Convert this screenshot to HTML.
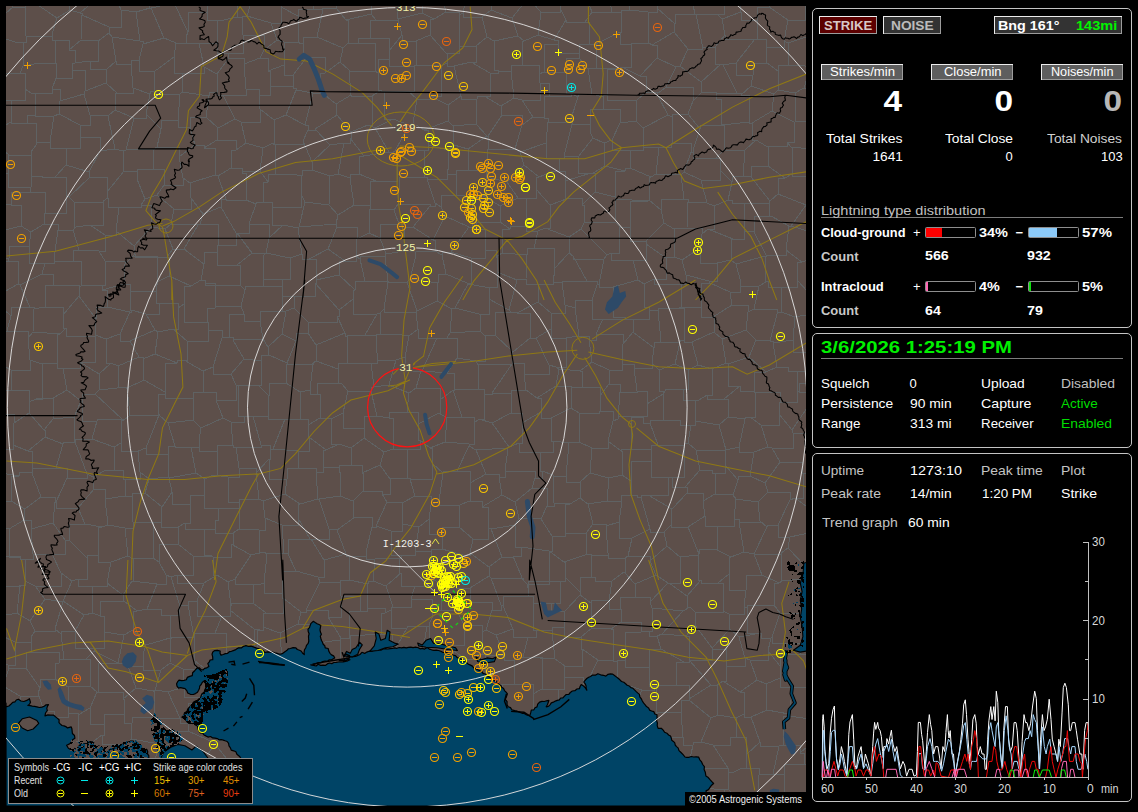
<!DOCTYPE html>
<html><head><meta charset="utf-8"><title>Lightning Map</title><style>html,body{margin:0;padding:0;background:#000}body{width:1138px;height:812px;overflow:hidden;position:relative;font-family:"Liberation Sans",sans-serif}svg{position:absolute;left:0;top:0}.t{position:absolute;white-space:nowrap;line-height:1;margin:0;padding:0}</style></head><body>
<svg width="1138" height="812" viewBox="0 0 1138 812">
<rect x="6" y="6" width="800" height="800" fill="#5d4f4a"/>
<svg x="6" y="6" width="800" height="800" viewBox="6 6 800 800" overflow="hidden">
<path d="M16 820L9 820L9 805M37 812L37 812L37 792M9 805L29 787M37 792L29 787M415 586L401 586L401 573M415 586L411 599M401 573L386 586M386 586L393 607M393 607L411 607L411 599M310 539L298 518M310 539L288 539L288 554M284 553L288 553L288 554M284 553L282 525M282 525L298 525L298 518M377 416L389 418M377 416L371 391M409 393L389 385M409 393L407 412M389 385L374 387M374 387L371 387L371 391M407 412L389 412L389 418M377 416L364 416L364 428M364 438L364 438L364 428M364 438L384 452M384 452L393 449M389 418L393 418L393 449M311 539L329 539L329 529M311 539L324 560M324 560L346 554M346 554L337 530M329 529L337 529L337 530M296 571L288 554M296 571L318 577M310 539L311 539M318 577L324 577L324 560M222 616L230 616L230 610M222 616L215 633M215 633L226 633L226 646M226 646L254 646L254 629M230 610L254 629M124 601L100 601L100 616M124 601L137 611M137 611L133 611L133 630M100 616L104 616L104 632M104 632L124 635M133 630L124 635M147 609L157 584M147 609L137 611M123 595L132 581M123 595L124 601M157 584L132 581M197 601L204 583M197 601L188 601L188 605M188 605L179 605L179 603M179 603L171 577M204 583L177 583L177 575M177 575L171 577M147 609L161 609L161 615M157 584L166 584L166 575M166 575L171 577M161 615L179 615L179 603M9 805L-4 805L-4 799M11 717L20 717L20 696M11 717L-1 717L-1 718M3 686L20 696M3 686L-11 686L-11 692M9 668L3 686M9 668L8 665M-16 653L8 665M37 792L50 792L50 789M59 767L61 767L61 770M59 767L39 762M29 787L22 775M39 762L22 762L22 775M61 770L50 770L50 789M8 261L18 261L18 284M8 261L9 258M42 274L20 285M42 274L45 263M45 263L29 263L29 246M18 284L20 284L20 285M29 246L9 246L9 258M8 261L-10 266M9 258L-6 258L-6 233M30 192L11 192L11 205M30 192L45 192L45 213M11 205L21 205L21 226M45 213L44 224M44 224L31 232M21 226L31 232M-5 202L11 205M-6 233L21 226M29 246L31 232M330 691L337 712M330 691L321 686M325 722L337 722L337 712M325 722L308 706M321 686L312 693M308 706L312 706L312 693M321 686L321 672M321 672L302 660M299 684L312 693M299 684L296 663M296 663L302 663L302 660M407 412L418 412L418 424M400 449L393 449M400 449L420 449L420 440M420 440L418 440L418 424M416 388L421 371M416 388L440 388L440 400M447 373L454 373L454 389M447 373L422 371M422 371L421 371L421 371M440 400L453 390M453 390L454 390L454 389M409 393L416 388M418 424L439 413M439 413L440 413L440 400M447 338L457 338L457 358M447 338L437 338L437 338M437 338L422 371M457 358L447 373M355 517L372 517L372 527M355 517L337 530M350 556L346 556L346 554M350 556L366 556L366 552M372 527L366 552M401 573L399 573L399 558M386 586L373 581M373 581L375 559M399 558L375 558L375 559M793 687L789 714M793 687L780 687L780 678M789 714L767 710M780 678L766 684M767 710L766 710L766 684M793 687L807 687L807 682M801 654L813 654L813 668M801 654L780 654L780 666M780 666L780 678M807 682L813 668M486 474L470 483M486 474L476 450M457 471L470 471L470 483M457 471L469 446M469 446L476 450M486 474L499 474L499 477M499 477L502 495M469 501L470 501L470 483M469 501L482 501L482 507M502 495L482 507M642 823L634 800M634 800L614 802M614 802L612 802L612 816M30 192L31 187M45 213L66 213L66 196M55 177L66 177L66 196M55 177L42 177L42 176M42 176L31 176L31 187M478 389L478 365M478 389L484 389L484 394M484 394L492 394L492 393M492 393L512 364M512 364L478 364L478 365M476 361L457 358M476 361L478 365M454 389L478 389M445 216L469 227M445 216L433 240M469 227L451 252M433 240L435 240L435 251M435 251L442 255M451 252L442 252L442 255M500 206L500 222M500 206L482 195M482 195L479 198M479 198L472 198L472 227M500 222L476 222L476 229M476 229L472 227M518 198L519 198M518 198L507 182M539 177L536 177L536 189M539 177L524 165M519 198L536 198L536 189M507 182L524 165M518 198L500 206M482 195L486 195L486 177M507 182L487 177M486 177L487 177M373 581L368 581L368 584M350 556L349 556L349 580M375 559L366 559L366 552M368 584L349 580M318 577L320 582M320 582L340 582L340 587M349 580L340 580L340 587M306 610L328 610L328 617M306 610L320 582M328 617L341 617L341 596M341 596L340 587M316 472L323 472L323 467M316 472L318 499M323 467L339 467L339 472M339 472L340 472L340 496M340 496L319 499M319 499L318 499M300 504L285 494M300 504L318 499M285 494L287 479M304 468L287 468L287 479M304 468L316 468L316 472M326 450L323 450L323 467M326 450L339 444M339 444L351 448M351 448L352 465M352 465L339 465L339 472M355 517L353 517L353 501M329 529L319 499M353 501L340 496M300 504L298 504L298 518M341 383L348 391M341 383L317 383L317 394M348 391L343 413M317 394L320 394L320 418M343 413L331 419M331 419L320 418M364 428L343 428L343 413M371 391L348 391L348 391M339 444L331 444L331 419M351 448L364 438M301 612L283 598M301 612L306 612L306 610M296 571L282 571L282 593M283 598L282 598L282 593M267 554L264 583M267 554L284 553M282 593L264 593L264 583M222 616L197 616L197 601M215 633L194 633L194 637M188 605L194 637M194 637L194 637L194 637M217 575L213 575L213 557M217 575L204 583M213 557L210 555M177 575L193 575L193 556M193 556L210 556L210 555M326 450L309 437M304 468L298 468L298 451M298 451L309 451L309 437M320 418L308 425M309 437L308 437L308 425M536 778L526 764M536 778L530 792M526 764L511 770M530 792L519 800M519 800L514 800L514 798M514 798L511 770M3 778L-14 765M3 778L21 775M21 775L13 748M13 748L-3 747M-4 799L3 778M22 775L21 775L21 775M39 762L37 762L37 744M37 744L25 738M25 738L13 748M11 717L24 726M24 726L25 738M-7 586L20 586L20 585M-13 607L1 616M20 585L17 613M1 616L17 613M1 616L-0 635M8 665L15 665L15 642M-0 635L15 642M9 668L26 668L26 668M36 652L26 652L26 668M36 652L31 652L31 637M15 642L31 642L31 637M61 770L78 775M78 775L79 795M50 789L70 789L70 807M79 795L70 795L70 807M70 813L70 813L70 807M211 691L204 691L204 697M211 691L211 691L211 673M204 697L184 697L184 687M211 673L195 661M184 687L183 669M183 669L195 669L195 661M223 692L238 716M223 692L211 692L211 691M221 721L238 721L238 716M221 721L203 721L203 703M203 703L204 703L204 697M223 692L238 692L238 686M229 654L211 673M229 654L242 661M242 661L238 686M203 703L188 703L188 723M168 692L180 718M168 692L184 687M188 723L180 723L180 718M229 654L226 654L226 646M194 637L195 661M94 648L94 651M94 648L104 648L104 632M124 635L118 663M118 663L118 663L118 663M94 651L118 663M73 230L58 230L58 230M73 230L79 250M58 230L54 259M79 250L73 250L73 261M73 261L54 261L54 259M45 263L54 263L54 259M44 224L58 224L58 230M76 227L74 227L74 202M76 227L90 225M90 225L103 225L103 201M74 202L103 202L103 201M66 196L69 196L69 197M69 197L74 202M73 230L76 227M99 251L79 250M99 251L105 251L105 235M105 235L90 225M235 119L223 95M235 119L218 128M223 95L217 95L217 92M206 117L218 128M206 117L209 96M217 92L209 92L209 96M206 117L190 117L190 127M190 127L178 127L178 120M178 120L180 94M180 94L182 92M209 96L182 92M193 398L193 420M193 398L165 398L165 394M165 394L158 394L158 414M193 420L168 423M168 423L159 415M158 414L159 414L159 415M122 419L95 394M122 419L97 419L97 421M95 394L82 394L82 401M97 421L82 421L82 401M732 305L748 305L748 312M732 305L730 292M759 286L740 286L740 279M759 286L754 309M748 312L754 309M730 292L740 292L740 279M768 281L759 286M768 281L765 281L765 256M765 256L736 264M740 279L736 264M330 691L346 685M363 705L364 705L364 703M363 705L349 711M349 711L337 712M346 685L364 685L364 703M256 715L255 715L255 696M256 715L264 715L264 719M264 719L285 719L285 715M284 694L288 711M284 694L269 694L269 680M285 715L288 711M255 696L269 696L269 680M248 718L238 716M248 718L256 715M238 686L255 696M267 742L289 750M267 742L264 719M299 741L289 741L289 750M299 741L285 715M308 706L288 706L288 711M299 684L284 694M299 741L319 741M325 722L322 740M319 741L322 741L322 740M280 818L283 800M253 816L252 805M252 805L271 788M271 788L283 788L283 800M280 633L282 661M280 633L263 627M259 630L263 630L263 627M259 630L257 630L257 660M257 660L270 668M270 668L282 661M296 663L282 661M302 660L310 660L310 644M298 624L280 633M298 624L310 624L310 644M301 612L298 624M266 613L283 613L283 598M266 613L263 613L263 627M242 661L257 661L257 660M254 629L259 629L259 630M269 680L270 668M406 741L393 747M406 741L420 741L420 744M420 744L413 772M393 747L389 747L389 771M389 771L406 771L406 776M406 776L413 776L413 772M372 738L393 747M372 738L375 722M375 722L397 722L397 719M397 719L406 719L406 741M528 752L512 740M528 752L526 752L526 764M512 740L496 749M511 770L494 764M496 749L494 764M514 798L496 798L496 800M490 797L496 800M490 797L491 767M491 767L494 767L494 764M528 752L546 744M512 740L514 740L514 719M543 726L546 744M543 726L522 726L522 717M522 717L514 719M446 759L425 759L425 776M446 759L458 776M458 776L456 776L456 789M456 789L435 789M425 776L435 776L435 789M457 791L456 789M457 791L473 800M473 800L490 797M472 766L491 766L491 767M472 766L458 766L458 776M452 645L464 645L464 625M452 645L429 645L429 624M442 610L458 610L458 613M442 610L432 610L432 618M458 613L464 625M432 618L429 624M429 661L453 661L453 650M429 661L422 657M453 650L452 650L452 645M427 626L422 657M427 626L429 626L429 624M471 602L470 588M471 602L458 613M470 588L456 588L456 579M456 579L440 584M440 584L442 610M415 586L433 586L433 579M411 599L432 599L432 618M440 584L433 579M447 338L450 333M437 338L418 338L418 329M417 311L437 301M417 311L416 312M450 333L452 309M437 301L452 309M416 312L418 329M442 534L429 534L429 519M442 534L442 549M442 549L431 549L431 557M419 527L429 519M419 527L415 551M415 551L431 551L431 557M463 555L442 549M463 555L456 579M433 579L431 579L431 557M399 558L401 558L401 555M401 555L415 555L415 551M391 531L376 526M391 531L402 531L402 524M376 526L387 502M402 524L402 524L402 503M402 503L387 502M372 527L376 527L376 526M401 555L391 555L391 531M419 527L402 524M801 654L800 654L800 643M817 633L810 633L810 630M800 643L810 630M780 666L768 651M766 684L757 680M757 680L750 660M750 660L768 660L768 651M734 772L728 772L728 789M734 772L742 768M728 789L742 803M742 803L758 803L758 802M758 802L759 775M742 768L759 768L759 775M789 714L790 714L790 716M790 716L783 716L783 745M783 745L779 745L779 746M767 710L751 717M779 746L760 746L760 742M751 717L760 742M734 772L728 772L728 768M713 745L728 768M713 745L730 745L730 737M742 768L746 768L746 755M730 737L746 737L746 755M779 746L773 774M773 774L759 774L759 775M746 755L760 742M807 682L819 694M728 789L725 789L725 790M742 803L738 803L738 825M725 790L716 815M767 818L766 807M766 807L758 807L758 802M804 764L784 764L784 783M804 764L820 773M820 773L811 792M811 792L794 797M794 797L787 797L787 793M787 793L784 793L784 783M783 745L800 745L800 753M800 753L804 753L804 764M773 774L784 774L784 783M823 803L811 792M799 824L794 824L794 797M766 807L787 793M816 739L809 739L809 719M809 719L821 719L821 710M800 753L816 739M790 716L809 719M745 419L728 417M745 419L739 447M739 447L726 450M726 450L719 425M719 425L728 417M766 372L749 357M766 372L754 372L754 391M754 391L740 391L740 386M740 386L728 386L728 364M728 364L749 357M750 417L755 417L755 392M750 417L745 417L745 419M755 392L754 392L754 391M724 399L728 399L728 417M724 399L740 386M756 340L770 340L770 341M756 340L746 330M746 330L748 312M754 309L777 309L777 314M770 341L777 314M782 287L781 287L781 312M782 287L768 287L768 281M781 312L777 312L777 314M522 717L533 717L533 694M514 719L502 713M502 713L502 685M502 685L503 684M503 684L533 684L533 694M549 689L542 689M549 689L558 689L558 712M558 712L543 726M542 689L533 694M524 657L542 657L542 689M524 657L523 657M503 684L514 684L514 660M523 657L514 660M489 567L502 557M489 567L470 553M502 557L491 529M470 553L473 539M473 539L488 539L488 528M488 528L491 529M470 588L489 576M463 555L470 555L470 553M489 576L489 567M459 527L442 527L442 534M459 527L473 539M469 501L460 505M459 527L460 505M482 507L488 507L488 528M445 442L447 418M445 442L469 444M469 444L474 444L474 423M447 418L462 417M462 417L474 417L474 423M430 448L445 442M430 448L420 440M439 413L447 418M453 390L462 417M479 419L474 423M479 419L484 419L484 394M499 477L505 477L505 471M476 450L508 448M505 471L508 448M469 446L469 444M492 423L479 419M492 423L509 447M509 447L508 447L508 448M740 692L744 692L744 714M740 692L723 681M723 681L717 685M717 685L718 715M718 715L736 718M736 718L744 714M757 680L740 692M751 717L744 717L744 714M730 737L736 737L736 718M555 659L565 666M555 659L552 632M565 666L582 666L582 649M582 649L581 649L581 637M581 637L564 637L564 627M564 627L552 627L552 632M549 689L564 689L564 677M564 677L565 666M524 657L555 659M528 637L523 657M528 637L536 637L536 630M536 630L552 630L552 632M598 660L585 687M598 660L582 649M564 677L583 677L583 687M583 687L585 687M592 628L611 629M592 628L581 637M611 629L613 629L613 661M613 661L598 660M642 690L654 690L654 686M642 690L618 682M654 686L649 686L649 667M649 667L625 667L625 660M618 682L617 682L617 663M625 660L617 660L617 663M611 691L618 691L618 682M611 691L612 691L612 709M630 717L642 690M630 717L628 717L628 717M628 717L612 717L612 709M661 649L684 662M661 649L649 649L649 667M684 662L676 662L676 685M676 685L656 685L656 687M656 687L654 686M657 636L649 636L649 631M657 636L661 649M649 631L641 632M641 632L625 632L625 660M613 661L617 661L617 663M611 691L585 687M611 629L621 622M621 622L641 622L641 632M628 717L625 717L625 738M612 709L596 709L596 719M625 738L610 738L610 749M610 749L600 742M600 742L596 742L596 719M583 687L580 687L580 714M596 719L580 714M558 712L574 717M580 714L574 714L574 717M728 768L694 768L694 769M725 790L703 788M703 788L694 769M623 771L612 771L612 762M623 771L611 797M612 762L594 773M611 797L594 797L594 790M594 790L594 773M65 148L80 148L80 137M65 148L66 148L66 165M66 165L89 172M80 137L100 137L100 151M100 151L89 172M55 177L66 165M69 197L90 177M90 177L89 172M90 177L107 177L107 192M115 149L123 151M115 149L100 151M123 151L124 171M124 171L107 192M105 235L116 235L116 231M116 231L119 207M103 201L108 198M119 207L108 207L108 198M107 192L108 198M126 150L155 149M126 150L134 118M161 129L146 114M161 129L157 147M157 147L155 147L155 149M134 118L146 118L146 114M115 149L108 116M123 151L126 150M108 116L115 110M115 110L134 118M178 120L161 120L161 129M180 94L154 94L154 91M154 91L150 91L150 94M150 94L146 114M117 93L115 93L115 110M117 93L133 93L133 88M133 88L150 94M6 39L-2 20M6 39L-12 39L-12 53M13 7L-2 20M13 7L5 -16M35 3L57 18M35 3L25 3L25 7M25 7L26 36M26 36L52 36L52 34M57 18L52 34M70 10L69 -11M70 10L57 18M36 -8L35 3M13 7L25 7L25 7M15 42L26 42L26 36M15 42L6 39M15 42L23 42L23 66M23 66L40 63M40 63L55 63L55 40M55 40L52 40L52 34M287 364L313 364L313 363M287 364L286 364L286 383M313 363L310 390M286 383L300 392M310 390L300 392M317 394L310 394L310 390M294 419L308 419L308 425M294 419L300 419L300 392M316 361L316 345M316 361L338 369M316 345L345 333M343 363L338 363L338 369M343 363L347 363L347 336M347 336L345 336L345 333M308 333L316 345M308 333L296 333L296 341M287 364L287 363M313 363L316 361M287 363L296 341M341 383L338 383L338 369M308 333L308 322M308 322L337 322L337 316M337 316L345 333M374 387L371 363M371 363L343 363L343 363M376 181L370 181L370 208M376 181L359 174M359 174L350 174L350 178M350 178L354 205M354 205L370 205L370 208M446 274L438 274L438 283M446 274L467 283M438 283L437 283L437 301M452 309L455 308M455 308L468 284M467 283L468 284M446 274L442 255M451 252L471 258M467 283L471 283L471 258M469 227L472 227M476 229L485 229L485 250M471 258L485 258L485 250M556 367L549 365M556 367L566 367L566 338M549 365L536 338M566 338L551 338L551 329M551 329L536 338M713 317L714 317L714 332M713 317L732 305M746 330L722 339M722 339L714 332M756 340L749 357M728 364L726 363M722 339L726 363M724 399L707 399L707 395M707 395L712 395L712 369M726 363L712 369M364 156L359 156L359 174M364 156L389 152M389 152L392 152L392 153M376 181L397 181L397 174M392 153L397 153L397 174M394 210L398 204M394 210L399 224M398 204L430 204L430 206M430 206L413 227M399 224L405 224L405 228M413 227L405 228M371 209L370 208M371 209L394 209L394 210M397 174L400 174L400 177M400 177L398 204M538 231L526 231L526 226M538 231L534 248M526 226L510 226L510 229M534 248L527 248L527 255M527 255L502 253M510 229L502 229L502 253M545 228L538 231M545 228L550 228L550 205M550 205L536 189M519 198L526 198L526 226M500 222L510 229M485 250L496 250L496 257M496 257L502 253M479 198L458 195M473 170L486 170L486 177M473 170L456 170L456 174M458 195L456 195L456 174M445 216L441 207M458 195L441 195L441 207M433 240L413 227M430 206L435 206L435 203M441 207L435 203M217 74L204 67M217 74L217 74L217 92M182 92L183 73M183 73L204 73L204 67M154 91L155 71M183 73L174 73L174 57M155 71L174 57M448 105L430 96M448 105L461 96M461 96L454 66M430 96L441 96L441 66M454 66L447 66L447 63M441 66L447 63M413 123L417 99M413 123L424 130M417 99L430 99L430 96M448 121L424 130M448 121L448 105M585 -5L592 12M607 -12L612 12M612 12L592 12L592 12M522 65L511 65L511 71M522 65L539 65L539 74M511 71L514 98M514 98L522 100M522 100L540 100L540 83M539 74L540 83M799 -11L805 -11L805 15M769 7L770 -10M769 7L788 20M788 20L805 20L805 15M805 15L813 19M767 63L778 71M767 63L766 63L766 47M766 47L784 47L784 41M802 65L788 65L788 43M802 65L778 65L778 71M784 41L788 43M755 39L757 39L757 20M755 39L755 39M755 39L766 39L766 47M769 7L757 7L757 20M788 20L784 41M819 65L810 65L810 68M810 68L802 65M815 34L788 43M810 68L804 88M804 88L795 93M778 71L778 71L778 90M778 90L795 93M824 162L806 162L806 176M813 202L806 176M791 147L792 147L792 174M791 147L822 150M806 176L792 176L792 174M362 473L363 473L363 491M362 473L380 465M363 491L382 491L382 494M382 494L390 494L390 479M380 465L390 479M352 465L362 465L362 473M353 501L363 491M384 452L380 465M387 502L382 494M400 449L407 449L407 478M407 478L390 478L390 479M415 496L410 479M415 496L431 496L431 505M431 505L439 501M439 501L443 473M410 479L432 479L432 463M432 463L443 473M407 478L410 478L410 479M402 503L415 496M429 519L431 505M460 505L439 505L439 501M457 471L443 471L443 473M430 448L432 448L432 463M261 584L253 584L253 603M261 584L235 584L235 579M253 603L231 603L231 606M231 606L228 582M235 579L228 582M266 613L253 603M264 583L261 583L261 584M267 554L264 552M264 552L251 555M251 555L235 579M230 610L231 606M217 575L228 582M213 557L231 557L231 544M251 555L231 544M231 544L233 544L233 533M210 555L204 555L204 529M233 533L215 533L215 520M204 529L215 529L215 520M168 423L175 446M175 446L168 446L168 454M159 415L146 448M168 454L146 454L146 448M193 556L178 544M204 529L185 529L185 523M185 523L178 527M178 527L178 544M166 575L159 562M178 544L159 544L159 562M132 581L133 581L133 559M133 559L153 558M159 562L153 558M264 552L259 552L259 530M233 533L239 529M259 530L239 529M282 525L265 518M259 530L265 530L265 518M285 494L263 501M265 518L263 501M298 451L273 449M294 419L285 419L285 419M273 449L285 419M470 818L473 818L473 800M496 800L496 800L496 822M519 800L526 800L526 817M75 442L63 442L63 444M75 442L87 474M63 444L56 468M56 468L67 468L67 478M67 478L87 478L87 474M152 821L146 821L146 797M179 797L163 797L163 823M179 797L169 797L169 790M169 790L146 790L146 797M185 762L165 775M185 762L178 744M178 744L160 745M160 745L152 767M152 767L165 775M194 768L185 762M194 768L186 796M186 796L179 797M169 790L165 775M146 797L133 797L133 786M135 774L133 786M135 774L152 767M349 791L325 792M349 791L363 791L363 798M354 820L364 810M364 810L363 810L363 798M325 792L334 792L334 820M17 613L30 621M31 637L35 631M35 631L30 621M120 817L125 817L125 793M102 822L98 797M125 793L104 790M104 790L98 797M133 786L125 793M79 795L98 797M217 741L240 737M217 741L215 743M215 743L215 743L215 744M215 744L234 768M240 737L251 758M234 768L245 770M251 758L249 758L249 768M249 768L245 770M248 718L240 737M221 721L217 741M188 731L188 731L188 723M188 731L215 743M194 768L198 768M188 731L178 731L178 744M198 768L215 744M198 768L214 768L214 777M214 777L234 777L234 768M267 742L251 758M289 750L287 750L287 764M287 764L266 775M266 775L249 768M241 790L245 770M241 790L252 805M266 775L271 775L271 788M59 767L63 744M37 744L55 737M63 744L55 737M170 663L171 639M170 663L161 670M161 670L143 670L143 654M170 638L171 638L171 639M170 638L146 645M146 645L143 654M194 637L171 637L171 639M183 669L170 663M168 692L155 690M155 690L161 670M161 615L170 615L170 638M133 630L146 645M118 663L128 663L128 666M128 666L143 666L143 654M153 691L136 688M153 691L154 691L154 717M136 688L123 699M154 717L154 717M154 717L132 717L132 723M123 699L124 699L124 714M132 723L124 723L124 714M128 666L136 688M155 690L153 691M180 718L154 718L154 717M118 663L98 663L98 692M98 692L123 692L123 699M160 744L154 717M160 744L160 744L160 745M160 744L131 739M131 739L132 723M94 648L75 648L75 631M94 651L86 659M75 631L61 631L61 634M61 634L64 659M86 659L64 659L64 659M36 652L59 652L59 663M61 634L55 629M35 631L55 631L55 629M64 659L59 659L59 663M-7 337L4 366M-15 371L4 366M30 307L20 285M30 307L11 307L11 316M18 284L-1 295M11 316L-2 304M7 331L-7 337M7 331L11 316M42 274L53 274L53 285M53 285L80 286M73 261L81 261L81 286M81 286L80 286M30 307L34 307L34 309M53 285L45 285L45 307M34 309L45 307M79 296L80 286M79 296L63 315M45 307L63 307L63 315M12 390L11 390L11 370M12 390L-4 390L-4 402M4 366L11 370M108 116L90 115M80 137L80 125M80 125L90 125L90 115M81 401L74 417M81 401L67 390M74 417L53 419M53 419L53 419L53 398M67 390L53 398M92 439L75 439L75 441M92 439L97 421M75 441L74 441L74 417M82 401L81 401M95 394L99 390M63 368L80 368L80 362M63 368L67 390M99 390L99 374M80 362L99 374M44 430L29 413M44 430L45 430L45 437M45 437L28 451M14 423L13 423L13 445M14 423L29 413M13 445L28 451M29 402L36 399M29 402L29 402L29 413M36 399L53 398M53 419L44 430M75 442L75 441M63 444L45 437M-3 449L13 449L13 445M-6 414L14 414L14 423M12 390L29 390L29 402M834 282L808 292M802 262L813 258M802 262L797 262L797 280M797 280L808 292M818 317L811 314M811 314L808 314L808 292M782 287L797 287L797 280M811 314L795 317M795 317L781 312M713 317L701 317L701 307M730 292L710 283M710 283L701 283L701 307M363 705L375 722M397 719L400 719L400 713M364 703L379 685M400 713L398 693M379 685L398 693M400 713L424 715M424 715L428 715L428 692M428 692L409 689M398 693L409 689M428 692L438 687M429 661L438 661L438 687M422 657L410 657L410 659M409 689L410 659M339 762L333 746M339 762L350 768M333 746L351 746L351 741M350 768L367 768L367 763M351 741L365 744M367 763L365 744M349 711L351 711L351 741M322 740L333 746M349 791L350 791L350 768M378 774L373 774L373 788M378 774L367 774L367 763M363 798L373 798L373 788M372 738L365 738L365 744M378 774L389 771M364 810L385 823M373 788L399 788L399 802M385 823L399 823L399 802M406 776L406 799M413 772L425 772L425 776M435 789L420 789L420 807M420 807L406 807L406 799M406 799L399 799L399 802M368 584L367 584L367 608M341 596L360 596L360 611M360 611L367 611L367 608M297 791L292 768M297 791L315 791L315 794M292 768L313 768L313 769M313 769L323 787M315 794L323 790M323 787L323 790M287 764L292 768M283 800L297 791M305 821L315 821L315 794M319 741L313 741L313 769M339 762L323 787M325 792L323 790M496 749L480 736M472 766L468 742M480 736L468 742M502 713L484 713L484 717M480 736L484 736L484 717M409 336L395 334M409 336L405 357M395 334L376 334L376 347M396 360L405 357M396 360L377 360L377 353M377 353L376 347M421 371L405 371L405 357M418 329L409 336M389 385L396 360M371 363L377 363L377 353M365 335L347 336M365 335L376 335L376 347M810 630L809 630L809 622M835 605L809 605L809 622M823 504L810 509M810 509L813 532M657 636L662 634M684 662L689 662L689 660M662 634L686 636M686 636L689 636L689 660M676 685L689 685L689 699M689 699L711 685M711 685L689 660M689 660L689 660M686 636L695 625M695 625L712 648M689 660L712 660L712 649M712 648L712 649M711 685L717 685M723 681L726 681L726 666M712 649L726 649L726 666M750 660L745 658M726 666L745 666L745 658M800 643L772 643L772 637M809 622L801 614M801 614L780 613M772 637L780 613M768 651L771 638M772 637L771 638M637 597L650 597L650 602M637 597L620 597L620 609M620 609L621 609L621 622M649 631L652 631L652 608M652 608L650 602M662 634L683 611M652 608L683 611M695 612L690 607M695 612L695 612L695 625M683 611L690 607M795 498L803 498L803 473M795 498L810 509M803 473L826 475M750 417L761 425M754 452L739 452L739 447M754 452L768 447M768 447L761 425M780 462L772 448M780 462L765 483M754 452L750 476M768 447L772 448M765 483L750 476M707 395L699 400M719 425L695 421M699 400L695 400L695 421M688 443L696 450M688 443L691 425M726 450L726 450M726 450L696 450L696 450M691 425L695 425L695 421M773 343L793 340M773 343L777 367M777 367L788 367L788 371M788 371L807 371L807 352M807 352L793 352L793 340M770 341L773 341L773 343M795 317L793 340M766 372L777 367M821 328L812 351M812 351L807 351L807 352M812 351L817 356M490 683L485 683L485 657M490 683L502 685M514 660L504 660L504 655M504 655L485 655L485 657M453 650L465 659M465 659L477 659L477 654M464 625L482 625L482 632M477 654L482 654L482 632M536 630L533 630L533 603M533 603L551 603M564 627L565 611M565 611L551 611L551 603M489 576L491 578M491 578L523 578L523 580M502 557L513 557L513 556M523 580L513 556M715 549L717 549L717 526M715 549L699 549L699 554M699 554L688 527M717 526L705 526L705 516M688 527L705 516M637 597L635 597L635 584M635 584L656 575M650 602L668 583M656 575L668 583M586 747L571 747L571 741M586 747L583 767M571 741L556 741L556 749M556 749L561 773M583 767L561 767L561 773M600 742L586 742L586 747M574 717L571 741M610 749L612 762M594 773L583 767M546 744L556 744L556 749M536 778L561 773M561 773L561 773M689 699L689 699L689 700M718 715L711 718M711 718L689 700M713 745L701 742M711 718L701 742M694 769L689 769L689 763M689 763L693 745M701 742L693 742L693 745M644 747L633 772M644 747L653 747L653 744M653 744L665 772M665 772L645 782M645 782L633 772M625 738L644 747M623 771L633 771L633 772M645 787L634 787L634 800M645 787L645 787L645 782M611 797L614 797L614 802M693 801L676 801L676 792M693 801L694 818M680 826L661 811M676 792L661 792L661 807M661 807L661 807L661 811M703 788L693 801M671 773L689 773L689 763M671 773L676 773L676 792M642 823L661 811M645 787L661 807M671 773L665 772M564 785L582 798M564 785L553 802M582 798L581 818M553 802L554 815M594 790L582 798M561 773L564 773L564 785M530 792L553 792L553 802M65 148L50 148L50 142M59 114L80 125M59 114L54 116M50 142L54 116M11 100L25 100L25 89M11 100L-8 100L-8 95M20 73L25 73L25 89M20 73L-8 75M20 73L23 66M31 187L8 187L8 173M8 173L-3 173L-3 183M153 169L164 169L164 185M153 169L137 169L137 179M137 179L145 199M164 185L157 195M157 195L145 199M124 171L137 171L137 179M155 149L153 149L153 169M119 207L141 207L141 205M141 205L145 199M338 174L350 178M338 174L330 176M354 205L338 215M338 215L329 205M329 205L330 176M235 119L241 122M218 128L217 128L217 140M217 140L236 140L236 150M236 150L246 143M241 122L246 143M292 174L275 174L275 144M292 174L268 174L268 182M275 144L273 144L273 143M268 182L260 171M260 171L263 148M263 148L273 143M345 261L328 249M345 261L339 261L339 275M309 259L328 249M309 259L316 259L316 280M339 275L316 280M308 322L294 308M337 316L339 316L339 310M299 296L294 296L294 308M299 296L315 296L315 283M339 310L315 283M416 312L384 312L384 309M395 334L380 334L380 313M384 309L380 313M365 335L377 314M339 310L353 299M377 314L353 314L353 299M377 314L380 313M339 275L355 290M315 283L316 283L316 280M355 290L353 290L353 299M417 311L407 282M438 283L410 279M407 282L410 279M384 309L388 282M407 282L388 282L388 282M435 251L415 251L415 259M410 279L415 259M365 281L388 281L388 282M365 281L355 281L355 290M388 282L388 282M405 228L404 228L404 251M404 251L415 251L415 259M380 238L386 254M380 238L369 233M369 233L357 239M386 254L385 256M385 256L360 256L360 259M357 239L356 239L356 256M356 256L360 259M399 224L380 224L380 238M404 251L386 254M371 209L369 209L369 233M338 215L336 224M336 224L337 227M337 227L357 227L357 239M388 282L385 256M365 281L360 259M337 227L328 249M345 261L356 261L356 256M450 333L480 331M455 308L479 314M479 314L480 314L480 331M476 361L485 361L485 336M485 336L480 331M485 287L497 287L497 272M485 287L489 287L489 299M489 299L509 310M509 310L517 280M517 280L497 272M468 284L485 287M496 257L497 257L497 272M479 314L489 314L489 299M526 279L517 280M526 279L527 255M492 393L511 393L511 401M512 364L512 364L512 363M512 363L524 363L524 374M524 374L526 390M526 390L511 390L511 401M492 423L511 413M511 413L511 401M559 369L556 386M559 369L580 371M580 371L582 371L582 387M582 387L571 387L571 404M556 386L571 386L571 404M559 369L556 367M524 374L549 374L549 365M526 390L537 398M556 386L537 398M589 340L596 340L596 334M589 340L592 362M596 334L623 334L623 344M592 362L609 370M609 370L622 370L622 364M622 364L623 344M580 371L592 362M566 338L579 336M579 336L589 336L589 340M389 152L375 128M392 153L395 151M395 151L409 125M409 125L393 119M375 128L393 119M539 177L554 171M550 205L569 198M569 198L565 198L565 181M554 171L565 171L565 181M424 177L424 150M424 177L427 177L427 179M427 179L447 179L447 169M447 169L448 169L448 150M448 150L428 145M424 150L428 150L428 145M395 151L424 150M400 177L424 177M435 203L427 179M456 174L447 174L447 169M409 125L413 123M424 130L428 130L428 145M223 95L246 95L246 89M229 58L244 58L244 64M229 58L217 74M244 64L246 89M229 58L228 58L228 53M228 53L217 53L217 44M204 67L199 43M217 44L199 43M174 57L176 43M176 43L186 43L186 37M199 43L186 43L186 37M228 53L243 53L243 35M243 35L242 18M224 20L217 20L217 44M224 20L237 17M242 18L237 17M139 60L143 44M139 60L131 60L131 64M131 64L116 64L116 61M140 41L143 41L143 44M140 41L112 37M116 61L112 37M164 38L176 43M164 38L143 44M155 71L139 71L139 60M133 88L131 64M107 69L116 61M107 69L106 83M106 83L117 93M70 10L80 13M80 13L104 -8M98 41L81 40M98 41L109 33M109 33L109 33L109 27M109 27L82 15M81 40L82 15M90 61L98 61L98 41M90 61L75 63M69 50L75 50L75 63M69 50L81 40M107 69L90 69L90 61M112 37L109 33M55 40L69 40L69 50M80 13L82 13L82 15M343 -10L336 -10L336 8M336 8L322 8L322 14M307 -6L313 -6L313 9M313 9L322 9L322 14M454 145L453 126M454 145L468 149M453 126L476 124M468 149L487 136M476 124L487 136M448 121L453 126M448 150L454 145M473 170L468 170L468 149M477 99L461 99L461 96M477 99L476 99L476 124M501 149L487 149L487 177M501 149L488 149L488 136M488 136L487 136M488 136L502 115M484 96L477 96L477 99M484 96L501 106M501 106L502 115M554 40L566 20M554 40L538 35M538 35L541 12M541 12L560 12L560 8M560 8L566 20M567 -12L560 -12L560 8M592 12L585 22M585 22L566 22L566 20M512 18L528 -2M512 18L491 10M495 -10L491 -10L491 10M524 41L518 36M524 41L538 35M518 36L512 18M541 12L528 -2M484 96L490 96L490 73M454 66L471 62M490 73L471 62M501 106L514 98M511 71L498 71L498 70M490 73L498 73L498 70M524 41L522 41L522 65M518 36L494 41M498 70L494 70L494 41M482 17L463 17L463 13M482 17L487 37M476 46L487 37M476 46L459 46L459 34M459 34L459 34L459 15M459 15L463 13M491 10L482 17M468 -13L463 13M494 41L487 37M471 62L476 62L476 46M446 53L459 53L459 34M446 53L447 53L447 63M440 -12L446 12M446 12L459 12L459 15M502 115L522 115L522 125M522 100L533 117M533 117L522 125M501 149L515 149M522 125L515 149M524 165L520 152M520 152L515 149M540 83L549 83L549 96M533 117L544 117L544 118M549 96L544 96L544 118M618 69L617 69L617 68M618 69L607 69L607 95M617 68L588 68L588 69M607 95L603 95L603 97M603 97L592 94M592 94L588 69M618 69L622 67M617 68L596 68L596 44M596 44L620 32M622 67L631 67L631 44M631 44L620 44L620 32M612 12L621 12L621 16M585 22L589 22L589 44M596 44L589 44M620 32L621 32L621 16M629 -13L629 10M629 10L621 10L621 16M721 64L701 82M721 64L715 64L715 47M688 49L680 66M688 49L702 49L702 44M701 82L680 66M715 47L702 47L702 44M741 12L737 -15M741 12L722 19M722 19L717 14M717 14L724 14L724 -16M757 20L741 20L741 12M755 39L725 39L725 35M725 35L722 19M696 14L717 14L717 14M696 14L702 44M725 35L715 47M755 39L736 63M767 63L753 63L753 75M753 75L736 75L736 63M721 64L723 64L723 65M736 63L723 65M795 122L794 122L794 122M795 122L813 121M791 147L787 142M787 142L794 142L794 122M804 88L822 88L822 110M795 93L795 93L795 122M814 233L791 226M813 202L806 202L806 205M791 226L806 205M215 520L218 520L218 508M239 529L239 502M218 508L239 508L239 502M263 501L259 499M259 499L239 499L239 502M239 502L239 502L239 502M239 468L236 447M239 468L256 468L256 473M236 447L261 447L261 445M256 473L269 459M261 445L270 445L270 451M269 459L270 459L270 451M259 499L256 473M239 502L228 502L228 477M228 477L239 477L239 468M287 479L269 479L269 459M273 449L270 449L270 451M233 445L217 445L217 451M233 445L231 422M223 418L231 422M223 418L201 428M217 451L199 451L199 441M199 441L201 428M228 477L213 475M213 475L217 475L217 451M236 447L233 447L233 445M202 392L216 392L216 400M202 392L193 392L193 398M193 420L201 428M216 400L223 418M191 447L175 447L175 446M191 447L199 447L199 441M261 445L253 416M231 422L244 422L244 416M244 416L253 416L253 416M285 419L268 419L268 408M253 416L268 416L268 408M286 383L269 383L269 396M269 396L268 396L268 408M100 616L93 613M75 631L84 615M93 613L84 615M56 468L32 468L32 473M28 451L32 451L32 472M32 472L32 473M67 478L56 502M87 474L93 477M93 477L94 489M94 489L78 508M78 508L56 508L56 502M195 801L200 816M195 801L213 792M213 792L226 792L226 799M226 799L225 799L225 821M214 777L213 792M186 796L195 796L195 801M241 790L226 790L226 799M135 774L124 774L124 763M104 790L96 766M124 763L96 766M131 739L127 744M124 763L127 763L127 744M78 775L95 765M95 765L96 765L96 766M24 726L44 726L44 711M55 737L54 717M44 711L54 711L54 717M20 696L38 696L38 693M44 711L38 693M26 668L40 688M59 663L55 663L55 679M55 679L40 679L40 688M38 693L40 688M98 692L97 692M86 659L90 659L90 686M97 692L90 686M55 679L68 687M90 686L68 687M54 717L68 717L68 713M68 687L68 713M99 251L105 261M81 286L88 285M88 285L105 285L105 261M28 338L30 360M28 338L33 332M33 332L60 334M30 360L42 364M60 334L57 334L57 363M42 364L57 363M7 331L28 331L28 338M11 370L30 370L30 360M34 309L33 332M66 328L60 334M66 328L63 328L63 315M36 399L42 399L42 364M63 368L57 368L57 363M80 362L95 362L95 336M95 336L66 336L66 328M122 419L124 419L124 420M99 390L126 387M124 420L130 415M130 415L127 388M127 388L126 388L126 387M99 374L111 363M126 387L118 387L118 366M111 363L118 366M141 205L151 205L151 227M157 195L174 209M174 209L171 224M171 224L165 229M151 227L165 229M116 231L134 246M151 227L134 246M171 224L198 224L198 225M165 229L173 249M173 249L184 249L184 249M184 249L198 225M52 89L56 78M52 89L60 89L60 101M60 101L84 94M56 78L72 78L72 70M72 70L85 70L85 91M85 91L84 91L84 94M31 93L25 89M31 93L52 93L52 89M40 63L56 63L56 78M31 93L35 93L35 115M59 114L60 101M54 116L35 116L35 115M90 115L84 94M75 63L72 63L72 70M106 83L85 91M596 334L603 319M623 344L633 332M633 332L633 332L633 319M633 319L625 319L625 317M603 319L625 319L625 317M709 281L686 275M709 281L717 281L717 263M717 263L700 263L700 248M700 248L682 260M682 260L686 275M710 283L709 281M701 307L679 307L679 308M679 308L681 308L681 284M681 284L686 284L686 275M736 264L731 260M731 260L717 263M733 239L731 239L731 260M733 239L708 229M708 229L702 234M702 234L700 248M407 628L393 653M407 628L391 628L391 610M391 610L385 613M385 613L381 613L381 634M381 634L392 634L392 653M393 653L392 653M427 626L407 626L407 628M410 659L393 659L393 653M393 607L391 607L391 610M367 608L385 608L385 613M475 710L456 710M475 710L479 685M456 710L445 710L445 688M445 688L463 675M479 685L463 675M490 683L479 685M484 717L475 710M465 659L463 675M438 687L445 687L445 688M477 654L485 654L485 657M443 750L430 740M443 750L467 742M467 742L452 717M452 717L432 730M430 740L432 730M420 744L430 744L430 740M446 759L443 759L443 750M468 742L467 742M456 710L452 717M424 715L432 715L432 730M815 585L806 583M805 566L817 566L817 555M805 566L802 566L802 579M802 579L806 579L806 583M801 614L806 583M779 583L782 581M779 583L774 583L774 605M782 581L802 579M774 605L780 613M779 583L762 575M782 581L781 553M762 575L754 554M754 554L781 554L781 553M805 566L788 548M781 553L788 548M813 532L790 537M790 537L788 548M761 633L747 633L747 607M761 633L739 637M730 629L739 637M730 629L729 629L729 614M729 614L744 614L744 607M747 607L744 607M771 638L761 638L761 633M774 605L747 605L747 607M745 658L739 637M712 648L730 629M695 612L723 612L723 611M723 611L729 614M746 590L729 590L729 574M746 590L744 607M729 574L718 583M718 583L723 583L723 611M762 575L746 575L746 590M755 392L780 392L780 402M761 425L779 425L779 414M780 402L779 402L779 414M788 371L797 371L797 391M780 402L797 402L797 391M712 473L725 473L725 465M712 473L715 473L715 494M725 465L738 480M738 480L733 495M715 494L733 495M726 450L725 450L725 465M700 470L696 450M700 470L712 470L712 473M685 487L687 487L687 493M685 487L700 470M687 493L703 493L703 501M703 501L715 494M750 476L738 476L738 480M717 526L734 526L734 519M734 519L736 499M736 499L733 495M703 501L705 516M765 483L768 492M736 499L758 502M768 492L758 502M795 498L790 500M780 462L802 462L802 473M803 473L802 473M768 492L790 492L790 500M790 537L778 537L778 525M790 500L778 525M486 630L496 635M486 630L492 610M496 635L513 629M513 629L503 606M492 610L501 610L501 605M501 605L503 605L503 606M504 655L496 635M482 632L486 630M471 602L492 602L492 610M528 637L513 637L513 629M527 596L533 596L533 603M527 596L503 596L503 606M491 578L501 605M527 596L528 596L528 588M551 603L560 603L560 581M560 581L528 581L528 588M523 580L527 584M528 588L527 584M513 556L521 556L521 547M527 584L549 584L549 551M521 547L549 551M491 529L515 525M521 547L515 547L515 525M688 527L671 527L671 525M687 493L672 509M672 509L671 509L671 525M685 487L672 487L672 477M672 509L648 495M648 495L668 495L668 477M672 477L668 477L668 477M688 443L684 443L684 445M672 477L684 477L684 445M560 581L565 581L565 577M549 551L549 551M549 551L564 562M564 562L565 562L565 577M635 584L624 572M628 556L625 558M628 556L650 556L650 561M656 575L650 561M624 572L625 572L625 558M687 596L669 583M687 596L701 580M669 583L680 583L680 557M701 580L698 580L698 555M698 555L680 557M690 607L687 607L687 596M668 583L669 583M718 583L701 583L701 580M667 546L680 557M667 546L650 561M731 557L729 557L729 574M731 557L715 549M699 554L698 554L698 555M667 546L664 532M664 532L671 525M681 712L683 737M681 712L657 712L657 714M683 737L658 737L658 738M658 738L652 720M652 720L657 714M689 700L681 700L681 712M693 745L683 745L683 737M656 687L657 714M653 744L658 744L658 738M630 717L652 720M27 123L36 123L36 145M27 123L11 123L11 122M2 127L3 127L3 150M2 127L11 122M3 150L9 155M9 155L31 155L31 152M31 152L36 145M50 142L36 142L36 145M35 115L27 115L27 123M11 100L11 122M-19 118L2 127M-15 154L3 150M8 173L9 155M42 176L31 176L31 152M244 416L238 416L238 387M269 396L258 385M258 385L238 385L238 387M216 400L236 400L236 385M236 385L238 385L238 387M296 341L282 334M294 308L286 311M282 334L286 311M190 127L195 145M217 140L204 148M195 145L204 145L204 148M157 147L179 147L179 157M195 145L179 157M164 185L183 185L183 178M179 157L183 178M236 150L231 150L231 168M260 171L242 171L242 173M246 143L263 148M231 168L242 168L242 173M299 227L298 228M299 227L305 202M298 228L283 225M283 225L272 225L272 207M272 207L301 207L301 194M305 202L301 194M336 224L299 227M309 259L302 259L302 254M302 254L298 228M329 205L305 202M292 174L302 176M302 176L301 176L301 194M268 182L263 182L263 202M263 202L272 202L272 207M330 176L312 170M312 170L302 170L302 176M517 313L511 312M517 313L530 313L530 338M511 312L495 312L495 335M495 335L513 352M513 352L530 338M538 302L517 313M538 302L538 302L538 284M538 284L526 284L526 279M509 310L511 312M551 313L551 329M551 313L538 302M536 338L530 338L530 338M485 336L495 335M512 363L513 352M582 387L600 387L600 396M579 413L599 413L599 411M579 413L571 408M571 404L571 408M599 411L600 411L600 396M609 370L609 384M600 396L609 384M599 411L613 411L613 421M609 384L620 384L620 392M620 392L618 419M618 419L613 421M540 452L553 452L553 441M540 452L519 452L519 443M553 441L551 441L551 418M519 443L522 443L522 423M522 423L541 412M551 418L541 418L541 412M505 471L535 471L535 478M509 447L519 443M535 478L542 478L542 471M542 471L540 471L540 452M579 442L579 442L579 413M579 442L569 442L569 443M569 443L553 441M571 408L551 418M511 413L522 413L522 423M537 398L541 398L541 412M417 99L408 91M393 119L384 119L384 91M384 91L408 91L408 91M275 144L303 144L303 141M312 170L312 170L312 162M312 162L303 141M630 150L612 150L612 140M630 150L643 150L643 137M612 140L620 123M620 123L636 121M636 121L643 128M643 137L643 128M656 174L659 147M656 174L651 177M659 147L643 147L643 137M651 177L630 168M630 168L630 150M637 100L636 121M637 100L607 100L607 95M604 109L620 109L620 123M604 109L603 97M554 171L559 171L559 158M520 152L546 143M559 158L546 158L546 143M549 96L571 96L571 93M544 118L548 118L548 122M578 97L571 93M578 97L570 122M570 122L548 122L548 122M546 143L548 122M204 -8L207 -8L207 12M207 12L188 12L188 32M188 32L174 3M174 3L179 3L179 -4M224 20L207 20L207 12M227 -8L237 -8L237 17M186 37L188 32M151 8L164 38M151 8L174 3M243 35L264 35L264 50M244 64L260 58M260 58L264 50M260 109L274 120M260 109L259 95M259 95L270 95L270 86M274 120L286 115M286 115L296 90M270 86L293 86L293 88M293 88L296 88L296 90M241 122L260 122L260 109M273 143L274 143L274 120M246 89L259 89L259 95M260 58L268 58L268 71M268 71L270 71L270 86M305 125L286 115M305 125L308 125L308 130M308 130L303 141M305 125L313 93M313 93L296 90M293 75L284 75L284 65M293 75L293 88M268 71L284 65M121 10L116 -3M121 10L136 12M150 8L136 12M150 8L148 -17M109 27L121 27L121 10M140 41L136 12M151 8L150 8L150 8M247 16L254 -7M247 16L242 16L242 18M441 66L416 65M408 91L414 91L414 66M416 65L414 66M434 19L430 19L430 35M434 19L422 13M422 13L398 19M430 35L416 41M416 41L402 41L402 35M402 35L398 20M398 20L398 19M446 53L430 35M446 12L434 19M415 -14L422 -14L422 13M397 -10L398 19M416 65L416 41M336 8L346 20M368 -11L371 -11L371 14M346 20L371 14M398 20L376 20M376 20L371 14M579 53L579 53L579 58M579 53L558 53L558 44M579 58L566 58L566 74M558 44L544 44L544 72M544 72L566 72L566 74M589 44L579 44L579 53M588 69L579 58M554 40L558 40L558 44M592 94L578 94L578 97M571 93L566 93L566 74M539 74L544 72M696 14L695 14L695 14M695 14L689 -13M649 43L648 43L648 12M649 43L652 45M652 45L674 32M648 12L657 12L657 8M657 8L675 24M674 32L675 24M631 44L649 43M629 10L648 12M663 -6L657 8M695 14L675 14L675 24M688 49L674 32M680 66L676 67M652 45L657 45L657 58M657 58L676 67M622 67L640 76M657 58L640 76M637 100L646 92M640 76L646 76L646 92M792 174L785 178M806 205L778 194M785 178L778 178L778 194M766 146L787 146L787 142M766 146L768 146L768 166M785 178L768 166M702 92L701 82M702 92L716 92L716 99M723 65L737 93M737 93L716 93L716 99M802 262L786 250M791 226L789 226L789 226M789 226L786 250M765 256L766 256L766 255M766 255L786 255L786 250M196 473L169 478M196 473L205 479M205 479L204 495M204 495L190 495L190 504M190 504L172 504L172 492M172 492L169 478M191 447L196 473M168 454L168 454L168 477M168 477L169 478M213 475L205 479M218 508L204 508L204 495M185 523L190 523L190 504M92 439L114 447M93 477L106 470M106 470L114 470L114 447M124 420L121 420L121 443M130 415L158 415L158 414M146 448L138 451M138 451L121 451L121 443M114 447L121 443M102 527L85 524M102 527L108 525M94 489L105 489L105 499M85 524L78 508M105 499L108 525M123 595L107 583M93 613L92 586M92 586L107 586L107 583M128 556L133 559M128 556L111 562M107 583L111 562M128 556L125 528M102 527L98 527L98 555M125 528L108 525M111 562L98 562L98 555M20 585L25 585L25 581M25 581L35 586M30 621L45 599M35 586L45 599M55 629L63 602M45 599L63 602M84 615L63 601M63 602L63 601M19 476L11 476L11 501M19 476L-5 472M11 501L-3 502M32 472L19 472L19 476M102 735L90 744M102 735L104 735L104 724M104 724L90 724L90 708M83 741L78 741L78 715M83 741L90 744M90 708L78 715M127 744L102 744L102 735M95 765L90 765L90 744M124 714L104 714L104 724M97 692L90 708M63 744L83 741M68 713L78 713L78 715M202 392L203 392L203 371M231 374L236 385M231 374L213 374L213 367M203 371L213 367M177 363L155 354M177 363L165 363L165 392M165 392L144 380M144 380L143 359M155 354L143 359M165 394L165 392M184 360L203 371M184 360L177 360L177 363M127 388L144 380M139 357L118 366M139 357L143 357L143 359M79 296L96 319M88 285L102 285L102 290M102 290L107 290L107 307M107 307L96 307L96 319M95 336L95 335M96 319L95 335M111 363L106 363L106 339M95 335L106 339M158 332L173 329M158 332L155 354M184 360L187 360L187 341M173 329L187 341M237 265L240 265L240 285M237 265L217 265L217 252M240 285L205 285L205 283M217 252L204 252L204 264M204 264L201 280M201 280L205 280L205 283M299 296L282 296L282 279M259 286L263 286L263 281M259 286L282 286L282 311M286 311L282 311L282 311M282 279L263 279L263 281M302 254L290 258M282 279L290 279L290 258M643 128L668 115M646 92L657 92L657 94M668 115L657 94M676 67L666 87M657 94L666 87M702 92L693 101M666 87L693 87L693 101M579 336L575 308M603 319L592 319L592 300M592 300L575 300L575 308M551 313L565 313L565 305M565 305L575 308M679 308L679 308M679 308L658 308L658 310M658 310L649 310L649 307M649 307L644 307L644 284M681 284L654 284L654 279M644 284L654 279M420 807L423 807L423 816M457 791L443 791L443 816M377 671L380 664M377 671L347 667M380 664L350 664L350 636M347 667L341 661M341 661L340 640M341 638L349 638L349 635M341 638L340 640M349 635L350 636M379 685L377 685L377 671M392 653L380 653L380 664M346 685L347 685L347 667M381 634L350 636M321 672L341 661M310 644L340 640M328 617L341 638M360 611L349 611L349 635M739 522L760 522L760 521M739 522L744 552M744 552L754 554M754 554L767 527M760 521L767 527M734 519L739 519L739 522M758 502L760 521M731 557L744 552M754 554L754 554L754 554M778 525L767 525L767 527M772 448L793 448L793 433M779 414L792 430M793 433L792 430M802 473L810 473L810 442M793 433L810 433L810 442M810 442L817 439M633 332L654 348M633 319L649 319L649 307M658 310L661 342M661 342L654 342L654 348M698 365L692 342M698 365L688 370M688 370L675 364M675 364L680 342M692 342L684 342L684 340M684 340L680 340L680 342M714 332L692 342M712 369L698 365M699 400L683 400L683 389M683 389L688 389L688 370M679 308L684 308L684 340M661 342L680 342L680 342M663 394L647 404M663 394L665 391M665 391L659 391L659 370M637 391L647 391L647 404M637 391L634 368M634 368L652 368L652 363M652 363L659 370M691 425L680 425L680 420M680 420L663 420L663 394M683 389L665 389L665 391M675 364L659 370M620 392L637 392L637 391M643 416L618 416L618 419M643 416L647 416L647 404M622 364L634 364L634 368M654 348L652 363M502 495L515 502M535 478L532 488M532 488L515 502M515 525L519 518M515 502L519 518M609 600L591 600L591 603M609 600L612 581M612 581L595 581L595 577M595 577L580 577L580 592M591 603L580 595M580 595L580 592M592 628L591 628L591 603M620 609L609 609L609 600M624 572L612 581M565 611L580 595M565 577L580 592M564 562L588 554M595 577L591 577L591 555M588 554L591 554L591 555M625 558L608 558L608 553M591 555L608 555L608 553M569 443L566 476M542 471L553 475M566 476L553 476L553 475M664 532L650 532L650 529M648 495L641 495L641 497M641 497L650 529M628 556L632 538M632 538L650 529M241 306L215 306L215 308M241 306L244 314M244 314L229 314L229 337M215 308L207 308L207 322M207 322L208 322L208 330M208 330L222 330L222 338M229 337L222 338M245 290L240 285M245 290L241 306M205 283L215 283L215 308M259 286L245 286L245 290M282 311L260 311L260 321M260 321L244 321L244 314M213 367L222 338M187 341L208 341L208 330M268 347L263 339M268 347L269 355M263 339L233 339L233 340M269 355L261 355L261 361M261 361L244 359M244 359L233 340M282 334L268 347M260 321L263 339M287 363L269 355M229 337L233 337L233 340M258 385L261 385L261 361M231 374L244 359M184 249L204 264M198 225L200 224M217 252L218 245M200 224L218 224L218 245M242 173L246 173L246 200M263 202L256 202L256 204M246 200L256 204M680 420L650 420L650 423M684 445L658 445M658 445L650 423M643 416L643 417M650 423L643 423L643 417M579 442L592 448M580 482L566 482L566 476M580 482L590 473M590 473L592 448M613 421L608 441M592 448L608 448L608 441M337 115L315 129M337 115L351 132M315 129L330 145M330 145L344 143M344 143L350 143L350 138M350 138L351 138L351 132M308 130L315 130L315 129M312 162L330 145M338 174L344 143M364 156L350 138M375 128L368 125M368 125L351 132M656 174L681 175M651 177L649 177L649 200M681 175L684 199M684 199L661 199L661 210M661 210L649 200M625 171L615 171L615 197M625 171L605 166M605 166L593 173M593 173L595 173L595 192M595 192L615 197M630 168L625 168L625 171M612 140L604 143M604 143L605 166M569 198L582 198L582 205M565 181L591 173M591 173L593 173M582 205L595 192M564 156L572 124M564 156L578 156L578 157M578 157L593 138M572 124L590 124L590 132M590 132L593 138M559 158L564 158L564 156M570 122L572 122L572 124M591 173L578 173L578 157M604 143L593 138M604 109L590 109L590 132M296 42L284 42M296 42L298 42L298 16M284 42L277 40M277 40L271 23M271 23L281 23L281 7M298 16L281 7M264 50L277 40M284 65L284 65L284 42M247 16L271 23M281 -8L281 -8L281 7M313 9L298 9L298 16M745 150L756 140M745 150L743 176M766 146L756 140M768 166L751 166L751 177M743 176L751 177M778 194L770 201M751 177L770 201M751 86L741 95M751 86L774 94M741 95L749 95L749 122M774 94L772 111M772 111L752 123M752 123L749 123L749 122M753 75L751 86M737 93L741 93L741 95M778 90L774 94M716 99L721 99L721 125M721 125L722 125M722 125L749 122M794 122L772 111M756 140L752 140L752 123M745 150L724 150M722 125L724 125L724 150M106 470L123 470L123 479M138 451L140 472M123 479L140 479L140 472M105 499L125 496M123 479L125 479L125 496M168 477L149 479M149 479L140 472M78 579L87 579L87 558M78 579L72 581M72 581L61 573M61 573L52 554M87 558L69 540M52 554L65 554L65 540M69 540L65 540M92 586L78 586L78 579M98 555L87 555L87 558M63 601L72 581M35 586L61 586L61 573M85 524L69 524L69 540M25 581L25 559M52 554L33 554L33 554M25 559L33 559L33 554M53 523L31 529M53 523L55 502M41 497L25 509M41 497L55 497L55 502M25 509L24 520M24 520L31 520L31 529M65 540L53 523M33 554L31 529M56 502L55 502M32 473L41 497M11 501L25 509M173 249L167 257M134 246L135 254M167 257L135 257L135 254M130 341L120 341L120 334M130 341L155 330M120 334L130 312M155 330L146 314M146 314L131 310M130 312L131 312L131 310M139 357L130 341M106 339L120 334M158 332L155 330M107 307L130 312M625 317L613 317L613 287M644 284L638 280M613 287L638 280M671 143L672 143L672 117M671 143L691 143L691 152M691 152L693 152L693 150M693 150L700 129M700 129L688 114M688 114L672 114L672 117M659 147L671 147L671 143M668 115L672 117M681 175L684 172M684 172L691 152M721 125L700 125L700 129M724 150L716 158M716 158L693 158L693 150M693 101L688 114M545 228L569 237M534 248L554 248L554 269M569 237L569 253M569 253L554 269M538 284L553 284L553 275M565 305L562 282M562 282L553 282L553 275M553 275L554 275L554 269M828 418L807 418L807 408M819 383L799 383L799 392M799 392L807 392L807 408M792 430L807 408M797 391L799 392M203 214L221 207M203 214L191 198M226 199L221 199L221 207M226 199L218 176M191 198L190 183M190 183L215 175M215 175L218 176M200 224L203 214M218 245L236 245L236 233M236 233L221 207M174 209L191 209L191 198M231 168L218 176M246 200L226 200L226 199M183 178L190 183M204 148L215 148L215 175M237 233L249 233L249 224M237 233L252 253M249 224L269 224L269 238M269 238L266 253M252 253L264 253L264 255M266 253L264 255M256 204L249 224M236 233L237 233M237 265L252 253M283 225L269 238M290 258L266 253M263 281L264 255M631 449L651 449L651 455M631 449L621 449L621 451M621 451L622 451L622 475M651 461L651 455M651 461L631 461L631 481M631 481L622 475M658 445L651 445L651 455M643 417L631 417L631 449M608 441L621 451M590 473L609 478M609 478L622 475M668 477L651 477L651 461M641 497L637 497L637 495M637 495L631 495L631 481M646 244L666 258M646 244L646 244L646 241M646 241L664 223M675 257L666 257L666 258M675 257L674 229M674 229L664 223M654 279L666 279L666 258M638 280L633 260M633 260L646 260L646 244M682 260L675 257M687 228L702 228L702 234M687 228L674 229M687 228L688 202M684 199L688 199L688 202M661 210L664 223M649 200L648 200L648 201M646 241L630 241L630 227M648 201L630 201L630 227M615 197L616 199M648 201L616 199M581 229L607 255M581 229L584 223M584 223L615 222M611 253L607 255M611 253L619 253L619 226M619 226L615 222M569 237L581 229M582 205L584 205L584 223M616 199L615 222M633 260L611 260L611 253M630 227L619 227L619 226M368 125L372 125L372 96M384 91L381 91L381 90M372 96L381 90M322 14L317 37M346 20L348 20L348 43M348 43L343 48M343 48L317 37M296 42L303 44M317 37L303 37L303 44M293 75L307 57M307 57L303 57L303 44M370 38L358 38L358 43M370 38L389 38L389 51M358 43L375 43L375 71M389 51L389 59M389 59L378 59L378 73M378 73L375 71M376 20L370 20L370 38M348 43L358 43L358 43M402 35L389 51M414 66L389 66L389 59M381 90L378 90L378 73M701 180L707 203M701 180L720 180L720 170M720 170L732 182M732 182L728 200M728 200L714 206M714 206L707 203M684 172L701 180M688 202L707 203M716 158L720 158L720 170M743 176L732 176L732 182M708 229L714 229L714 206M771 216L754 216L754 232M771 216L769 216L769 203M769 203L732 203M732 203L744 203L744 231M744 231L754 231L754 232M789 226L771 216M766 255L754 232M770 201L769 201L769 203M728 200L732 200L732 203M733 239L744 239L744 231M145 493L132 493L132 503M145 493L162 507M132 503L133 522M133 522L153 522L153 525M162 507L161 507L161 522M161 522L153 522L153 525M125 496L132 496L132 503M149 479L145 493M172 492L162 507M125 528L133 528L133 522M153 558L153 525M178 527L161 527L161 522M5 556L-14 541M5 556L20 556L20 557M20 557L9 557L9 529M-14 540L2 528M2 528L9 529M-11 579L5 556M25 559L20 559L20 557M24 520L9 529M-3 502L2 502L2 528M201 280L191 286M167 257L169 257L169 276M169 276L191 286M173 329L178 329L178 308M146 314L159 314L159 303M159 303L178 303L178 308M207 322L184 322L184 304M191 286L184 286L184 304M184 304L178 308M124 284L125 264M124 284L130 284L130 291M130 291L156 291L156 284M125 264L133 256M133 256L157 256L157 282M156 284L157 284L157 282M102 290L124 284M105 261L125 261L125 264M131 310L130 310L130 291M159 303L156 303L156 284M135 254L133 256M169 276L157 282M587 281L573 256M587 281L597 281L597 285M597 285L599 284M599 284L604 259M604 259L573 259L573 256M569 253L573 256M562 282L587 281M592 300L597 285M613 287L599 287L599 284M607 255L604 259M588 504L593 524M588 504L607 501M593 524L606 524L606 526M606 526L619 522M607 501L621 501L621 508M619 522L621 508M580 482L580 498M609 478L607 501M580 498L588 504M588 554L586 554L586 533M608 553L606 526M586 533L593 524M632 538L619 538L619 522M637 495L621 495L621 508M570 504L565 504L565 528M570 504L554 503M547 506L541 519M547 506L554 506L554 503M541 519L552 536M552 536L565 536L565 528M580 498L570 504M586 533L565 533L565 528M553 475L554 503M532 488L547 488L547 506M519 518L541 518L541 519M549 551L552 551L552 536M349 70L351 95M349 70L340 62M340 62L325 73M325 73L320 73L320 91M320 91L336 104M336 104L351 95M372 96L351 96L351 95M375 71L349 71L349 70M343 48L340 62M307 57L325 57L325 73M313 93L320 93L320 91M337 115L336 115L336 104" fill="none" stroke="#5f6263" stroke-width="1" shape-rendering="crispEdges"/>
<path d="M240.1 6.6 L229 22.2 L227.2 36.9 L221.6 55.4 L201.3 66.5 L199.5 96 L188.4 110.8 L186.6 129.3 L173.6 155.2 L162.5 177.3 L151.5 195.8 L145.9 210.6 L155.2 221.6 L162.5 227.2 L164.4 236.4 L168.1 258.6 L171.8 280.8 L171.8 300M6.6 256 L55.4 251.2 L110.8 236.4 L147.8 225.3 L162.5 223.5M162.5 226.1 L173.6 221.6 L199.5 206.9 L221.6 192.1 L258.6 173.6 L295.5 162.5 L332.5 158.8 L369.4 151.5 L391.6 147.8M240.1 6.6 L251.2 22.2 L266 51.7 L280.8 59.1 L306.6 61 L332.5 73.9 L362 92.4 L376.8 107.1 L391.6 125.6M397.1 155.2 L397.1 184.7 L399 206.9 L402.7 229 L406.4 258.6 L410 288.1M470.2 6.6 L472 29.6 L462.8 48 L444.3 62.8 L422.2 92.4 L407.4 110.8 L400 121.9M588.4 6.6 L588.4 22.2 L599.5 36.9 L603.2 73.9 L601.3 96 L592.1 110.8 L599.5 125.6 L610.6 140.4 L621.6 147.8M400 145.9 L436.9 147.8 L492.4 153.3 L547.8 158.8 L584.7 158.8 L621.6 147.8 L658.6 144.1 L666 147.8M666 147.8 L695.5 129.3 L732.5 107.1 L769.4 88.7 L806.4 73.9M621.6 147.8 L610.6 162.5 L592.1 177.3 L573.6 192.1 L558.8 206.9 L547.8 221.6 L521.9 236.4 L507.1 240.1M400 155.2 L436.9 177.3 L466.5 206.9 L485 229 L507.1 240.1M666 147.8 L673.4 162.5 L684.4 181 L702.9 188.4 L732.5 184.7 L769.4 177.3 L806.4 171.8M717.7 192.1 L732.5 214.3 L750.9 236.4 L762 258.6 L769.4 280.8 L776.8 300M806.4 221.6 L769.4 240.1 L732.5 258.6 L714 280.8 L695.5 300M507.1 240.1 L521.9 258.6 L536.7 280.8 L544.1 300M507.1 240.1 L492.4 258.6 L473.9 280.8 L462.8 300M544.1 280 L555.2 302.2 L569.9 324.3 L581 342.8M695.5 280 L658.6 302.2 L621.6 320.6 L592.1 339.1M588.4 352 L621.6 359.4 L658.6 366.8 L695.5 368.7 L732.5 366.8 L747.2 374.2 L769.4 365 L806.4 342.8M577.3 350.2 L547.8 352 L510.8 355.7 L473.9 361.3 L436.9 365 L400 368.7M584.7 357.6 L595.8 376 L606.9 398.2 L621.6 416.7 L630.9 424.1 L632.7 435.2 L629 464.7 L630.9 494.3 L640.1 520.1 L651.2 546 L658.6 580M636.4 427.8 L658.6 446.2 L695.5 461 L732.5 468.4 L769.4 475.8 L806.4 486.9M577.3 353.9 L562.5 376 L547.8 401.9 L529.3 427.8 L510.8 446.2 L473.9 464.7 L448 472.1 L436.9 473.9M410 288 L404 320 L401.6 356 L403.4 368.3 L405.3 380.6 L403.4 392.9 L409 410.2 L420 429.9 L428.7 456 L436.9 472.1 L429.6 494.3 L411.1 527.5 L396.4 545.8 L385.8 560.8 L370 573M462.8 276.3 L444.3 302.2 L429.6 328 L423.6 355.7 L423.7 356 L413.9 363.4 L410.2 368.3 L405.3 380.6M412.7 367.7 L432.4 363.4 L456 361.5M388 386.2 L396.6 384.9 L405.3 381.2M392.9 374.5 L397.9 369.5 L410.2 367.7 L415.1 363.4M171.8 280 L173.6 316.9 L181 353.9 L182.9 387.1 L173.6 405.6 L162.5 427.8 L158.8 453.6 L147.8 479.5 L140.4 501.6 L133 531.2 L131.1 580M6.6 461 L36.9 462.9 L92.4 473.9 L147.8 479.5 L184.7 479.5 L221.6 475.8 L258.6 473.9 L280.8 468.4 L295.5 453.6 L314 431.5 L332.5 413 L350.9 400.1 L387.9 390.8 L410 379.7M258.6 473.9 L251.2 486.9 L240.1 509 L229 531.2 L218 553.4 L214.3 580M6.5 659.1 L36 650.1 L72 642.9 L108.1 641.1 L144.1 646.5 L162.1 651.9 L187.3 655.5 L201.7 650.1 L216.1 648.3 L252.2 644.7 L284.6 637.4 L302.6 628.4 L313.4 610.4 L342.2 599.6 L360.2 596 L370 573.3M302.6 628.4 L317 624.8 L342.2 626.6 L378.2 632 L409.9 637.4M127.9 560 L126.1 596 L136.9 632 L147.7 650.1 L158.5 682.5M212.5 560 L216.1 581.6 L205.3 610.4 L194.5 632 L187.3 653.7M90.1 642.1 L108.1 668.1 L126.1 671.7 L158.5 682.5 L187.3 655.5M6.5 628.4 L14.4 650.1 L21.6 614 L25.2 581.6 L21.6 560M400 637.4 L436 614 L472 614 L508.1 617.6 L544.1 632 L580.1 639.3 L616.1 644.7 L652.2 650.1 L688.2 657.3 L724.2 660.9 L760.2 655.5 L789 653.7M648.6 560 L655.8 581.6 L663 603.2 L681 632 L706.2 657.3 L717 678.9 L731.4 711.3 L745.8 740.1 L749.4 761.7 L754.8 790.5M809.9 678.9 L803.5 660.9 L792.7 650.1 L781.8 653.7 L785.4 632 L781.8 603.2 L789 581.6" fill="none" stroke="#8f7814" stroke-width="1.05"/>
<ellipse cx="401" cy="139" rx="33.75" ry="27" fill="none" stroke="#8f7814" stroke-width="1"/>
<ellipse cx="582.9" cy="348.3" rx="11" ry="11" fill="none" stroke="#8f7814" stroke-width="1"/>
<ellipse cx="632" cy="424" rx="3.5" ry="3.5" fill="none" stroke="#8f7814" stroke-width="1"/>
<ellipse cx="166" cy="226" rx="7" ry="7" fill="none" stroke="#8f7814" stroke-width="1"/>
<polygon points="123.7,656.9 127.4,653.2 133,652.3 136.7,656 135.7,661.6 132,667.1 127.4,668.4 122.8,665.2 121.9,661.6" fill="#2d4a68"/>
<polygon points="142.2,698.5 146.8,694.8 152.4,696.6 154.2,702.2 152.4,708.6 147.7,711.4 144,714.2 140.4,711.4 141.3,706.8 145.9,703.1" fill="#2d4a68"/>
<polygon points="42.5,680.9 47.1,680.6 50.8,684.6 51.7,689.3 48,689.8 44.3,685.6" fill="#2d4a68"/>
<polygon points="57.6,689.3 60,686.5 62.8,692 65.6,699.4 70.2,702.2 75.7,704 81.3,704.9 84.6,707.7 83.1,710.9 77.6,709.6 72,707.7 66.5,705.9 61.9,703.1 59.1,696.6" fill="#2d4a68"/>
<polygon points="605,309.6 606.9,302.2 612.4,296.6 614.3,287.4 618,285.5 619.8,292.9 625.3,291.1 626.1,296.6 621.6,302.2 618,307.7 612.4,311.4 608.7,314" fill="#2d4a68"/>
<polygon points="540.5,601.4 544.1,614 547.7,617.6 554.9,614 562.1,610.4 558.5,606.8 554.9,602.5 553.1,610.4 547.7,610.4 545.9,602.5" fill="#2d4a68"/>
<polygon points="784.7,731.1 788.5,734.9 792.2,740.5 796,746.1 795,753.6 791.3,754.5 788.5,749.8 785.7,744.2 783.8,736.7" fill="#2d4a68"/>
<polygon points="769.8,790.1 773.5,788.7 779.1,789.5 779.1,792.1 769.8,792.1" fill="#2d4a68"/>
<polyline points="299.2,59.1 303.7,55.4 309.6,59.1 314,68.3 318.4,79.4 322.1,90.5 324.3,95.3" fill="none" stroke="#2d4a68" stroke-width="5" stroke-linecap="round" stroke-linejoin="round"/>
<polyline points="369.4,260.4 380.5,264.1 391.6,272.6 397.1,277.1" fill="none" stroke="#2d4a68" stroke-width="4" stroke-linecap="round" stroke-linejoin="round"/>
<polyline points="451,364.2 446.2,370.5 441.4,376.8" fill="none" stroke="#2d4a68" stroke-width="4" stroke-linecap="round" stroke-linejoin="round"/>
<polyline points="425.1,414.8 426.6,424.1 429.6,433.3" fill="none" stroke="#2d4a68" stroke-width="4" stroke-linecap="round" stroke-linejoin="round"/>
<polyline points="527.4,501.6 529.3,516.4 533,527.5 532.2,536.7" fill="none" stroke="#2d4a68" stroke-width="5" stroke-linecap="round" stroke-linejoin="round"/>
<polygon points="6,806 6,703 6.1,706.8 8.9,706 11.1,704 12.7,702.4 14.9,701.9 16.3,700 18.4,699.2 21,701 23.9,701.5 26.8,700.4 29.4,698.7 30.5,702.2 29.5,704.1 27.9,705.5 30,705.6 32.3,706.1 34.6,706.4 36.9,706.8 39.4,707.5 41.9,707.1 44.3,706.3 46.1,704.8 48.5,704.7 47.4,706.4 46.8,708.4 47.3,710.6 45.5,713 45,715.9 47.9,714.9 50.8,715.2 53.3,715.1 55.3,716.6 57.2,718.1 59.1,719.7 59,722.6 60.4,724.1 62,725.5 64,725.9 65.8,726.6 67.5,727.9 71.2,726.9 71.9,728.7 72.1,730.8 72.4,733.5 74.5,735.5 74.9,738.2 72.6,739.7 71.3,742.1 69.2,744.1 66.6,745.3 68.4,748.3 70.9,749.7 73.9,749.6 75.4,747.9 78,747.5 79.3,745.5 81.1,744 82.1,741.8 84.3,743.2 86.8,743.3 89.4,741.9 92.3,741.8 94.4,743.5 96,745.6 99,746 101.7,747.2 103.4,749.3 105.3,751.1 108.3,750.8 110.7,749.1 113.2,748.5 115.6,747.5 118.2,747.4 119.9,745.6 122.1,744.3 124.7,743.7 127.3,742.4 130,741.2 133,741.1 135.4,742.8 136.7,745.6 138.7,746.2 140.7,746.8 142.1,748.4 144.4,749.2 146.8,749.4 147.7,751.4 147.5,753.8 148.8,755.7 148.8,758 149.9,760 152,760.1 154,759.3 156.1,760.8 158.1,760.4 160.1,760.4 162.1,759.9 164.2,759.3 166.2,759.2 168.2,760 170.2,760.3 172.2,760.2 174.3,759.1 176.3,759.7 178.3,759.5 180.3,760.6 182.4,759.9 184.4,759.7 186.4,759.5 188.4,760.5 190.4,760.6 192.5,760.1 194.5,759.4 196.5,760.5 198.5,760.3 200.6,759.6 202.6,759.9 204.6,759.5 206.6,760.2 208.6,759.7 210.7,760.8 212.7,758.5 214.7,761.3 216.7,760.3 218.8,759.7 220.8,759.2 222.8,759.8 224.8,760.5 226.8,758.7 228.9,760.2 230.9,760.2 232.9,760.5 234.9,760.3 237,760 239,759.2 241,760.1 241,758.5 239.9,756.8 238.4,755.5 236.9,754.2 235.9,751.7 233.6,750.8 231.2,750.1 230.4,747.8 229,745.9 228.6,743.4 227.2,741.5 225.1,740.8 223.2,740.1 221.2,739.7 219,739.8 217.3,738.6 215,738.2 212.6,737.9 210.6,736.5 208,737.1 205.9,735.9 204,735 202.7,733.1 200.4,733 199.1,730.9 197.9,728.6 197.5,726.1 195.6,724.9 193.5,724 191.7,722.5 189.1,723.4 187.1,722 185.7,720 184.1,718.2 181.9,717.1 183.9,715.4 184.5,712.8 186.9,711.6 187.7,709.2 189.1,707.5 190.8,705.9 192.5,704.4 193.3,702.2 195.1,701.2 197.1,700.7 198.6,699.1 200.4,698.2 201.1,695.8 202,693.7 204.1,692.3 204.7,690.1 205.8,688 205.9,685.6 205.4,683.2 203.7,681.1 202.2,682.5 201.2,684.5 199.7,686.1 199.5,688.3 198.6,690.3 197.5,692.3 195.5,693.6 193.3,694.5 190.4,694.3 187.7,693 186.8,690.6 185,688.7 182.8,688.2 180.7,687.7 178.5,688.2 177,686.2 176.6,683.8 177.5,681.9 179,680.2 181.6,680.7 184,680.4 186.3,679.7 187.3,677.4 189.7,676.4 192.3,675.6 192.6,672.7 194.7,670.7 196.6,668.5 199.1,667.7 201,669.5 203.1,669.8 204.6,668.3 206.8,667.8 208.9,666.4 207.8,663.6 209.3,661.9 210.1,660 212.8,659.7 212.7,656.9 212,654.2 212.8,652 214.7,650.6 217.4,650.3 220.2,651 220,653.2 221,655.1 223.3,654.5 225.3,653.6 227.6,653.3 229.4,651.7 231.4,651.3 233.3,650.6 235.2,649.9 236.9,648.8 238.7,647.8 241.3,647.9 243.5,646.3 245.9,645.7 248.4,646.4 251,646.1 253.4,646.9 255.8,647.9 258.3,648.6 260.7,649.7 263,650.5 264.9,652.5 267.6,651.8 270,652.2 272.5,652.1 274.7,652.8 277.1,653.3 279.3,654.2 281.5,653.9 283.3,653 284.9,651.7 286.7,650.6 288.2,648.9 290.3,648.5 293.1,647.6 295.9,647.8 297.3,649.5 299.5,650.2 301.4,651.3 302.6,653.2 304.3,654.6 304.1,652.2 304.5,649.8 305.8,647.7 306.5,645.3 308.2,643.4 308.8,641 308.6,638.4 308.5,636.2 309.1,633.8 308.2,631.5 308,629.2 309.5,627.7 310.1,625.7 310.8,623.7 313.2,621.3 315.2,622.6 317.1,623.7 319,624.5 320.8,625.5 320.4,627.7 320,629.8 320.4,632 321.4,634.2 320.3,636.3 320.9,638.5 321.5,640.5 322.5,642.2 323.2,644.2 324.8,645.7 325.2,647.8 328.2,648.5 328.8,651.1 330,653.3 331.5,654.9 333.6,655.9 334.7,657.9 332.9,658.9 331.2,659.9 329,659.9 327.5,661.4 325,661 322.8,661.6 320.7,662.7 318.3,662.6 316.2,663.5 313.5,664.5 310.7,664.8 313.5,665.4 316.2,666 318.1,664.3 320.7,665.4 322.9,665.2 325.3,665.4 327.3,663.9 329.4,663 331.8,663.6 333.9,662.5 336.1,662.3 338.4,662 340.8,662 343.2,661.9 345.5,661.4 347.8,660.8 350,659.8 347.8,659.3 345.7,660.6 343.5,660.5 341.4,660.6 339.2,660.7 341.7,660.4 344,659.8 346,658.1 348.6,658.1 350.6,656.5 353.1,656.6 355.6,656.5 357.8,655.4 360,654.5 361.9,652.3 364.7,653.4 366.8,652.1 369.1,651.2 371.6,651.4 373.8,650.2 376.2,650.1 378.5,649.6 380.9,650.1 383.1,649 385.4,648.7 387.8,649 390.1,648.7 392.4,648.5 394.6,647.9 397,648.3 399.3,647.5 401.6,647.9 403.9,647.3 406.2,647.8 408.5,647.3 410.8,647.1 413.1,647.6 415.5,647.2 417.8,647.5 420,648.8 422.3,648.4 424.6,649.1 427.2,647.6 429.3,649.1 431.6,649.8 433.9,650.4 436.3,650.2 438.6,650.5 440.8,651.3 443.1,652.5 445.8,652.2 448.2,653.4 450.6,654.2 453.1,655 455.7,655.8 457.2,657.6 459.3,658.3 461.3,659.1 463,660.7 465.3,661.1 466.8,662.7 468.4,664.3 470.5,665.1 472.4,666.1 473.7,668 475.8,668.9 477.8,669.8 479.9,670.7 481.9,671.7 483.2,673.7 485.5,674 486.6,676.3 488.9,676.6 490.6,677.8 492.2,679.2 494.1,680.2 496,681.3 497.2,682.9 498.9,684.2 500.7,685.4 501.8,687.3 503.6,688.6 504.5,690.6 506.1,692.1 507.4,693.8 506.4,696.7 505.3,699.3 507.1,701.6 507,704.5 508.2,706.8 510.5,707.6 511.8,709.7 514.7,710.6 517.2,711.2 519.7,712.1 522.1,713.3 524.2,713.4 526,714.6 527.9,715.3 530,715.2 530.8,712.4 531.3,710 533.9,709.8 535,707.8 537,706.9 537.7,704.2 539.6,702.1 541.9,701.4 544.3,701.5 546.6,700.8 548.9,700.4 548.2,702.5 547.4,704.8 546.2,706.8 548.4,706.4 550,704.8 551.3,702.8 553.4,702.2 555.3,701.1 557.3,700.4 559.3,699.9 560.7,698 562.9,697.8 564.5,696.1 566.2,694.5 568.8,694.3 570.3,692.5 572.3,691 574.9,690.7 576.9,689 579.4,688.7 580.1,686.5 581.2,684.6 583.6,686 585.4,687.9 586.8,690.2 586.2,688.1 586,685.8 585.2,683.8 583.8,682 585.3,680.1 586.8,678.5 588.7,677.3 590.5,676.5 592.2,675.2 595.3,675.2 597.9,673.7 600.6,674.8 603.4,675.3 605.9,676.1 608,674.3 610.3,673.9 612.7,674.1 614.5,675.5 616.3,676.9 618.1,678.3 619.9,679.8 621.5,681.5 623.8,682.3 625.6,683.7 627.2,685.2 629.3,686 630.9,687.6 633,688.3 634.5,689.9 636,691.4 637.6,692.9 639.4,694.4 639.8,696.8 641.2,698.6 642.2,700.8 643.5,702.9 645.2,704.8 646.5,706.6 648.6,707.9 649.6,710.1 651.6,711 653.8,711.6 654.8,714 657,714.7 657,716.6 657.2,718.6 656.6,720.6 657.4,723 657.2,725.6 658.1,728.4 661.3,728.3 663.2,730.1 664.6,732.3 666.9,733.2 668.6,735 670.5,736.1 671.3,738 671.7,740.2 673.4,741.4 674.8,742.8 675.2,745 676.5,746.6 678.1,747.9 679,750.6 681,752.5 683.1,754.6 685,757 686.8,757.4 689.1,757.3 691.2,756.5 693.7,757 696.2,756.8 698.7,757.2 699.8,759.8 701.6,761.9 702.7,764.5 704.4,766.7 704.1,769.6 705.3,772.3 705.9,776 708.3,777.6 710,779.7 711.8,781.6 713.6,783.5 711.6,785.2 710,787.3 708.5,789.6 706,790.9 706.4,793.1 706.6,795.3 704.3,797.4 706.1,799.6 706.2,801.7 706,803.9 706,806 706,806" fill="#004466" stroke="#000" stroke-width="1.2" stroke-linejoin="round"/>
<polygon points="343.9,656 346.6,651.4 350.3,653.2 352.2,649.5 355.9,647.7 359.5,642.2 362.3,644.9 359.5,649.5 357.7,654.2 352.2,656.9" fill="#004466" stroke="#000" stroke-width="1.1" stroke-linejoin="round"/>
<polygon points="369.7,651.4 374.3,645.9 376.2,638.5 375.2,632 378.9,633.9 380.8,640.3 385.4,638.5 387.2,630.2 390,632 389.1,640.3 394.6,643.1 398.3,644 392.8,646.8 385.4,647.7 378,650.5" fill="#004466" stroke="#000" stroke-width="1.1" stroke-linejoin="round"/>
<polygon points="417.7,643.1 422.3,644.9 426,640.3 430.6,638.5 433.4,643.1 440.8,644 448.2,645.9 455.6,647.7 457.4,650.5 448.2,649.5 437.1,647.7 426,647.3 418.6,645.9" fill="#004466" stroke="#000" stroke-width="1.1" stroke-linejoin="round"/>
<polygon points="475.9,656.9 481.4,659.7 487,657.9 492.5,658.8 496.2,656.9 494.4,661.6 488.8,662.5 483.3,663.4 477.7,661.6" fill="#004466" stroke="#000" stroke-width="1.1" stroke-linejoin="round"/>
<polygon points="160.2,759.2 163.8,752.1 170.8,747.2 177.8,744.4 184.9,745.8 191.9,750 196.1,746.1 203.1,751.4 208.8,759.2" fill="#004466" stroke="#000" stroke-width="1.1" stroke-linejoin="round"/>
<polygon points="810.7,560.7 803.8,563.3 802.9,574.5 800.3,583.1 802.1,591.7 800.3,600.3 801.7,609 800.3,617.6 802.1,626.2 802.9,636.6 800.3,645.2 793.4,650.3 800.3,652.1 810.7,650.3" fill="#004466" stroke="#000" stroke-width="1.1" stroke-linejoin="round"/>
<polygon points="18.5,723.4 22.2,718.8 29.5,717 36.9,720.6 38.8,723.4 33.2,729 27.7,730.8 22.2,728" fill="#5d4f4a" stroke="#000" stroke-width="1.1" stroke-linejoin="round"/>
<polyline points="786.6,650.3 784.8,660.7 787.4,667.6 784,674.5 785.7,680 785.7,660 783.8,671.2 787.5,678.7 792.2,686.2 791.3,693.7 795,703 789.4,709.6 788.5,718 783.8,721.8 784.4,729.2" fill="none" stroke="#000" stroke-width="3.6" stroke-linejoin="round"/>
<polyline points="786.6,650.3 784.8,660.7 787.4,667.6 784,674.5 785.7,680 785.7,660 783.8,671.2 787.5,678.7 792.2,686.2 791.3,693.7 795,703 789.4,709.6 788.5,718 783.8,721.8 784.4,729.2" fill="none" stroke="#004466" stroke-width="1.8" stroke-linejoin="round"/>
<polyline points="533.2,719.7 548,714.6 560.9,706.8 569.3,699.4" fill="none" stroke="#000" stroke-width="1.4"/>
<polyline points="511.1,711.4 524,712.3 534.2,718.8" fill="none" stroke="#000" stroke-width="1.4"/>
<polyline points="506.4,693.9 504.5,701.3 507.3,708.6" fill="none" stroke="#000" stroke-width="1.4"/>
<polyline points="259,662.5 268.2,662.8 279.3,664.3 284.8,664.9" fill="none" stroke="#000" stroke-width="1.4"/>
<polyline points="312.5,664.3 323.6,662.1 334.7,660.3 350,657.9" fill="none" stroke="#000" stroke-width="1.4"/>
<polyline points="342.1,652.3 343.9,656.9 345.8,654.2 350,656" fill="none" stroke="#000" stroke-width="1.4"/>
<polyline points="249.5,678.3 253.8,685.3 254.5,695.2" fill="none" stroke="#000" stroke-width="1.4"/>
<polyline points="252.4,702.2 248.1,709.2" fill="none" stroke="#000" stroke-width="1.4"/>
<polyline points="242.5,716.3 239.7,717.7" fill="none" stroke="#000" stroke-width="1.4"/>
<polyline points="236.9,721.9 233.4,726.1" fill="none" stroke="#000" stroke-width="1.4"/>
<polyline points="228.5,728.2 223.5,731" fill="none" stroke="#000" stroke-width="1.4"/>
<polyline points="246.7,693.8 245.3,698 241.8,701.5" fill="none" stroke="#000" stroke-width="1.4"/>
<polyline points="258,661.4 265,662.8 273.5,664.2 284.7,665.3" fill="none" stroke="#000" stroke-width="1.4"/>
<polyline points="228.5,662.1 234.1,661.4 234.8,664.9 231.3,664.2" fill="none" stroke="#000" stroke-width="1.4"/>
<polyline points="242.5,664.2 249.5,662.1" fill="none" stroke="#000" stroke-width="1.4"/>
<path d="M798 564h1v1h-1zM798 565h1v1h-1zM800 587h1v1h-1zM798 588h2v1h-2zM794 589h1v1h-1zM794 590h1v1h-1zM800 592h1v1h-1zM796 602h2v1h-2zM793 603h1v1h-1zM802 614h1v1h-1zM791 618h1v1h-1zM803 618h1v1h-1zM802 619h2v1h-2zM797 629h1v1h-1zM788 644h1v1h-1zM788 645h3v1h-3zM788 646h4v1h-4zM788 647h4v1h-4zM799 647h1v1h-1zM789 648h1v1h-1zM225 670h1v1h-1zM205 675h1v1h-1zM206 676h1v1h-1zM224 676h1v1h-1zM205 677h2v1h-2zM224 677h2v1h-2zM205 678h1v1h-1zM219 678h1v1h-1zM210 679h4v1h-4zM219 679h3v1h-3zM210 680h2v1h-2zM213 680h1v1h-1zM208 681h3v1h-3zM206 682h1v1h-1zM208 682h3v1h-3zM209 683h1v1h-1zM221 683h2v1h-2zM226 683h1v1h-1zM219 685h1v1h-1zM207 687h1v1h-1zM210 687h1v1h-1zM220 687h2v1h-2zM207 688h1v1h-1zM219 688h6v1h-6zM212 689h2v1h-2zM219 689h2v1h-2zM225 690h1v1h-1zM217 691h1v1h-1zM205 692h1v1h-1zM207 692h1v1h-1zM213 692h1v1h-1zM216 692h2v1h-2zM223 692h1v1h-1zM206 693h3v1h-3zM212 693h6v1h-6zM222 693h3v1h-3zM203 694h7v1h-7zM211 694h7v1h-7zM221 694h3v1h-3zM204 695h6v1h-6zM211 695h2v1h-2zM214 695h2v1h-2zM222 695h1v1h-1zM209 696h1v1h-1zM212 696h1v1h-1zM218 696h1v1h-1zM201 697h2v1h-2zM206 697h1v1h-1zM209 697h2v1h-2zM200 698h2v1h-2zM206 698h1v1h-1zM210 698h1v1h-1zM201 699h2v1h-2zM207 699h2v1h-2zM214 699h3v1h-3zM198 701h2v1h-2zM203 701h1v1h-1zM209 701h1v1h-1zM217 701h1v1h-1zM201 703h2v1h-2zM217 703h1v1h-1zM201 704h2v1h-2zM217 704h1v1h-1zM195 705h1v1h-1zM202 705h1v1h-1zM204 705h1v1h-1zM217 705h1v1h-1zM190 706h1v1h-1zM195 706h3v1h-3zM218 706h1v1h-1zM190 707h1v1h-1zM211 707h1v1h-1zM193 708h1v1h-1zM200 708h1v1h-1zM192 709h4v1h-4zM189 710h5v1h-5zM197 710h4v1h-4zM208 710h2v1h-2zM191 711h2v1h-2zM207 711h3v1h-3zM190 712h2v1h-2zM203 712h1v1h-1zM205 712h1v1h-1zM154 713h1v1h-1zM189 713h3v1h-3zM194 713h1v1h-1zM200 713h1v1h-1zM205 713h2v1h-2zM154 714h2v1h-2zM185 714h7v1h-7zM193 714h2v1h-2zM200 714h1v1h-1zM155 715h1v1h-1zM183 715h1v1h-1zM190 715h1v1h-1zM194 715h1v1h-1zM200 715h1v1h-1zM155 716h1v1h-1zM200 716h1v1h-1zM157 717h1v1h-1zM194 717h2v1h-2zM195 718h1v1h-1zM159 719h1v1h-1zM186 719h2v1h-2zM195 719h2v1h-2zM150 720h3v1h-3zM160 720h1v1h-1zM186 720h1v1h-1zM193 720h5v1h-5zM151 721h2v1h-2zM159 721h2v1h-2zM197 721h2v1h-2zM152 722h1v1h-1zM160 722h1v1h-1zM152 723h2v1h-2zM160 723h2v1h-2zM202 723h1v1h-1zM151 724h1v1h-1zM161 724h1v1h-1zM163 724h2v1h-2zM165 725h1v1h-1zM197 725h1v1h-1zM166 726h1v1h-1zM167 727h1v1h-1zM160 729h1v1h-1zM159 730h2v1h-2zM163 730h2v1h-2zM174 730h1v1h-1zM159 731h2v1h-2zM163 731h2v1h-2zM169 731h1v1h-1zM172 731h1v1h-1zM177 731h1v1h-1zM156 732h1v1h-1zM158 732h3v1h-3zM162 732h3v1h-3zM169 732h2v1h-2zM172 732h1v1h-1zM155 733h3v1h-3zM159 733h2v1h-2zM179 733h1v1h-1zM175 734h1v1h-1zM179 734h2v1h-2zM154 735h1v1h-1zM159 735h1v1h-1zM179 735h2v1h-2zM153 736h2v1h-2zM159 736h1v1h-1zM166 736h4v1h-4zM180 736h1v1h-1zM153 737h1v1h-1zM165 737h2v1h-2zM168 737h2v1h-2zM172 737h1v1h-1zM180 737h1v1h-1zM165 738h5v1h-5zM172 738h2v1h-2zM180 738h3v1h-3zM154 739h1v1h-1zM157 739h1v1h-1zM159 739h1v1h-1zM165 739h5v1h-5zM180 739h3v1h-3zM135 740h1v1h-1zM154 740h4v1h-4zM159 740h2v1h-2zM166 740h3v1h-3zM180 740h1v1h-1zM88 741h1v1h-1zM126 741h1v1h-1zM130 741h1v1h-1zM130 741h2v1h-2zM131 741h2v1h-2zM135 741h2v1h-2zM155 741h3v1h-3zM159 741h3v1h-3zM167 741h2v1h-2zM172 741h1v1h-1zM179 741h2v1h-2zM78 742h1v1h-1zM126 742h1v1h-1zM130 742h1v1h-1zM132 742h3v1h-3zM134 742h2v1h-2zM135 742h3v1h-3zM161 742h1v1h-1zM168 742h1v1h-1zM79 743h1v1h-1zM126 743h1v1h-1zM133 743h1v1h-1zM137 743h2v1h-2zM160 743h1v1h-1zM162 743h1v1h-1zM81 744h1v1h-1zM122 744h1v1h-1zM161 744h2v1h-2zM84 745h1v1h-1zM118 745h1v1h-1zM122 745h2v1h-2zM136 745h2v1h-2zM139 745h3v1h-3zM156 745h1v1h-1zM78 746h2v1h-2zM93 746h1v1h-1zM111 746h1v1h-1zM121 746h2v1h-2zM133 746h1v1h-1zM133 746h4v1h-4zM136 746h1v1h-1zM139 746h2v1h-2zM140 746h2v1h-2zM141 746h1v1h-1zM160 746h1v1h-1zM166 746h2v1h-2zM79 747h1v1h-1zM101 747h1v1h-1zM115 747h2v1h-2zM120 747h3v1h-3zM131 747h2v1h-2zM136 747h1v1h-1zM140 747h2v1h-2zM141 747h1v1h-1zM165 747h2v1h-2zM83 748h1v1h-1zM100 748h3v1h-3zM110 748h2v1h-2zM121 748h1v1h-1zM132 748h1v1h-1zM138 748h2v1h-2zM139 748h2v1h-2zM166 748h1v1h-1zM99 749h3v1h-3zM132 749h2v1h-2zM133 749h2v1h-2zM157 749h1v1h-1zM163 749h1v1h-1zM83 750h1v1h-1zM108 750h1v1h-1zM124 750h4v1h-4zM132 750h4v1h-4zM137 750h3v1h-3zM157 750h2v1h-2zM162 750h2v1h-2zM72 751h1v1h-1zM74 751h1v1h-1zM78 751h2v1h-2zM83 751h2v1h-2zM98 751h1v1h-1zM125 751h1v1h-1zM132 751h2v1h-2zM138 751h4v1h-4zM157 751h3v1h-3zM163 751h2v1h-2zM70 752h5v1h-5zM119 752h1v1h-1zM139 752h2v1h-2zM158 752h2v1h-2zM70 753h3v1h-3zM109 753h1v1h-1zM113 753h2v1h-2zM122 753h1v1h-1zM140 753h2v1h-2zM141 753h5v1h-5zM159 753h1v1h-1zM72 754h1v1h-1zM79 754h2v1h-2zM109 754h1v1h-1zM111 754h1v1h-1zM113 754h3v1h-3zM135 754h2v1h-2zM140 754h2v1h-2zM141 754h2v1h-2zM142 754h4v1h-4zM159 754h1v1h-1zM99 755h2v1h-2zM114 755h5v1h-5zM135 755h2v1h-2zM139 755h2v1h-2zM142 755h1v1h-1zM142 755h3v1h-3zM144 755h2v1h-2zM159 755h3v1h-3zM92 756h1v1h-1zM99 756h3v1h-3zM114 756h4v1h-4zM121 756h1v1h-1zM134 756h2v1h-2zM135 756h1v1h-1zM139 756h1v1h-1zM144 756h2v1h-2zM159 756h2v1h-2zM120 757h1v1h-1zM134 757h1v1h-1zM134 757h2v1h-2zM135 757h3v1h-3zM160 757h1v1h-1zM103 758h2v1h-2zM123 758h1v1h-1zM130 758h2v1h-2zM131 758h2v1h-2zM132 758h4v1h-4zM135 758h3v1h-3z" fill="#004466" shape-rendering="crispEdges"/>
<path d="M225 671h2v1h-2zM226 672h1v1h-1zM220 674h1v1h-1zM226 674h1v1h-1zM226 675h1v1h-1zM219 676h2v1h-2zM219 677h3v1h-3zM227 678h1v1h-1zM218 679h1v1h-1zM215 680h1v1h-1zM218 680h1v1h-1zM212 681h1v1h-1zM215 681h2v1h-2zM212 682h1v1h-1zM224 683h1v1h-1zM211 685h1v1h-1zM211 686h1v1h-1zM211 690h1v1h-1zM209 691h4v1h-4zM209 692h3v1h-3zM210 693h1v1h-1zM202 695h1v1h-1zM217 697h1v1h-1zM217 698h1v1h-1zM199 700h1v1h-1zM218 701h1v1h-1zM196 703h1v1h-1zM196 704h1v1h-1zM201 707h2v1h-2zM202 708h1v1h-1zM212 708h1v1h-1zM212 709h1v1h-1zM196 714h1v1h-1zM203 714h1v1h-1zM186 715h1v1h-1zM196 715h4v1h-4zM187 716h2v1h-2zM198 716h1v1h-1zM188 717h2v1h-2zM198 717h1v1h-1zM188 718h3v1h-3zM157 719h2v1h-2zM188 719h3v1h-3zM188 720h1v1h-1zM190 720h1v1h-1zM191 721h1v1h-1zM191 722h2v1h-2zM155 723h1v1h-1zM155 724h1v1h-1zM193 724h1v1h-1zM152 725h1v1h-1zM155 725h1v1h-1zM150 726h1v1h-1zM160 726h2v1h-2zM163 726h3v1h-3zM153 727h1v1h-1zM160 727h2v1h-2zM164 727h2v1h-2zM153 728h1v1h-1zM160 728h1v1h-1zM165 728h1v1h-1zM170 728h1v1h-1zM167 729h2v1h-2zM157 730h1v1h-1zM151 731h1v1h-1zM157 731h1v1h-1zM152 732h3v1h-3zM175 732h1v1h-1zM152 733h1v1h-1zM164 736h1v1h-1zM164 737h1v1h-1zM173 737h1v1h-1zM176 737h2v1h-2zM176 738h2v1h-2zM161 739h1v1h-1zM71 740h1v1h-1zM84 740h2v1h-2zM128 740h2v1h-2zM164 740h1v1h-1zM71 741h2v1h-2zM75 741h1v1h-1zM83 741h3v1h-3zM134 741h1v1h-1zM165 741h2v1h-2zM74 742h3v1h-3zM81 742h6v1h-6zM128 742h1v1h-1zM131 742h1v1h-1zM166 742h1v1h-1zM177 742h2v1h-2zM74 743h2v1h-2zM82 743h1v1h-1zM89 743h1v1h-1zM92 743h1v1h-1zM94 743h2v1h-2zM127 743h5v1h-5zM131 743h2v1h-2zM132 743h1v1h-1zM171 743h1v1h-1zM177 743h1v1h-1zM70 744h4v1h-4zM85 744h2v1h-2zM89 744h1v1h-1zM94 744h3v1h-3zM124 744h1v1h-1zM127 744h5v1h-5zM139 744h2v1h-2zM169 744h3v1h-3zM175 744h2v1h-2zM70 745h7v1h-7zM85 745h2v1h-2zM89 745h1v1h-1zM96 745h2v1h-2zM114 745h1v1h-1zM124 745h3v1h-3zM129 745h3v1h-3zM169 745h1v1h-1zM70 746h4v1h-4zM75 746h2v1h-2zM81 746h2v1h-2zM85 746h2v1h-2zM88 746h2v1h-2zM98 746h3v1h-3zM109 746h1v1h-1zM128 746h2v1h-2zM143 746h1v1h-1zM70 747h3v1h-3zM75 747h2v1h-2zM85 747h2v1h-2zM89 747h1v1h-1zM92 747h1v1h-1zM94 747h1v1h-1zM97 747h3v1h-3zM107 747h3v1h-3zM143 747h1v1h-1zM71 748h2v1h-2zM76 748h2v1h-2zM87 748h6v1h-6zM97 748h2v1h-2zM106 748h3v1h-3zM118 748h1v1h-1zM124 748h1v1h-1zM130 748h2v1h-2zM144 748h2v1h-2zM157 748h2v1h-2zM74 749h1v1h-1zM76 749h1v1h-1zM87 749h5v1h-5zM94 749h3v1h-3zM105 749h3v1h-3zM115 749h2v1h-2zM118 749h1v1h-1zM130 749h1v1h-1zM135 749h2v1h-2zM70 750h2v1h-2zM74 750h3v1h-3zM87 750h5v1h-5zM94 750h3v1h-3zM102 750h1v1h-1zM105 750h3v1h-3zM110 750h3v1h-3zM115 750h5v1h-5zM129 750h2v1h-2zM130 750h2v1h-2zM160 750h1v1h-1zM76 751h2v1h-2zM80 751h3v1h-3zM88 751h2v1h-2zM93 751h3v1h-3zM102 751h2v1h-2zM106 751h1v1h-1zM110 751h9v1h-9zM122 751h2v1h-2zM128 751h3v1h-3zM130 751h2v1h-2zM75 752h4v1h-4zM82 752h1v1h-1zM89 752h5v1h-5zM102 752h1v1h-1zM105 752h1v1h-1zM111 752h1v1h-1zM114 752h4v1h-4zM124 752h3v1h-3zM129 752h2v1h-2zM130 752h7v1h-7zM74 753h5v1h-5zM81 753h2v1h-2zM91 753h3v1h-3zM98 753h2v1h-2zM105 753h3v1h-3zM116 753h1v1h-1zM120 753h1v1h-1zM124 753h3v1h-3zM129 753h2v1h-2zM130 753h2v1h-2zM131 753h2v1h-2zM132 753h2v1h-2zM133 753h4v1h-4zM138 753h1v1h-1zM158 753h1v1h-1zM74 754h1v1h-1zM85 754h2v1h-2zM91 754h3v1h-3zM97 754h5v1h-5zM106 754h2v1h-2zM120 754h2v1h-2zM124 754h3v1h-3zM129 754h2v1h-2zM130 754h2v1h-2zM131 754h2v1h-2zM134 754h1v1h-1zM162 754h1v1h-1zM70 755h2v1h-2zM74 755h2v1h-2zM86 755h3v1h-3zM93 755h2v1h-2zM97 755h1v1h-1zM107 755h1v1h-1zM122 755h4v1h-4zM130 755h2v1h-2zM131 755h2v1h-2zM137 755h1v1h-1zM70 756h1v1h-1zM74 756h4v1h-4zM79 756h3v1h-3zM86 756h3v1h-3zM94 756h2v1h-2zM106 756h1v1h-1zM111 756h2v1h-2zM123 756h4v1h-4zM131 756h2v1h-2zM132 756h2v1h-2zM137 756h1v1h-1zM143 756h1v1h-1zM75 757h3v1h-3zM79 757h3v1h-3zM84 757h6v1h-6zM93 757h3v1h-3zM98 757h1v1h-1zM105 757h2v1h-2zM109 757h4v1h-4zM125 757h3v1h-3zM130 757h1v1h-1zM132 757h2v1h-2zM138 757h1v1h-1zM144 757h3v1h-3zM78 758h4v1h-4zM84 758h6v1h-6zM97 758h1v1h-1zM106 758h1v1h-1zM108 758h1v1h-1zM110 758h3v1h-3zM122 758h1v1h-1zM125 758h3v1h-3zM138 758h2v1h-2zM145 758h1v1h-1z" fill="#5d4f4a" shape-rendering="crispEdges"/>
<path d="M788 561h1v1h-1zM803 561h1v1h-1zM787 562h3v1h-3zM796 562h1v1h-1zM801 562h3v1h-3zM787 563h3v1h-3zM795 563h2v1h-2zM802 563h2v1h-2zM787 564h3v1h-3zM789 565h5v1h-5zM788 566h7v1h-7zM802 566h1v1h-1zM787 567h8v1h-8zM801 567h2v1h-2zM788 568h7v1h-7zM801 568h2v1h-2zM788 569h7v1h-7zM789 570h8v1h-8zM794 571h3v1h-3zM799 572h5v1h-5zM798 573h6v1h-6zM792 574h1v1h-1zM797 574h6v1h-6zM801 575h2v1h-2zM801 576h2v1h-2zM800 577h4v1h-4zM799 578h4v1h-4zM791 579h1v1h-1zM801 579h3v1h-3zM797 580h3v1h-3zM802 580h2v1h-2zM792 581h1v1h-1zM797 581h3v1h-3zM802 581h2v1h-2zM797 582h4v1h-4zM803 582h1v1h-1zM798 583h3v1h-3zM803 586h1v1h-1zM797 587h1v1h-1zM803 587h1v1h-1zM796 588h2v1h-2zM795 589h1v1h-1zM795 590h2v1h-2zM795 591h2v1h-2zM798 591h2v1h-2zM791 593h1v1h-1zM800 593h2v1h-2zM790 594h2v1h-2zM796 594h1v1h-1zM799 594h3v1h-3zM788 595h1v1h-1zM796 595h2v1h-2zM799 595h3v1h-3zM801 596h2v1h-2zM802 597h1v1h-1zM800 598h4v1h-4zM800 599h4v1h-4zM800 600h4v1h-4zM801 601h3v1h-3zM801 603h2v1h-2zM795 604h1v1h-1zM801 604h3v1h-3zM795 605h1v1h-1zM799 605h5v1h-5zM800 606h4v1h-4zM798 610h2v1h-2zM798 611h2v1h-2zM789 612h2v1h-2zM799 612h1v1h-1zM790 613h2v1h-2zM795 613h1v1h-1zM799 613h1v1h-1zM792 614h1v1h-1zM795 614h1v1h-1zM799 614h1v1h-1zM791 615h4v1h-4zM799 615h2v1h-2zM791 616h4v1h-4zM799 616h3v1h-3zM791 617h2v1h-2zM800 617h2v1h-2zM794 618h1v1h-1zM802 621h2v1h-2zM798 622h2v1h-2zM801 622h3v1h-3zM796 623h4v1h-4zM801 623h2v1h-2zM796 624h3v1h-3zM801 624h1v1h-1zM801 625h1v1h-1zM793 626h1v1h-1zM801 626h1v1h-1zM792 627h2v1h-2zM801 627h1v1h-1zM803 627h1v1h-1zM791 628h1v1h-1zM802 628h2v1h-2zM790 629h1v1h-1zM803 629h1v1h-1zM789 630h2v1h-2zM803 630h1v1h-1zM790 631h2v1h-2zM790 632h2v1h-2zM800 632h1v1h-1zM791 633h1v1h-1zM791 634h1v1h-1zM791 635h1v1h-1zM794 636h6v1h-6zM786 637h2v1h-2zM797 637h3v1h-3zM787 638h1v1h-1zM797 638h3v1h-3zM789 639h1v1h-1zM802 639h1v1h-1zM788 640h2v1h-2zM801 640h3v1h-3zM788 641h2v1h-2zM801 641h3v1h-3zM788 642h5v1h-5zM802 642h1v1h-1zM788 643h5v1h-5zM795 643h2v1h-2zM785 644h1v1h-1zM789 644h1v1h-1zM792 644h1v1h-1zM795 644h2v1h-2zM785 645h1v1h-1zM791 645h1v1h-1zM800 645h3v1h-3zM785 646h1v1h-1zM802 646h1v1h-1zM789 650h2v1h-2zM786 651h2v1h-2zM789 651h2v1h-2zM786 652h5v1h-5zM787 653h1v1h-1zM225 669h2v1h-2zM222 670h3v1h-3zM226 670h1v1h-1zM220 671h5v1h-5zM227 671h1v1h-1zM218 672h8v1h-8zM227 672h1v1h-1zM216 673h12v1h-12zM212 674h7v1h-7zM221 674h3v1h-3zM227 674h1v1h-1zM204 675h1v1h-1zM206 675h14v1h-14zM221 675h2v1h-2zM227 675h1v1h-1zM204 676h2v1h-2zM207 676h12v1h-12zM221 676h2v1h-2zM207 677h12v1h-12zM222 677h2v1h-2zM209 678h10v1h-10zM222 678h4v1h-4zM208 679h1v1h-1zM214 679h4v1h-4zM222 679h5v1h-5zM204 680h2v1h-2zM208 680h1v1h-1zM221 680h7v1h-7zM204 681h3v1h-3zM213 681h1v1h-1zM219 681h9v1h-9zM204 682h2v1h-2zM207 682h1v1h-1zM213 682h3v1h-3zM218 682h4v1h-4zM226 682h2v1h-2zM205 683h4v1h-4zM211 683h4v1h-4zM217 683h4v1h-4zM205 684h10v1h-10zM217 684h10v1h-10zM205 685h6v1h-6zM212 685h7v1h-7zM220 685h7v1h-7zM205 686h5v1h-5zM212 686h15v1h-15zM206 687h1v1h-1zM208 687h2v1h-2zM212 687h2v1h-2zM216 687h4v1h-4zM222 687h3v1h-3zM208 688h3v1h-3zM212 688h7v1h-7zM205 689h6v1h-6zM214 689h5v1h-5zM205 690h5v1h-5zM214 690h11v1h-11zM204 691h4v1h-4zM214 691h3v1h-3zM219 691h7v1h-7zM203 692h2v1h-2zM214 692h2v1h-2zM219 692h3v1h-3zM224 692h1v1h-1zM203 693h2v1h-2zM218 693h4v1h-4zM218 694h3v1h-3zM213 695h1v1h-1zM219 695h3v1h-3zM207 696h2v1h-2zM213 696h4v1h-4zM219 696h3v1h-3zM204 697h1v1h-1zM207 697h2v1h-2zM212 697h5v1h-5zM219 697h2v1h-2zM202 698h4v1h-4zM207 698h3v1h-3zM211 698h6v1h-6zM218 698h4v1h-4zM198 699h2v1h-2zM203 699h4v1h-4zM209 699h5v1h-5zM218 699h5v1h-5zM196 700h3v1h-3zM204 700h3v1h-3zM209 700h6v1h-6zM218 700h4v1h-4zM194 701h4v1h-4zM204 701h4v1h-4zM210 701h2v1h-2zM213 701h4v1h-4zM219 701h3v1h-3zM193 702h7v1h-7zM201 702h16v1h-16zM218 702h4v1h-4zM192 703h3v1h-3zM197 703h4v1h-4zM203 703h14v1h-14zM218 703h3v1h-3zM191 704h4v1h-4zM197 704h4v1h-4zM203 704h12v1h-12zM219 704h2v1h-2zM191 705h4v1h-4zM198 705h4v1h-4zM203 705h1v1h-1zM205 705h6v1h-6zM213 705h4v1h-4zM219 705h1v1h-1zM191 706h4v1h-4zM198 706h3v1h-3zM203 706h8v1h-8zM213 706h5v1h-5zM191 707h9v1h-9zM203 707h8v1h-8zM213 707h5v1h-5zM188 708h1v1h-1zM192 708h1v1h-1zM194 708h6v1h-6zM203 708h8v1h-8zM213 708h3v1h-3zM187 709h2v1h-2zM196 709h15v1h-15zM213 709h1v1h-1zM187 710h2v1h-2zM194 710h3v1h-3zM201 710h7v1h-7zM186 711h5v1h-5zM193 711h12v1h-12zM206 711h1v1h-1zM185 712h5v1h-5zM192 712h11v1h-11zM206 712h2v1h-2zM185 713h2v1h-2zM188 713h1v1h-1zM192 713h2v1h-2zM195 713h4v1h-4zM201 713h2v1h-2zM192 714h1v1h-1zM197 714h2v1h-2zM201 714h2v1h-2zM153 715h2v1h-2zM184 715h2v1h-2zM191 715h3v1h-3zM201 715h2v1h-2zM153 716h2v1h-2zM183 716h3v1h-3zM189 716h1v1h-1zM191 716h3v1h-3zM201 716h2v1h-2zM153 717h3v1h-3zM182 717h5v1h-5zM192 717h2v1h-2zM196 717h2v1h-2zM200 717h3v1h-3zM152 718h5v1h-5zM183 718h3v1h-3zM192 718h3v1h-3zM196 718h7v1h-7zM151 719h6v1h-6zM184 719h1v1h-1zM193 719h2v1h-2zM197 719h6v1h-6zM153 720h5v1h-5zM189 720h1v1h-1zM198 720h5v1h-5zM153 721h6v1h-6zM187 721h4v1h-4zM194 721h3v1h-3zM199 721h4v1h-4zM154 722h6v1h-6zM162 722h1v1h-1zM188 722h2v1h-2zM194 722h8v1h-8zM157 723h3v1h-3zM190 723h12v1h-12zM157 724h4v1h-4zM195 724h6v1h-6zM157 725h3v1h-3zM154 726h6v1h-6zM154 727h6v1h-6zM163 727h1v1h-1zM151 728h1v1h-1zM154 728h6v1h-6zM161 728h4v1h-4zM151 729h1v1h-1zM153 729h6v1h-6zM161 729h5v1h-5zM169 729h4v1h-4zM151 730h6v1h-6zM161 730h2v1h-2zM165 730h9v1h-9zM154 731h3v1h-3zM161 731h2v1h-2zM166 731h3v1h-3zM173 731h2v1h-2zM157 732h1v1h-1zM161 732h1v1h-1zM166 732h3v1h-3zM173 732h1v1h-1zM177 732h1v1h-1zM153 733h2v1h-2zM158 733h1v1h-1zM161 733h2v1h-2zM165 733h9v1h-9zM177 733h1v1h-1zM152 734h7v1h-7zM160 734h15v1h-15zM176 734h3v1h-3zM153 735h1v1h-1zM155 735h4v1h-4zM160 735h19v1h-19zM155 736h4v1h-4zM160 736h4v1h-4zM170 736h10v1h-10zM154 737h5v1h-5zM160 737h4v1h-4zM170 737h2v1h-2zM174 737h2v1h-2zM179 737h1v1h-1zM154 738h6v1h-6zM162 738h2v1h-2zM170 738h2v1h-2zM174 738h2v1h-2zM179 738h1v1h-1zM158 739h1v1h-1zM162 739h2v1h-2zM170 739h6v1h-6zM178 739h2v1h-2zM86 740h1v1h-1zM158 740h1v1h-1zM161 740h3v1h-3zM169 740h11v1h-11zM181 740h1v1h-1zM80 741h3v1h-3zM87 741h1v1h-1zM90 741h1v1h-1zM158 741h1v1h-1zM162 741h2v1h-2zM169 741h3v1h-3zM173 741h6v1h-6zM70 742h3v1h-3zM79 742h1v1h-1zM87 742h1v1h-1zM90 742h3v1h-3zM123 742h3v1h-3zM136 742h1v1h-1zM157 742h2v1h-2zM162 742h2v1h-2zM169 742h2v1h-2zM173 742h4v1h-4zM70 743h2v1h-2zM87 743h1v1h-1zM91 743h1v1h-1zM123 743h3v1h-3zM134 743h1v1h-1zM134 743h2v1h-2zM135 743h2v1h-2zM136 743h1v1h-1zM157 743h3v1h-3zM163 743h2v1h-2zM172 743h5v1h-5zM178 743h1v1h-1zM87 744h2v1h-2zM116 744h2v1h-2zM120 744h1v1h-1zM132 744h1v1h-1zM132 744h2v1h-2zM133 744h2v1h-2zM134 744h2v1h-2zM135 744h2v1h-2zM136 744h5v1h-5zM155 744h1v1h-1zM157 744h4v1h-4zM164 744h2v1h-2zM172 744h2v1h-2zM79 745h2v1h-2zM87 745h1v1h-1zM90 745h6v1h-6zM112 745h2v1h-2zM115 745h3v1h-3zM119 745h2v1h-2zM127 745h2v1h-2zM132 745h1v1h-1zM132 745h2v1h-2zM133 745h2v1h-2zM134 745h2v1h-2zM135 745h1v1h-1zM137 745h2v1h-2zM138 745h1v1h-1zM157 745h8v1h-8zM170 745h5v1h-5zM83 746h1v1h-1zM87 746h1v1h-1zM90 746h3v1h-3zM94 746h4v1h-4zM101 746h1v1h-1zM107 746h1v1h-1zM112 746h8v1h-8zM125 746h3v1h-3zM130 746h1v1h-1zM130 746h2v1h-2zM134 746h1v1h-1zM137 746h1v1h-1zM137 746h2v1h-2zM138 746h2v1h-2zM157 746h1v1h-1zM161 746h4v1h-4zM168 746h1v1h-1zM170 746h3v1h-3zM81 747h2v1h-2zM87 747h2v1h-2zM90 747h2v1h-2zM95 747h2v1h-2zM104 747h3v1h-3zM117 747h3v1h-3zM123 747h5v1h-5zM133 747h1v1h-1zM133 747h2v1h-2zM134 747h4v1h-4zM137 747h2v1h-2zM138 747h2v1h-2zM139 747h1v1h-1zM156 747h2v1h-2zM160 747h5v1h-5zM167 747h3v1h-3zM70 748h1v1h-1zM79 748h2v1h-2zM86 748h1v1h-1zM93 748h2v1h-2zM104 748h2v1h-2zM117 748h1v1h-1zM119 748h2v1h-2zM122 748h2v1h-2zM125 748h3v1h-3zM133 748h1v1h-1zM133 748h2v1h-2zM134 748h5v1h-5zM141 748h1v1h-1zM141 748h2v1h-2zM142 748h2v1h-2zM143 748h2v1h-2zM156 748h1v1h-1zM160 748h1v1h-1zM162 748h4v1h-4zM167 748h2v1h-2zM70 749h4v1h-4zM78 749h3v1h-3zM85 749h2v1h-2zM92 749h2v1h-2zM103 749h2v1h-2zM113 749h1v1h-1zM117 749h1v1h-1zM119 749h5v1h-5zM128 749h2v1h-2zM141 749h1v1h-1zM141 749h2v1h-2zM142 749h2v1h-2zM143 749h2v1h-2zM144 749h2v1h-2zM145 749h1v1h-1zM161 749h1v1h-1zM164 749h4v1h-4zM72 750h2v1h-2zM78 750h2v1h-2zM85 750h2v1h-2zM92 750h2v1h-2zM103 750h2v1h-2zM113 750h1v1h-1zM120 750h3v1h-3zM128 750h1v1h-1zM140 750h1v1h-1zM140 750h2v1h-2zM141 750h2v1h-2zM142 750h2v1h-2zM143 750h2v1h-2zM144 750h2v1h-2zM145 750h1v1h-1zM161 750h1v1h-1zM164 750h3v1h-3zM73 751h1v1h-1zM85 751h3v1h-3zM90 751h3v1h-3zM97 751h1v1h-1zM101 751h1v1h-1zM104 751h2v1h-2zM136 751h2v1h-2zM137 751h1v1h-1zM142 751h1v1h-1zM142 751h2v1h-2zM143 751h2v1h-2zM144 751h2v1h-2zM145 751h1v1h-1zM161 751h2v1h-2zM80 752h2v1h-2zM83 752h6v1h-6zM95 752h3v1h-3zM108 752h1v1h-1zM136 752h2v1h-2zM137 752h1v1h-1zM143 752h1v1h-1zM143 752h2v1h-2zM144 752h2v1h-2zM145 752h1v1h-1zM160 752h4v1h-4zM83 753h7v1h-7zM94 753h3v1h-3zM117 753h3v1h-3zM137 753h1v1h-1zM137 753h2v1h-2zM146 753h1v1h-1zM160 753h3v1h-3zM75 754h2v1h-2zM89 754h1v1h-1zM94 754h3v1h-3zM103 754h3v1h-3zM116 754h3v1h-3zM133 754h1v1h-1zM133 754h1v1h-1zM137 754h1v1h-1zM137 754h2v1h-2zM138 754h1v1h-1zM160 754h2v1h-2zM76 755h1v1h-1zM95 755h2v1h-2zM103 755h4v1h-4zM126 755h5v1h-5zM133 755h2v1h-2zM134 755h1v1h-1zM137 755h2v1h-2zM138 755h1v1h-1zM140 755h2v1h-2zM141 755h1v1h-1zM96 756h1v1h-1zM103 756h3v1h-3zM127 756h4v1h-4zM130 756h2v1h-2zM140 756h1v1h-1zM140 756h2v1h-2zM141 756h1v1h-1zM82 757h2v1h-2zM128 757h4v1h-4zM131 757h1v1h-1zM140 757h1v1h-1zM140 757h2v1h-2zM141 757h2v1h-2zM142 757h2v1h-2zM143 757h1v1h-1zM76 758h2v1h-2zM82 758h1v1h-1zM90 758h5v1h-5zM98 758h2v1h-2zM109 758h1v1h-1zM118 758h4v1h-4zM140 758h1v1h-1zM140 758h2v1h-2zM141 758h2v1h-2zM142 758h2v1h-2zM143 758h2v1h-2zM144 758h1v1h-1z" fill="#000" shape-rendering="crispEdges"/>
<path d="M6 105.3 L155.2 105.3 L160.7 118.2 L149.6 131.1 L138.5 148.9 L188.4 148.9M198.7 6.9 L200.4 7.9 L200 9.2 L200.1 10.4 L202.4 11.3 L205.3 12.2 L202.8 13.7 L202 15 L202.2 16.2 L201 17.6 L199.5 19 L202.7 19.8 L205 20.8 L205.2 22.5 L204.3 23.6 L203.9 24.8 L204.4 26.1 L202.9 27.1 L199 27.9 L200.5 29.3 L202.8 30.9 L202.4 32.1 L203.6 33.5 L204.3 34.8 L200.1 35.5 L200 39.4 L201.8 38.7 L203 39.2 L204.2 39.6 L206.6 37.7 L208.6 36.5 L208.9 38.7 L209 41.5 L210 42.3 L211 43.1 L211.8 44.5 L212.6 45.7 L215.9 41.8 L218.1 43.5 L217.9 44.9 L218 46.2 L216.9 47.9 L213.8 50.3 L216.2 50.7 L218.9 51 L219.8 52 L221.4 52.7 L222.5 53.6 L218.7 56.3 L218.1 57.8 L219.1 58.7 L221.4 59.5 L222.5 60.2 L224.2 59.3 L226.4 57.1 L226.9 59.3 L227.3 61.6 L228 63.4 L229.3 63.5 L228.2 62.2 L228.2 63.4 L231.6 65.5 L232.3 66.8 L231.2 67.9 L230.1 68.8 L229.6 70 L229.2 71.1 L227.6 72 L225.2 72.7 L226.8 74.3 L228.5 76 L229.2 77.4 L229.1 78.6 L228.4 79.8 L229.4 81.3 L227.2 81.9 L224.5 82.4 L222.3 83 L223.7 84.6 L224.8 86.2 L224.6 87.5 L225.2 88.9 L227 90.7 L226.8 91.9 L224.2 92.4 L220.5 92.5 L220.9 93.9 L220.7 95.1 L220.2 96.2 L221.6 97.8 L219.5 99.8 L218.7 98.4 L218.2 96.3 L217.2 95.4 L216.9 92.9 L215.6 92.8 L213.6 94.4 L214.1 95 L214 96.4 L212.4 97 L212.3 98.3 L210.7 98.9 L208.2 99 L206 99.3 L208.1 101.8 L208.7 103.4 L208.4 104.7 L204.5 107.7 L205.2 105.1 L206.6 101.9 L205.6 101 L203.8 100.9 L203.3 99.6 L202 99.8 L203.9 101.4 L202.7 102.5 L199.5 103.2 L199.7 104.5 L199.6 105.7 L197.6 106.7 L197.1 107.9 L200.3 109.7 L202.1 110.8 L200.6 112 L200.2 113.3 L200.3 114.5 L196.7 115.7 L195.5 117 L199.6 118.2 L200.4 119.4 L200.7 120.7 L200.7 121.9 L202 123.1 L200.2 124.4 L198.6 123.5 L196.9 122.5 L196.3 124.4 L195.8 126.5 L194.6 126.8 L193.9 128.4 L193.1 129.9 L192.2 131 L189.5 129.5 L189.4 130.8 L189.3 132.2 L189.3 133.5 L190.6 134.4 L194.9 134.7 L193.7 136.3 L192.7 137.8 L193 139.1 L193 140.4 L190.3 142.4 L191.3 143.4 L195.2 145.1 L194.3 146 L193.5 147.1 L193.1 148.5 L191.4 148.8 L187.6 147.6 L187.4 149.1 L187.4 151.7 L188.6 152.7 L188.7 154 L189.7 155.1 L192.7 155.8 L192.6 157.1 L189.2 158.9 L188.3 160.3 L188.4 161.5 L189.6 160.9 L188.9 162.5 L189 166.2 L187.1 164.8 L185.5 164.2 L184.3 164.4 L182 162.1 L181.3 163.6 L182.2 167.1 L181.5 168.3 L180.3 169 L179.5 170 L177.5 170.2 L174.3 169.3 L174.8 171.4 L175.5 173.7 L174.7 174.7 L174.6 175.6 L175.6 177.1 L174.9 178.3 L172.8 179.3 L170.5 180.3 L171.2 181.7 L171.8 183.1 L171 184.3 L173.4 186 L176 187.7 L173.3 189.7 L170.6 189 L169.6 189.7 L167.9 189.9 L166.3 190.1 L166.5 191.9 L168.1 194.7 L168.8 196.9 L166.6 196.6 L165.7 197.4 L164.8 198.3 L161.5 197 L159.9 196.9 L162.2 201.1 L161.4 202.1 L160.5 203 L160.1 204.4 L159.4 205.6 L156.1 204.2 L153.7 203.6 L151.9 207.7 L154.8 208.3 L154.9 209.6 L156.8 210.4 L160.5 210.8 L157.8 212.8 L155.3 214.7 L156.3 215.7 L155.5 217.2 L155.9 218.4 L157.7 219.3 L160.9 219.8 L159.7 222.7 L158 222.7 L157 223.6 L155.9 224.3 L154 224 L151.4 222.8 L152.6 226.5 L152.8 228.8 L151.6 229.4 L150.7 229.7 L151.1 231.5 L147.6 230.6 L144.2 229.8 L145.7 232.2 L146.2 234 L145.5 235 L145.1 236.2 L146.9 238.8 L146.4 240 L143.2 239.3 L140.4 240.6 L141.2 241.7 L141.8 242.8 L141.3 244.3 L143.3 245.1 L147.4 245.3 L144.7 249.8 L142.9 247.9 L141.7 247.9 L140.4 248 L138.6 246.1 L137.8 248 L137.6 251.6 L136.3 251.7 L134.9 251.1 L133.9 252.1 L132.2 250.6 L128.3 250.1 L127.4 251.1 L130.2 253.5 L130.4 254.8 L130.8 256.3 L132.2 258.1 L129.3 258.3 L125.6 258.2 L126.1 259.7 L125.9 260.9 L126.7 262.5 L128.6 264.5 L129.4 266.1 L125.6 266 L124.7 267.1 L124.5 268.4 L122.1 269.4 L123.3 270.7 L126.4 272.3 L128.2 273.7 L125.6 274.7 L125.8 275.9 L124.8 277.1 L121.6 278 L120.3 279.1 L123.7 280.7 L125.5 282.1 L125 283.3 L125.3 285.9 L125 287.3 L123.3 287.3 L120.3 286.1 L118.5 286 L118.2 287.4 L118.1 289.1 L117.1 289.8 L117.7 292.1 L118.8 295 L115.8 293.8 L113.4 293.1 L112.7 294.1 L110.6 293.7 L111 295.9 L109.2 296.2 L108.7 294.3 L110.8 294.4 L112.6 294.2 L113.4 293.3 L114.8 292.9 L117 293 L117.7 292 L116.4 289.6 L116.3 287.9 L116.8 286.8 L117 285.4 L117.7 284.5 L120.5 285 L122.9 285.3 L123.8 284.5 L123.2 282.6 L123.1 281 L124 280.1 L125.4 282.5 L125 283.7 L120.6 282.4 L119.6 283.3 L119.5 284.6 L117.7 285 L118.9 287.3 L120.7 289.9 L118.6 290 L117.1 290.5 L116.3 291.5 L115.6 292.6 L112.6 292.1 L113 292.9 L113.4 295.4 L113.5 297.6 L112.5 298.3 L111.3 298.8 L110.8 300.1 L108.6 299.2 L105.1 296.6 L105.5 299.3 L105.4 301.1 L105 302.6 L104.2 303.6 L103.9 305.3 L103.2 306.5 L100.9 305.4 L97.1 305.1 L97.4 306.4 L97.7 307.8 L96.9 308.8 L97.9 310.5 L101.7 313 L99.7 313.6 L96.8 314 L95.5 314.8 L95.5 316.1 L94.6 317.1 L92.3 317.7 L95.1 319.9 L96.7 321.7 L95.4 322.5 L94.7 323.6 L94.4 324.8 L93.2 325.7 L88.9 325.6 L90 326.8 L91.6 328.9 L92.3 330.7 L91.9 331.8 L91.8 333.1 L91.5 334.3 L86.6 333.2 L86.5 334.5 L87.4 336.3 L87 337.5 L87.6 339.1 L88.7 341 L88.4 342.2 L86.1 342.4 L83.6 342.5 L83.3 343.7 L82.3 344.5 L80.9 345.2 L80.8 346.5 L83.2 349.1 L85.1 351.3 L83.6 351.9 L80.8 351.9 L80.1 352.9 L75.9 354.6 L76.3 355.7 L79.6 356.3 L82.1 357.1 L81.4 358.4 L82.9 359.3 L81.4 360.9 L77.6 362.8 L79.2 363.7 L81.2 364.6 L81.6 365.7 L83.5 366.6 L84.3 367.6 L84.5 368.8 L82.7 370.4 L80.6 372 L81.7 373 L81.7 374.3 L81.1 375.6 L82.4 376.6 L86.8 376.9 L88.1 377.9 L85.3 379.7 L84.3 381.1 L83.8 382.4 L81.2 382.8 L84.5 384.5 L86.6 386.1 L86.1 387.3 L85.6 388.4 L85.2 389.6 L80.8 390 L81.4 391.3 L83.6 392.9 L83.7 394.2 L83.6 395.4 L84.6 396.8 L85.4 398.1 L80.3 398.5 L79.9 399.7 L81 401.1 L80.1 402.1 L81.9 403.7 L83.9 405.2 L84.3 406.5 L81.1 407.2 L79.8 408.2 L79.5 409.4 L78 410.3 L77.3 411.5 L82.3 413.5 L82.4 414.8 L80.4 415.6 L80.6 416.4 L78.8 418.1 L76.9 419.8 L78.4 420.7 L80.8 421.4 L81.7 422.4 L82.3 423.6 L82.6 424.8 L83.6 425.8 L80.9 427.7 L79.3 429.3 L81.4 430.1 L82 431.2 L84.1 432 L85.4 432.9 L85.1 434.2 L83.7 435.8 L82.1 437.4 L83.1 438.5 L83 439.8 L82.7 441.1 L87 441.3 L89.4 442.1 L86.2 444 L86.3 445.3 L85.9 446.6 L84.3 448.3 L83.2 449.8 L88 449.9 L88.6 451 L88.9 452.2 L89.7 453.3 L89 454.7 L86.2 456.6 L85.7 459 L88.4 458.9 L89.9 459.5 L90.9 460.4 L94.2 460 L93.7 461.7 L91.4 464.5 L91.7 465.7 L92.4 466.8 L92.2 468.4 L95.2 468.2 L98.7 467.7 L97.3 469.9 L96.6 471.7 L97.1 472.9 L97.5 473.6 L94.5 472.6 L94.1 473.8 L95.2 476.4 L96.4 479.2 L95.2 479.7 L93.8 480.2 L93.3 481.4 L92.8 482.6 L89.5 481.4 L87.6 481.3 L87 482.4 L88.5 485.5 L87.6 486.3 L87 487.4 L87.1 489.2 L87.1 490.9 L84.2 489.9 L81 489.9 L80.7 491.1 L81.3 492.6 L80.9 493.8 L80.8 495.1 L82.1 496.9 L84.9 499.2 L81.8 499.4 L79.2 499.8 L78.7 500.9 L77.9 501.9 L76.6 502.8 L75.3 503.7 L77.1 505.7 L78.8 507.6 L79 508.9 L78.3 510 L76.7 510.8 L76.2 511.9 L73.4 512.3 L72.2 513.1 L75 515.5 L74.8 517.1 L74.5 518.5 L74.4 520 L70.9 518.8 L68.5 518.5 L69.1 520.5 L68.8 521.9 L68.3 523.1 L68.9 525.2 L69.2 527 L67.6 527.3 L64.5 526.5 L63.4 527.2 L62.9 528.3 L60.9 528.3 L61.1 530.1 L62.1 532.5 L62.6 534.5 L60.4 534.3 L59.4 535.1 L57 535.2 L54.3 535.3 L54.4 536.7 L57 539.4 L58 541.3 L57.4 542.4 L56.6 543.4 L57.1 545 L54.4 545.1 L51 544.7 L51.1 546.2 L52.4 548.2 L51.8 549.3 L52.4 551 L53.2 552.7 L53.6 554.4 L51.2 554.6 L49.1 554.9 L46.8 555.1 L45.9 557.1 L46.3 558.3 L46.5 559.6 L49.5 560.8 L51.5 562 L50 563.2 L47.8 564.5 L47.7 565.7 L47.2 566.9 L44.2 568.1 L45.6 569.4 L48.5 570.6 L50.2 571.8 L49.2 573 L49.2 574.3 L47.7 575.7 L49.3 573.2 L49.2 571.7 L46.5 572 L44.7 571.7 L44.1 570.7 L43.1 569.8 L41.6 569.3 L40.5 568.6 L43.4 565.2 L43.2 563.8 L41.5 563.5 L40.9 562.4 L39.7 561.7 L35.2 563.2 L40.4 558.4 L39.3 560.5 L38.8 562.2 L39 563.6 L39.1 564.9 L37.9 567.1 L40.9 566.7 L43.5 566.4 L45.5 566.6 L44.3 568.8 L44.9 569.9 L44.2 571.8 L42.2 574.4 L44.9 574.2 L48.3 574.7 L47.3 575.8 L48.6 577.3 L48.9 578.6 L43.6 578.9 L42.8 580.1 L44.7 581.7 L44.4 582.9 L44.3 584.2 L46.1 585.8 L48 587.4 L44.4 588 L42.4 588.9 L42.7 590.3 L42.4 591.5 L40.7 592.5 L43.2 594.2M302.1 7 L303.2 7.9 L303.3 9.3 L305.2 9.7 L306.7 10.3 L306.2 12.1 L306.5 13.3 L306.8 14.6 L306.6 16.2 L308.5 16.5 L307.4 17.5 L306.3 18 L305 18.1 L303.9 18.6 L302.5 18.3 L301 17.6 L299.7 17.3 L298.9 19.3 L297.7 19.8 L296.8 21.2 L295.4 20.9 L293.8 19.4 L292.7 20.2 L291.5 20.5 L290.3 21.1 L289.6 23.1 L288.4 23.6 L286.9 22.5 L285.5 22.4 L284.2 22.2 L282.9 22.2 L282 23.6 L281.8 24.1 L281 25.3 L280.8 26.6 L279 27.7 L278.8 29 L280.1 30.5 L280.1 31.8 L280.1 33.1 L280.1 34.4 L278.9 35.6 L278 37.3 L279.2 38.2 L279.7 39.4 L280.8 40.3 L282.1 41.1 L282 42.6 L281.5 44.2 L281.8 45.4 L282.5 46.5 L282.6 47.9 L282.6 49.2 L284.1 49.1 L283.3 50.5 L282.3 51.7 L281 51.8 L279.5 51.6 L278.2 51.8 L276.8 51.5 L275.4 51.4 L274.6 53 L273 54.1 L272 53.4 L270.8 52.9 L270.4 51.4 L270.1 49.7 L268.9 49.4 L267.5 49.1 L266.5 48.4 L264.9 48.4 L263.9 47.8 L263.9 45.7 L262.9 44.9 L261.9 44.3 L260.9 43.5 L260 42.7 L258.6 42.3 L257.1 44 L256 42.9 L254.9 41.9 L253.7 41.8 L252.5 40.9 L251.3 40.4 L250 41.5 L248.7 41.9 L247.4 41.7 L246.2 41.4 L245 41.3 L243.9 40.7 L242 40.1 L240.9 40.8 L240.4 42.3 L239.6 43.4 L238.7 44.4 L237.8 45.4 L236.3 45.4 L234.7 45.2 L233.7 45.9 L232.6 46.6 L231.6 47.5 L231.4 49.5 L230.5 50.4 L228.8 50.2 L227.2 50 L226.2 50.8 L224.8 51.2 L223.4 51.7 L223 53 L223.2 55.1 L222.7 56.4 L221.3 56.9 L220.1 57.5 L219.1 58.4 L218 59.1M208.7 105.3 L312.2 105.3 L310.3 90.9 L325.1 91.6 L410 92.4 L510.8 93.1 L636.4 95.3 L769.4 96.8 L786 95.3M636.6 95.8 L637.7 95.2 L638.9 95 L639.5 93.2 L640.9 93.3 L642.2 93.3 L643.4 93 L644.9 93.6 L645.6 91.8 L646.7 91.2 L647.8 90.7 L649.1 90.8 L650.5 91.1 L651.4 89.8 L652.5 89.4 L653.5 88.4 L655.1 89.2 L656.3 88.8 L657.4 88.2 L658 86.4 L659.3 86.2 L660.8 86.7 L661.9 86.1 L663.2 86.1 L664.3 85.3 L665 83.7 L666.3 83.7 L667.5 83.4 L669 83.8 L670.1 83.1 L670.9 81.8 L672.1 81.5 L673 80.8 L674.3 80.5 L675.8 80.5 L676.3 79.1 L677.2 78.4 L678 77.4 L678 75.6 L680.2 76.3 L681 75.4 L682.2 75 L682.6 73.6 L682.7 71.9 L684.3 71.8 L685.5 71.3 L687 71.4 L688.2 71 L689.1 69.9 L689.9 68.7 L691.1 68.3 L692.3 67.8 L693.8 68.1 L695 67.5 L695.8 66.3 L696.9 65.8 L697.7 64.5 L698.2 64.2 L700.1 63.7 L700.5 62.5 L701.2 61.5 L701.5 60.3 L700.7 58.6 L701.9 57.8 L702.7 56.9 L703.2 55.8 L704.5 55 L704.8 53.8 L703.9 52.1 L704.8 51.2 L705.6 50.2 L707.2 49.6 L706.6 47.9 L707.6 47.3 L708.4 45.8 L709.8 45.9 L711.6 46.5 L712.5 45.5 L713.4 44.6 L714 42.8 L715.7 43.5 L717 43.2 L718.3 42.9 L718.8 41.2 L720.1 40.9 L721.3 40.4 L722.7 40.5 L724 40.4 L724.6 38.8 L725.6 38.2 L726.6 37.4 L728.4 38.3 L729.1 37 L730.1 36.3 L730.7 34.8 L732.5 35.6 L733.5 35 L734.6 34.4 L735.8 34.1 L736.1 32 L737.5 32.1 L738.7 31.8 L740 31.5 L741.3 31.1 L741.3 29.4 L742.2 28.6 L742.8 27.5 L744.4 27.4 L745.8 27.1 L745.8 25.4 L746.6 24.5 L746.9 23.1 L748.7 23.2 L749.7 22.5 L750.5 21.6 L751.3 20.9 L751.7 19.4 L752.4 18.2 L754 18.3 L755 17.7 L756.5 17.8 L757.1 16.5 L757.6 15.1 L758.7 14.5 L759.6 13.7 L761.5 14.3 L761.6 13.3 L763.1 13.6 L764.1 14.5 L765.6 14.9 L765.5 16.7 L765.4 18 L766 19.1 L766.8 20.1 L767.8 21.1 L767.5 22.5 L767.5 23.8 L767.3 25.1 L768.4 26.1 L769.8 26.9 L769.5 28.3 L769.6 29.4 L770.5 30.1 L770.8 32.1 L772.8 31.3 L773.8 32 L775.1 32.2 L775.3 34.3 L776.5 34.7 L777.7 35 L779 35.4 L780.7 35 L781.1 36.8 L781.8 37.9 L782.7 38.8 L784.3 39.2 L785.3 37.8 L786.6 38.2 L787.9 38.2 L789.2 39 L790.4 38.5 L791.5 37.4 L792.8 37.3 L794 36.7 L795.3 37.5 L796.7 38.5 L797.8 37.1 L799 36.9 L800 35.8 L800.9 34.5 L803 35.7 L804.1 34.8 L805.4 34.4 L806.4 33.2M786 95.3 L806.4 97.9M785.3 95.1 L785.1 96.3 L784.8 97.5 L785.2 99 L785.3 100.4 L783.8 101.2 L783 102.3 L782.3 103.4 L783.5 105.1 L782.7 106.2 L782.2 107.4 L780.5 108.1 L780.2 109.3 L780.7 111 L780.1 112.1 L779.5 113.3 L777.3 112.8 L776.5 113.6 L776 114.8 L775.4 115.9 L775.2 117.5 L773.5 117.4 L772.6 118.3 L771.2 118.6 L771.1 120.2 L771.1 121.9 L769.7 122.2 L768.3 122.6 L766.8 122.8 L767.1 124.8 L766.3 125.7 L765.3 126.5 L763.7 126.6 L763 127.7 L762.2 128.7 L761.7 129.9 L761.7 131.6 L759.7 131.3 L758.7 132.1 L757.5 132.7 L757.9 134.8 L757.1 135.7 L755.5 135.9 L754.6 136.7 L753.1 136.3 L752.1 137.3 L751.4 138.7 L750.2 139.2 L749.1 139.8 L747.5 139.4 L746 139.1 L745.3 140.6 L744.3 141.4 L743.5 142.8 L741.8 142.1 L740.4 142 L739.3 142.6 L738.3 143.4 L737.5 144.9 L736.2 144.9 L734.8 144.8 L733.4 144.8 L732.1 145.2 L731.5 146.7 L730.6 147.7 L729.4 148 L728.1 148.3 L726.5 147.8 L725.5 148.7 L724.8 150 L723.8 150.7 L723 152 L721.6 151.3 L720.7 150.3 L719.5 149.6 L718.3 149.1 L716.5 149.2 L716.1 147.5 L715.2 146.5 L713.4 145.1 L713.1 146.9 L712.4 148.1 L711 148.5 L709.9 149.3 L708.3 149.3 L707.3 150.3 L706.7 151.9 L705.5 152.3 L704.3 153 L702.7 152.1 L701.4 152.4 L700.4 153.4 L699.2 153.9 L698.5 155.9 L696.7 154.6 L695.2 155.1 L693.9 155.9 L694.9 157.9 L694.5 159.3 L693.2 160.1 L692.5 161.3 L691.3 161.7 L690.9 163.4 L689.9 164.3 L688.9 165.1 L687.4 165 L685.9 164.9 L685.2 166.2 L684.2 167 L683.5 168.4 L682.7 169.5 L680.7 168.5 L679.6 169.2 L678.5 169.7 L677.4 170.4 L677.4 172.9 L675.6 172.3 L674.4 172.8 L673.1 173 L671.8 173.2 L671.3 175.1 L670.2 175.6 L669 176.2 L667.9 176.8 L665.9 175.7 L665 176.8 L664.4 178.3 L663.2 178.9 L662.4 180.1 L661.2 180.5 L659.5 179.9 L658.4 180.5 L657.3 181.1 L656.1 181.4 L655.5 183.3 L653.9 182.5 L652.7 182.7 L651.3 182.5 L650.1 182.9 L649.5 184.8 L648.3 185.1 L647 185.2 L645.8 185.5 L644.2 184.6 L643.6 186.5 L642.3 186.8 L641.3 187.5 L640.2 188 L638.4 186.5 L637.5 187.8 L636.3 188.1 L635.3 189 L634.6 190.3 L633.2 190.3 L631.8 190.3 L630.6 190.7 L629.3 190.8 L628.9 192.7 L627.9 193.5 L626.5 193.5 L624.9 193.1 L624.1 194.2 L623.5 195.8 L622.2 196 L621.4 197 L619.8 196.7 L618.2 196.1 L617.6 197.7 L616.5 198.4 L615.7 199.5 L615.4 200 L613.2 200.3 L612.9 201.6 L611.9 202.5 L612.9 204.4 L612.2 205.4 L610.9 206.1 L610.1 207.1 L608.9 207.9 L609.9 209.8 L609 211.2 L607.8 211.5 L606.7 212.1 L604.9 211.1 L603.8 211.5 L603.2 213.2 L602.1 213.7 L601.2 214.6 L600.1 215.1 L598.5 214.5 L597.3 214.7 L596.3 215.6 L595.2 216.1 L594.8 218 L593.4 217.9 L591.7 217.9 L591.2 219.1 L591.3 220.3 L592.3 221.7 L591.8 222.9 L591.5 224.1 L590 225 L589.7 226.2 L590.5 227.6 L590.6 228.8 L590.9 230.1 L590.3 231.2 L588.7 232.2 L588.5 233.4 L588.9 234.7 L588.9 235.9 L589.5 237.3 L588.4 238.3M142.2 238.3 L410 238.3 L677.1 238.3M677.1 238.3 L695.5 229 L717.7 223.5 L732.5 219.8 L806.4 223.5M676.6 237.9 L675.8 238.8 L675.4 240 L675.3 241.5 L674.4 242.4 L673.1 242.9 L672.1 243.6 L670.7 244 L670.4 245.4 L670.5 247 L669.5 247.8 L668.7 248.7 L667.5 249.3 L665.9 249.5 L665.2 250.9 L665.8 252.4 L665.3 253.5 L665.5 254.9 L665.3 256.2 L663.1 256.6 L663 257.9 L662.7 259.1 L662.3 260.2 L662.6 261.6 L662.8 263 L661.8 263.9 L660.5 264.8 L660.2 266.2 L660.9 267.3 L662.5 267.4 L663.9 267.7 L664.5 268.9 L665.5 269.7 L666.3 270.6 L666.7 272.1 L667.3 273.3 L669.3 272.9 L670.3 273.6 L671.4 274.3 L672.7 274.7 L672.9 276.5 L673.3 278 L674.5 278.4 L675.8 278.8 L676.7 279.6 L678.3 279.7 L679.4 280.3 L680 281.6 L680.7 283.2 L682 283 L683.2 283.7 L684.5 282.9 L685.8 282 L687 283.1 L688.2 283.4 L689.4 283.5 L690.5 284.5 L691.7 284.6 L693.1 283.4 L694.3 283.8 L696 284.2 L696.6 285.4 L695.5 287.1 L696.3 288.2 L697.2 289.2 L697.8 290.4 L698.8 291.3 L699.4 292.5 L698.2 294.3 L699 295.3 L699.4 296.6 L700.1 297.7 L701.8 298.4 L700.7 300.2 L700.8 298.8 L700.6 297.6 L700.8 296.2 L699.7 295.3 L698.2 294.5 L698.3 293.2 L697.9 292 L697.4 290.9 L698 289.3 L698.2 288 L696.8 287.2 L696.1 286.1 L695.3 285.1 L696.2 283.3 L695.2 285.3 L696.4 286.1 L697.1 287.2 L698.2 288 L699.9 288.5 L699.4 290.2 L699.9 291.4 L700.1 292.8 L700.9 293.8 L702.9 294.1 L703.2 295.4 L703.6 296.6 L704.3 297.6 L704.3 299.1 L704.5 300.5 L705.6 301.3 L706.9 302.1 L707.4 303.2 L708.2 304.2 L708.9 305.1 L708.4 306.8 L708.5 308.1 L709.3 309 L710.2 310 L710.8 311 L711.9 311.8 L712.9 312.7 L712.3 314.4 L712.9 315.5 L713 316.8 L714 317.6 L715.7 318.1 L715.6 319.5 L716 320.7 L715.9 322.1 L716 323.5 L717.7 324 L718.7 324.9 L719 326 L719.8 327 L719.2 328.7 L719.7 329.8 L720.8 330.6 L721.8 331.3 L722.9 331.9 L722.8 333.8 L723.5 334.7 L724.5 335.4 L725.3 336.4 L726.8 336.5 L728.1 336.9 L728.9 337.9 L729 339.4 L729.9 340.3 L730.1 341.7 L731.6 342 L733 342.2 L733.5 343.4 L734.4 344.3 L734.4 345.9 L735.2 346.9 L736.8 347 L737.7 347.8 L738.7 348.5 L740.2 348.8 L739.8 350.9 L740.3 352 L741.5 352.5 L742.3 353.4 L743.8 353.6 L745.1 354 L745.2 355.6 L745.8 356.7 L746.7 357.5 L747.2 358.8 L748.2 359.4 L750 359.4 L750.6 360.5 L751.4 361.4 L752.1 362.3 L752.3 363.9 L753.2 364.7 L754.9 364.7 L755.7 365.6 L757.1 365.9 L757.1 367.6 L757.5 368.9 L758.7 369.4 L759.6 370.2 L761.2 370.3 L762.3 370.9 L762.4 372.5 L762.9 373.7 L763.8 374.5 L764.5 375.5 L765 376.2 L766.8 377 L766.9 378.2 L766.8 379.5 L766.7 380.8 L766.3 382.2 L766.8 383.3 L768.5 384.1 L768.9 385.3 L769.2 386.5 L769.9 387.6 L769.3 389.1 L769.7 390.5 L771.1 390.8 L772.1 391.4 L773.2 392.1 L774.5 392.5 L775.3 393.4 L775.4 395.2 L776.5 395.8 L777.4 396.6 L778.3 397.4 L780 397.3 L781.1 398 L781.4 399.5 L782.3 400.4 L782.7 401.8 L783.8 402.3 L785.5 402.3 L786.2 403.3 L787.2 404.1 L787.5 405.6 L787.8 407 L789.5 407.1 L790.4 407.9 L791.4 408.6 L792.6 409.2 L792.6 410.9 L793.5 411.8 L794.4 412.6 L795.3 413.4 L796.9 413.6 L797.9 414.3 L798.2 415.8 L798.8 416.8 L798.9 418 L798.9 419.2 L799.6 420.3 L800.9 421.2 L801.8 422.2 L801.3 423.6 L801.8 424.7 L801.5 426 L800.9 427.5 L802.3 428.3 L803.1 429.3 L803.3 430.5 L804.2 431.5 L804.5 432.7 L803.8 434.2 L803.6 435.3 L804.4 436.4 L804.5 437.7 L805.6 438.8 L805.4 440.1 L804.8 441.4 L804.9 442.6 L804.7 443.9 L804.9 445.1 L805.7 446.2 L806.7 447.4 L806 448.7 L806.1 449.9 L805.6 451.2 L805.3 452.5 L806.4 453.6M499 237.5 L499.7 280 L523.8 427.8 L529.3 442.5 L538.5 461 L538.5 475.8 L545.9 483.2 L534.8 494.3 L531.1 516.4 L533 546 L529.3 580 L529.7 560 L535.1 581.6 L538.7 599.6 L542.3 619.4M299.2 238.3 L306.6 251.2 L302.9 297.4 L304.8 280 L295.5 353.9 L284.4 464.7 L278.9 516.4 L282.6 580 L282.8 560 L284.6 614 L286.4 642.9M6 415.6 L77.6 415.6M43.2 594.2 L185.5 594.2 L178.3 610.4 L180.1 628.4 L189.1 642.9 L194.5 664.5 L201.7 671.7M358.4 646.5 L360.2 628.4 L349.4 614 L340.4 606.8 L344 594.2 L409.9 594.2 L535.1 594.2M547.7 620.5 L745.8 632 L744.3 632.2 L746.9 648.6 L757.2 650.3 L759 643.4 L759.8 631.4 L757.2 617.6 L759 612.4 L765.9 609 L772.8 612.4 L779.7 614.1 L785.7 616.7 L793.4 619.3" fill="none" stroke="#000" stroke-width="1.08" stroke-linejoin="round"/>
<circle cx="407.2" cy="407.2" r="159.7" fill="none" stroke="#dedede" stroke-width="0.95"/>
<circle cx="407.2" cy="407.2" r="279.9" fill="none" stroke="#dedede" stroke-width="0.95"/>
<circle cx="407.2" cy="407.2" r="399.8" fill="none" stroke="#dedede" stroke-width="0.95"/>
<circle cx="407.2" cy="407.2" r="520.0" fill="none" stroke="#dedede" stroke-width="0.95"/>
<circle cx="407.2" cy="407.2" r="39.6" fill="none" stroke="#ff1212" stroke-width="1.2"/>
<polyline points="406,406 451,571" fill="none" stroke="#e4e4e4" stroke-width="0" />
<rect x="398.7" y="363.6" width="14.2" height="8" fill="#5d4f4a"/>
<rect x="395.4" y="243.5" width="20.8" height="8" fill="#5d4f4a"/>
<rect x="395.4" y="123.3" width="20.8" height="8" fill="#5d4f4a"/>
<rect x="395.4" y="3.4" width="20.8" height="8" fill="#5d4f4a"/>
<polyline points="393,550.2 436.8,594.1" fill="none" stroke="#c4c4c4" stroke-width="0.9"/>
<path d="M394.0 26.5h7.0M397.5 23.0v7.0" stroke="#f0a000" stroke-width="1" fill="none" shape-rendering="crispEdges"/>
<circle cx="422.5" cy="24.5" r="4.0" fill="none" stroke="#f0a000" stroke-width="1.2"/><path d="M420.0 24.5h5.0" stroke="#f0a000" stroke-width="1" fill="none" shape-rendering="crispEdges"/>
<circle cx="446.5" cy="41.5" r="4.0" fill="none" stroke="#e46410" stroke-width="1.2"/><path d="M444.0 41.5h5.0" stroke="#e46410" stroke-width="1" fill="none" shape-rendering="crispEdges"/>
<circle cx="403.5" cy="44.5" r="4.0" fill="none" stroke="#f0a000" stroke-width="1.2"/><path d="M401.0 44.5h5.0" stroke="#f0a000" stroke-width="1" fill="none" shape-rendering="crispEdges"/>
<circle cx="406.5" cy="62.5" r="4.0" fill="none" stroke="#f0a000" stroke-width="1.2"/><path d="M404.0 62.5h5.0" stroke="#f0a000" stroke-width="1" fill="none" shape-rendering="crispEdges"/>
<circle cx="383.5" cy="70.5" r="4.0" fill="none" stroke="#f0a000" stroke-width="1.2"/><path d="M381.0 70.5h5.0M383.5 68.0v5.0" stroke="#f0a000" stroke-width="1" fill="none" shape-rendering="crispEdges"/>
<circle cx="395.5" cy="78.5" r="4.0" fill="none" stroke="#f0a000" stroke-width="1.2"/><path d="M393.0 78.5h5.0" stroke="#f0a000" stroke-width="1" fill="none" shape-rendering="crispEdges"/>
<circle cx="406.5" cy="75.5" r="4.0" fill="none" stroke="#f0a000" stroke-width="1.2"/><path d="M404.0 75.5h5.0" stroke="#f0a000" stroke-width="1" fill="none" shape-rendering="crispEdges"/>
<circle cx="401.5" cy="78.5" r="4.0" fill="none" stroke="#f0a000" stroke-width="1.2"/><path d="M399.0 78.5h5.0M401.5 76.0v5.0" stroke="#f0a000" stroke-width="1" fill="none" shape-rendering="crispEdges"/>
<circle cx="436.5" cy="66.5" r="4.0" fill="none" stroke="#f0a000" stroke-width="1.2"/><path d="M434.0 66.5h5.0" stroke="#f0a000" stroke-width="1" fill="none" shape-rendering="crispEdges"/>
<circle cx="448.5" cy="75.5" r="4.0" fill="none" stroke="#f8c400" stroke-width="1.2"/><path d="M446.0 75.5h5.0" stroke="#f8c400" stroke-width="1" fill="none" shape-rendering="crispEdges"/>
<circle cx="463.5" cy="86.5" r="4.0" fill="none" stroke="#f8c400" stroke-width="1.2"/><path d="M461.0 86.5h5.0" stroke="#f8c400" stroke-width="1" fill="none" shape-rendering="crispEdges"/>
<circle cx="433.5" cy="95.5" r="4.0" fill="none" stroke="#f0a000" stroke-width="1.2"/><path d="M431.0 95.5h5.0" stroke="#f0a000" stroke-width="1" fill="none" shape-rendering="crispEdges"/>
<path d="M383.0 105.5h7.0M386.5 102.0v7.0" stroke="#f0a000" stroke-width="1" fill="none" shape-rendering="crispEdges"/>
<circle cx="406.5" cy="128.5" r="4.0" fill="none" stroke="#e46410" stroke-width="1.2"/><path d="M404.0 128.5h5.0" stroke="#e46410" stroke-width="1" fill="none" shape-rendering="crispEdges"/>
<path d="M401.0 137.5h7.0M404.5 134.0v7.0" stroke="#f0a000" stroke-width="1" fill="none" shape-rendering="crispEdges"/>
<circle cx="516.5" cy="54.5" r="4.0" fill="none" stroke="#ffff00" stroke-width="1.2"/><path d="M514.0 54.5h5.0M516.5 52.0v5.0" stroke="#ffff00" stroke-width="1" fill="none" shape-rendering="crispEdges"/>
<circle cx="537.5" cy="46.5" r="4.0" fill="none" stroke="#f0a000" stroke-width="1.2"/><path d="M535.0 46.5h5.0" stroke="#f0a000" stroke-width="1" fill="none" shape-rendering="crispEdges"/>
<path d="M555.0 52.5h7.0M558.5 49.0v7.0" stroke="#ffff00" stroke-width="1" fill="none" shape-rendering="crispEdges"/>
<circle cx="598.5" cy="45.5" r="4.0" fill="none" stroke="#f0a000" stroke-width="1.2"/><path d="M596.0 45.5h5.0" stroke="#f0a000" stroke-width="1" fill="none" shape-rendering="crispEdges"/>
<path d="M613.0 34.5h7.0M616.5 31.0v7.0" stroke="#f0a000" stroke-width="1" fill="none" shape-rendering="crispEdges"/>
<circle cx="657.5" cy="27.5" r="4.0" fill="none" stroke="#e46410" stroke-width="1.2"/><path d="M655.0 27.5h5.0" stroke="#e46410" stroke-width="1" fill="none" shape-rendering="crispEdges"/>
<circle cx="551.5" cy="70.5" r="4.0" fill="none" stroke="#f0a000" stroke-width="1.2"/><path d="M549.0 70.5h5.0" stroke="#f0a000" stroke-width="1" fill="none" shape-rendering="crispEdges"/>
<circle cx="569.5" cy="64.5" r="4.0" fill="none" stroke="#f0a000" stroke-width="1.2"/><path d="M567.0 64.5h5.0" stroke="#f0a000" stroke-width="1" fill="none" shape-rendering="crispEdges"/>
<circle cx="568.5" cy="69.5" r="4.0" fill="none" stroke="#f0a000" stroke-width="1.2"/><path d="M566.0 69.5h5.0" stroke="#f0a000" stroke-width="1" fill="none" shape-rendering="crispEdges"/>
<circle cx="582.5" cy="65.5" r="4.0" fill="none" stroke="#f0a000" stroke-width="1.2"/><path d="M580.0 65.5h5.0" stroke="#f0a000" stroke-width="1" fill="none" shape-rendering="crispEdges"/>
<circle cx="580.5" cy="69.5" r="4.0" fill="none" stroke="#f0a000" stroke-width="1.2"/><path d="M578.0 69.5h5.0" stroke="#f0a000" stroke-width="1" fill="none" shape-rendering="crispEdges"/>
<circle cx="619.5" cy="72.5" r="4.0" fill="none" stroke="#f0a000" stroke-width="1.2"/><path d="M617.0 72.5h5.0M619.5 70.0v5.0" stroke="#f0a000" stroke-width="1" fill="none" shape-rendering="crispEdges"/>
<path d="M541.0 90.5h7.0M544.5 87.0v7.0" stroke="#f8c400" stroke-width="1" fill="none" shape-rendering="crispEdges"/>
<circle cx="571.5" cy="87.5" r="4.0" fill="none" stroke="#00e8e8" stroke-width="1.2"/><path d="M569.0 87.5h5.0M571.5 85.0v5.0" stroke="#00e8e8" stroke-width="1" fill="none" shape-rendering="crispEdges"/>
<circle cx="750.5" cy="65.5" r="4.0" fill="none" stroke="#f8c400" stroke-width="1.2"/><path d="M748.0 65.5h5.0" stroke="#f8c400" stroke-width="1" fill="none" shape-rendering="crispEdges"/>
<circle cx="518.5" cy="121.5" r="4.0" fill="none" stroke="#e46410" stroke-width="1.2"/><path d="M516.0 121.5h5.0" stroke="#e46410" stroke-width="1" fill="none" shape-rendering="crispEdges"/>
<circle cx="569.5" cy="118.5" r="4.0" fill="none" stroke="#f8c400" stroke-width="1.2"/><path d="M567.0 118.5h5.0" stroke="#f8c400" stroke-width="1" fill="none" shape-rendering="crispEdges"/>
<path d="M587.0 115.5h7.0" stroke="#f0a000" stroke-width="1" fill="none" shape-rendering="crispEdges"/>
<circle cx="429.5" cy="137.5" r="4.0" fill="none" stroke="#ffff00" stroke-width="1.2"/><path d="M427.0 137.5h5.0" stroke="#ffff00" stroke-width="1" fill="none" shape-rendering="crispEdges"/>
<circle cx="435.5" cy="141.5" r="4.0" fill="none" stroke="#ffff00" stroke-width="1.2"/><path d="M433.0 141.5h5.0" stroke="#ffff00" stroke-width="1" fill="none" shape-rendering="crispEdges"/>
<circle cx="449.5" cy="146.5" r="4.0" fill="none" stroke="#ffff00" stroke-width="1.2"/><path d="M447.0 146.5h5.0" stroke="#ffff00" stroke-width="1" fill="none" shape-rendering="crispEdges"/>
<circle cx="455.5" cy="152.5" r="4.0" fill="none" stroke="#f8c400" stroke-width="1.2"/><path d="M453.0 152.5h5.0" stroke="#f8c400" stroke-width="1" fill="none" shape-rendering="crispEdges"/>
<circle cx="409.5" cy="147.5" r="4.0" fill="none" stroke="#f0a000" stroke-width="1.2"/><path d="M407.0 147.5h5.0" stroke="#f0a000" stroke-width="1" fill="none" shape-rendering="crispEdges"/>
<circle cx="411.5" cy="151.5" r="4.0" fill="none" stroke="#f0a000" stroke-width="1.2"/><path d="M409.0 151.5h5.0" stroke="#f0a000" stroke-width="1" fill="none" shape-rendering="crispEdges"/>
<circle cx="401.5" cy="151.5" r="4.0" fill="none" stroke="#f0a000" stroke-width="1.2"/><path d="M399.0 151.5h5.0" stroke="#f0a000" stroke-width="1" fill="none" shape-rendering="crispEdges"/>
<circle cx="427.5" cy="170.5" r="4.0" fill="none" stroke="#ffff00" stroke-width="1.2"/><path d="M425.0 170.5h5.0M427.5 168.0v5.0" stroke="#ffff00" stroke-width="1" fill="none" shape-rendering="crispEdges"/>
<circle cx="403.5" cy="173.5" r="4.0" fill="none" stroke="#f0a000" stroke-width="1.2"/><path d="M401.0 173.5h5.0" stroke="#f0a000" stroke-width="1" fill="none" shape-rendering="crispEdges"/>
<path d="M397.0 201.5h7.0M400.5 198.0v7.0" stroke="#f0a000" stroke-width="1" fill="none" shape-rendering="crispEdges"/>
<circle cx="414.5" cy="210.5" r="4.0" fill="none" stroke="#e46410" stroke-width="1.2"/><path d="M412.0 210.5h5.0" stroke="#e46410" stroke-width="1" fill="none" shape-rendering="crispEdges"/>
<circle cx="417.5" cy="214.5" r="4.0" fill="none" stroke="#e46410" stroke-width="1.2"/><path d="M415.0 214.5h5.0" stroke="#e46410" stroke-width="1" fill="none" shape-rendering="crispEdges"/>
<circle cx="405.5" cy="218.5" r="4.0" fill="none" stroke="#ffff00" stroke-width="1.2"/><path d="M403.0 218.5h5.0" stroke="#ffff00" stroke-width="1" fill="none" shape-rendering="crispEdges"/>
<circle cx="442.5" cy="215.5" r="4.0" fill="none" stroke="#f8c400" stroke-width="1.2"/><path d="M440.0 215.5h5.0M442.5 213.0v5.0" stroke="#f8c400" stroke-width="1" fill="none" shape-rendering="crispEdges"/>
<circle cx="476.5" cy="229.5" r="4.0" fill="none" stroke="#ffff00" stroke-width="1.2"/><path d="M474.0 229.5h5.0M476.5 227.0v5.0" stroke="#ffff00" stroke-width="1" fill="none" shape-rendering="crispEdges"/>
<path d="M507.0 220.5h7.0M510.5 217.0v7.0" stroke="#f0a000" stroke-width="1" fill="none" shape-rendering="crispEdges"/>
<circle cx="529.5" cy="222.5" r="4.0" fill="none" stroke="#ffff00" stroke-width="1.2"/><path d="M527.0 222.5h5.0" stroke="#ffff00" stroke-width="1" fill="none" shape-rendering="crispEdges"/>
<circle cx="550.5" cy="176.5" r="4.0" fill="none" stroke="#ffff00" stroke-width="1.2"/><path d="M548.0 176.5h5.0" stroke="#ffff00" stroke-width="1" fill="none" shape-rendering="crispEdges"/>
<circle cx="525.5" cy="187.5" r="4.0" fill="none" stroke="#ffff00" stroke-width="1.2"/><path d="M523.0 187.5h5.0" stroke="#ffff00" stroke-width="1" fill="none" shape-rendering="crispEdges"/>
<path d="M424.0 243.5h7.0M427.5 240.0v7.0" stroke="#ffff00" stroke-width="1" fill="none" shape-rendering="crispEdges"/>
<circle cx="454.5" cy="245.5" r="4.0" fill="none" stroke="#f8c400" stroke-width="1.2"/><path d="M452.0 245.5h5.0M454.5 243.0v5.0" stroke="#f8c400" stroke-width="1" fill="none" shape-rendering="crispEdges"/>
<circle cx="427.5" cy="270.5" r="4.0" fill="none" stroke="#ffff00" stroke-width="1.2"/><path d="M425.0 270.5h5.0" stroke="#ffff00" stroke-width="1" fill="none" shape-rendering="crispEdges"/>
<circle cx="414.5" cy="278.5" r="4.0" fill="none" stroke="#f0a000" stroke-width="1.2"/><path d="M412.0 278.5h5.0" stroke="#f0a000" stroke-width="1" fill="none" shape-rendering="crispEdges"/>
<circle cx="425.5" cy="281.5" r="4.0" fill="none" stroke="#ffff00" stroke-width="1.2"/><path d="M423.0 281.5h5.0" stroke="#ffff00" stroke-width="1" fill="none" shape-rendering="crispEdges"/>
<circle cx="698.5" cy="242.5" r="4.0" fill="none" stroke="#ffff00" stroke-width="1.2"/><path d="M696.0 242.5h5.0M698.5 240.0v5.0" stroke="#ffff00" stroke-width="1" fill="none" shape-rendering="crispEdges"/>
<circle cx="697.5" cy="250.5" r="4.0" fill="none" stroke="#ffff00" stroke-width="1.2"/><path d="M695.0 250.5h5.0M697.5 248.0v5.0" stroke="#ffff00" stroke-width="1" fill="none" shape-rendering="crispEdges"/>
<path d="M749.0 294.5h7.0M752.5 291.0v7.0" stroke="#ffff00" stroke-width="1" fill="none" shape-rendering="crispEdges"/>
<path d="M24.0 65.5h7.0M27.5 62.0v7.0" stroke="#f0a000" stroke-width="1" fill="none" shape-rendering="crispEdges"/>
<circle cx="158.5" cy="94.5" r="4.0" fill="none" stroke="#ffff00" stroke-width="1.2"/><path d="M156.0 94.5h5.0" stroke="#ffff00" stroke-width="1" fill="none" shape-rendering="crispEdges"/>
<circle cx="10.5" cy="164.5" r="4.0" fill="none" stroke="#f0a000" stroke-width="1.2"/><path d="M8.0 164.5h5.0" stroke="#f0a000" stroke-width="1" fill="none" shape-rendering="crispEdges"/>
<circle cx="16.5" cy="195.5" r="4.0" fill="none" stroke="#f0a000" stroke-width="1.2"/><path d="M14.0 195.5h5.0" stroke="#f0a000" stroke-width="1" fill="none" shape-rendering="crispEdges"/>
<circle cx="21.5" cy="238.5" r="4.0" fill="none" stroke="#f0a000" stroke-width="1.2"/><path d="M19.0 238.5h5.0" stroke="#f0a000" stroke-width="1" fill="none" shape-rendering="crispEdges"/>
<circle cx="345.5" cy="126.5" r="4.0" fill="none" stroke="#f8c400" stroke-width="1.2"/><path d="M343.0 126.5h5.0" stroke="#f8c400" stroke-width="1" fill="none" shape-rendering="crispEdges"/>
<circle cx="380.5" cy="150.5" r="4.0" fill="none" stroke="#f8c400" stroke-width="1.2"/><path d="M378.0 150.5h5.0M380.5 148.0v5.0" stroke="#f8c400" stroke-width="1" fill="none" shape-rendering="crispEdges"/>
<circle cx="393.5" cy="157.5" r="4.0" fill="none" stroke="#f0a000" stroke-width="1.2"/><path d="M391.0 157.5h5.0M393.5 155.0v5.0" stroke="#f0a000" stroke-width="1" fill="none" shape-rendering="crispEdges"/>
<circle cx="396.5" cy="158.5" r="4.0" fill="none" stroke="#f0a000" stroke-width="1.2"/><path d="M394.0 158.5h5.0M396.5 156.0v5.0" stroke="#f0a000" stroke-width="1" fill="none" shape-rendering="crispEdges"/>
<circle cx="400.5" cy="152.5" r="4.0" fill="none" stroke="#f0a000" stroke-width="1.2"/><path d="M398.0 152.5h5.0" stroke="#f0a000" stroke-width="1" fill="none" shape-rendering="crispEdges"/>
<circle cx="394.5" cy="190.5" r="4.0" fill="none" stroke="#f0a000" stroke-width="1.2"/><path d="M392.0 190.5h5.0" stroke="#f0a000" stroke-width="1" fill="none" shape-rendering="crispEdges"/>
<circle cx="401.5" cy="226.5" r="4.0" fill="none" stroke="#f0a000" stroke-width="1.2"/><path d="M399.0 226.5h5.0" stroke="#f0a000" stroke-width="1" fill="none" shape-rendering="crispEdges"/>
<circle cx="398.5" cy="235.5" r="4.0" fill="none" stroke="#f0a000" stroke-width="1.2"/><path d="M396.0 235.5h5.0" stroke="#f0a000" stroke-width="1" fill="none" shape-rendering="crispEdges"/>
<path d="M428.0 333.5h7.0M431.5 330.0v7.0" stroke="#f0a000" stroke-width="1" fill="none" shape-rendering="crispEdges"/>
<circle cx="692.5" cy="329.5" r="4.0" fill="none" stroke="#ffff00" stroke-width="1.2"/><path d="M690.0 329.5h5.0" stroke="#ffff00" stroke-width="1" fill="none" shape-rendering="crispEdges"/>
<circle cx="780.5" cy="336.5" r="4.0" fill="none" stroke="#ffff00" stroke-width="1.2"/><path d="M778.0 336.5h5.0" stroke="#ffff00" stroke-width="1" fill="none" shape-rendering="crispEdges"/>
<circle cx="483.5" cy="488.5" r="4.0" fill="none" stroke="#f8c400" stroke-width="1.2"/><path d="M481.0 488.5h5.0" stroke="#f8c400" stroke-width="1" fill="none" shape-rendering="crispEdges"/>
<circle cx="435.5" cy="502.5" r="4.0" fill="none" stroke="#f0a000" stroke-width="1.2"/><path d="M433.0 502.5h5.0" stroke="#f0a000" stroke-width="1" fill="none" shape-rendering="crispEdges"/>
<circle cx="510.5" cy="513.5" r="4.0" fill="none" stroke="#f8c400" stroke-width="1.2"/><path d="M508.0 513.5h5.0" stroke="#f8c400" stroke-width="1" fill="none" shape-rendering="crispEdges"/>
<circle cx="595.5" cy="534.5" r="4.0" fill="none" stroke="#ffff00" stroke-width="1.2"/><path d="M593.0 534.5h5.0" stroke="#ffff00" stroke-width="1" fill="none" shape-rendering="crispEdges"/>
<circle cx="441.5" cy="532.5" r="4.0" fill="none" stroke="#f0a000" stroke-width="1.2"/><path d="M439.0 532.5h5.0M441.5 530.0v5.0" stroke="#f0a000" stroke-width="1" fill="none" shape-rendering="crispEdges"/>
<circle cx="38.5" cy="346.5" r="4.0" fill="none" stroke="#f8c400" stroke-width="1.2"/><path d="M36.0 346.5h5.0M38.5 344.0v5.0" stroke="#f8c400" stroke-width="1" fill="none" shape-rendering="crispEdges"/>
<circle cx="38.5" cy="610.5" r="4.0" fill="none" stroke="#f8c400" stroke-width="1.2"/><path d="M36.0 610.5h5.0M38.5 608.0v5.0" stroke="#f8c400" stroke-width="1" fill="none" shape-rendering="crispEdges"/>
<circle cx="137.5" cy="631.5" r="4.0" fill="none" stroke="#e46410" stroke-width="1.2"/><path d="M135.0 631.5h5.0" stroke="#e46410" stroke-width="1" fill="none" shape-rendering="crispEdges"/>
<circle cx="139.5" cy="642.5" r="4.0" fill="none" stroke="#ffff00" stroke-width="1.2"/><path d="M137.0 642.5h5.0M139.5 640.0v5.0" stroke="#ffff00" stroke-width="1" fill="none" shape-rendering="crispEdges"/>
<circle cx="139.5" cy="677.5" r="4.0" fill="none" stroke="#f8c400" stroke-width="1.2"/><path d="M137.0 677.5h5.0" stroke="#f8c400" stroke-width="1" fill="none" shape-rendering="crispEdges"/>
<circle cx="62.5" cy="681.5" r="4.0" fill="none" stroke="#f8c400" stroke-width="1.2"/><path d="M60.0 681.5h5.0M62.5 679.0v5.0" stroke="#f8c400" stroke-width="1" fill="none" shape-rendering="crispEdges"/>
<circle cx="76.5" cy="678.5" r="4.0" fill="none" stroke="#e46410" stroke-width="1.2"/><path d="M74.0 678.5h5.0M76.5 676.0v5.0" stroke="#e46410" stroke-width="1" fill="none" shape-rendering="crispEdges"/>
<circle cx="15.5" cy="727.5" r="4.0" fill="none" stroke="#f0a000" stroke-width="1.2"/><path d="M13.0 727.5h5.0" stroke="#f0a000" stroke-width="1" fill="none" shape-rendering="crispEdges"/>
<circle cx="259.5" cy="653.5" r="4.0" fill="none" stroke="#ffff00" stroke-width="1.2"/><path d="M257.0 653.5h5.0" stroke="#ffff00" stroke-width="1" fill="none" shape-rendering="crispEdges"/>
<circle cx="202.5" cy="728.5" r="4.0" fill="none" stroke="#ffff00" stroke-width="1.2"/><path d="M200.0 728.5h5.0" stroke="#ffff00" stroke-width="1" fill="none" shape-rendering="crispEdges"/>
<circle cx="213.5" cy="744.5" r="4.0" fill="none" stroke="#ffff00" stroke-width="1.2"/><path d="M211.0 744.5h5.0" stroke="#ffff00" stroke-width="1" fill="none" shape-rendering="crispEdges"/>
<circle cx="155.5" cy="748.5" r="4.0" fill="none" stroke="#f8c400" stroke-width="1.2"/><path d="M153.0 748.5h5.0" stroke="#f8c400" stroke-width="1" fill="none" shape-rendering="crispEdges"/>
<circle cx="114.5" cy="755.5" r="4.0" fill="none" stroke="#f8c400" stroke-width="1.2"/><path d="M112.0 755.5h5.0" stroke="#f8c400" stroke-width="1" fill="none" shape-rendering="crispEdges"/>
<circle cx="171.5" cy="757.5" r="4.0" fill="none" stroke="#ffff00" stroke-width="1.2"/><path d="M169.0 757.5h5.0" stroke="#ffff00" stroke-width="1" fill="none" shape-rendering="crispEdges"/>
<circle cx="687.5" cy="582.5" r="4.0" fill="none" stroke="#ffff00" stroke-width="1.2"/><path d="M685.0 582.5h5.0" stroke="#ffff00" stroke-width="1" fill="none" shape-rendering="crispEdges"/>
<circle cx="712.5" cy="604.5" r="4.0" fill="none" stroke="#ffff00" stroke-width="1.2"/><path d="M710.0 604.5h5.0" stroke="#ffff00" stroke-width="1" fill="none" shape-rendering="crispEdges"/>
<circle cx="583.5" cy="606.5" r="4.0" fill="none" stroke="#ffff00" stroke-width="1.2"/><path d="M581.0 606.5h5.0M583.5 604.0v5.0" stroke="#ffff00" stroke-width="1" fill="none" shape-rendering="crispEdges"/>
<circle cx="591.5" cy="622.5" r="4.0" fill="none" stroke="#ffff00" stroke-width="1.2"/><path d="M589.0 622.5h5.0" stroke="#ffff00" stroke-width="1" fill="none" shape-rendering="crispEdges"/>
<circle cx="656.5" cy="624.5" r="4.0" fill="none" stroke="#ffff00" stroke-width="1.2"/><path d="M654.0 624.5h5.0" stroke="#ffff00" stroke-width="1" fill="none" shape-rendering="crispEdges"/>
<circle cx="691.5" cy="629.5" r="4.0" fill="none" stroke="#ffff00" stroke-width="1.2"/><path d="M689.0 629.5h5.0M691.5 627.0v5.0" stroke="#ffff00" stroke-width="1" fill="none" shape-rendering="crispEdges"/>
<circle cx="724.5" cy="641.5" r="4.0" fill="none" stroke="#ffff00" stroke-width="1.2"/><path d="M722.0 641.5h5.0" stroke="#ffff00" stroke-width="1" fill="none" shape-rendering="crispEdges"/>
<circle cx="623.5" cy="653.5" r="4.0" fill="none" stroke="#ffff00" stroke-width="1.2"/><path d="M621.0 653.5h5.0M623.5 651.0v5.0" stroke="#ffff00" stroke-width="1" fill="none" shape-rendering="crispEdges"/>
<circle cx="780.5" cy="653.5" r="4.0" fill="none" stroke="#ffff00" stroke-width="1.2"/><path d="M778.0 653.5h5.0" stroke="#ffff00" stroke-width="1" fill="none" shape-rendering="crispEdges"/>
<circle cx="654.5" cy="684.5" r="4.0" fill="none" stroke="#ffff00" stroke-width="1.2"/><path d="M652.0 684.5h5.0" stroke="#ffff00" stroke-width="1" fill="none" shape-rendering="crispEdges"/>
<circle cx="654.5" cy="696.5" r="4.0" fill="none" stroke="#ffff00" stroke-width="1.2"/><path d="M652.0 696.5h5.0" stroke="#ffff00" stroke-width="1" fill="none" shape-rendering="crispEdges"/>
<circle cx="631.5" cy="701.5" r="4.0" fill="none" stroke="#ffff00" stroke-width="1.2"/><path d="M629.0 701.5h5.0" stroke="#ffff00" stroke-width="1" fill="none" shape-rendering="crispEdges"/>
<circle cx="536.5" cy="767.5" r="4.0" fill="none" stroke="#e46410" stroke-width="1.2"/><path d="M534.0 767.5h5.0" stroke="#e46410" stroke-width="1" fill="none" shape-rendering="crispEdges"/>
<circle cx="437.5" cy="623.5" r="4.0" fill="none" stroke="#f0a000" stroke-width="1.2"/><path d="M435.0 623.5h5.0" stroke="#f0a000" stroke-width="1" fill="none" shape-rendering="crispEdges"/>
<circle cx="467.5" cy="626.5" r="4.0" fill="none" stroke="#f8c400" stroke-width="1.2"/><path d="M465.0 626.5h5.0" stroke="#f8c400" stroke-width="1" fill="none" shape-rendering="crispEdges"/>
<path d="M441.0 628.5h7.0M444.5 625.0v7.0" stroke="#f0a000" stroke-width="1" fill="none" shape-rendering="crispEdges"/>
<path d="M442.0 632.5h7.0M445.5 629.0v7.0" stroke="#f0a000" stroke-width="1" fill="none" shape-rendering="crispEdges"/>
<circle cx="438.5" cy="640.5" r="4.0" fill="none" stroke="#ffff00" stroke-width="1.2"/><path d="M436.0 640.5h5.0" stroke="#ffff00" stroke-width="1" fill="none" shape-rendering="crispEdges"/>
<circle cx="449.5" cy="642.5" r="4.0" fill="none" stroke="#f0a000" stroke-width="1.2"/><path d="M447.0 642.5h5.0" stroke="#f0a000" stroke-width="1" fill="none" shape-rendering="crispEdges"/>
<circle cx="448.5" cy="651.5" r="4.0" fill="none" stroke="#f0a000" stroke-width="1.2"/><path d="M446.0 651.5h5.0" stroke="#f0a000" stroke-width="1" fill="none" shape-rendering="crispEdges"/>
<circle cx="448.5" cy="657.5" r="4.0" fill="none" stroke="#f0a000" stroke-width="1.2"/><path d="M446.0 657.5h5.0" stroke="#f0a000" stroke-width="1" fill="none" shape-rendering="crispEdges"/>
<circle cx="462.5" cy="660.5" r="4.0" fill="none" stroke="#ffff00" stroke-width="1.2"/><path d="M460.0 660.5h5.0M462.5 658.0v5.0" stroke="#ffff00" stroke-width="1" fill="none" shape-rendering="crispEdges"/>
<path d="M433.0 664.5h7.0M436.5 661.0v7.0" stroke="#ffff00" stroke-width="1" fill="none" shape-rendering="crispEdges"/>
<path d="M445.0 670.5h7.0M448.5 667.0v7.0" stroke="#ffff00" stroke-width="1" fill="none" shape-rendering="crispEdges"/>
<circle cx="418.5" cy="670.5" r="4.0" fill="none" stroke="#ffff00" stroke-width="1.2"/><path d="M416.0 670.5h5.0" stroke="#ffff00" stroke-width="1" fill="none" shape-rendering="crispEdges"/>
<circle cx="478.5" cy="645.5" r="4.0" fill="none" stroke="#ffff00" stroke-width="1.2"/><path d="M476.0 645.5h5.0M478.5 643.0v5.0" stroke="#ffff00" stroke-width="1" fill="none" shape-rendering="crispEdges"/>
<circle cx="471.5" cy="650.5" r="4.0" fill="none" stroke="#f8c400" stroke-width="1.2"/><path d="M469.0 650.5h5.0" stroke="#f8c400" stroke-width="1" fill="none" shape-rendering="crispEdges"/>
<circle cx="487.5" cy="650.5" r="4.0" fill="none" stroke="#f8c400" stroke-width="1.2"/><path d="M485.0 650.5h5.0" stroke="#f8c400" stroke-width="1" fill="none" shape-rendering="crispEdges"/>
<circle cx="476.5" cy="655.5" r="4.0" fill="none" stroke="#f0a000" stroke-width="1.2"/><path d="M474.0 655.5h5.0" stroke="#f0a000" stroke-width="1" fill="none" shape-rendering="crispEdges"/>
<circle cx="502.5" cy="646.5" r="4.0" fill="none" stroke="#f8c400" stroke-width="1.2"/><path d="M500.0 646.5h5.0" stroke="#f8c400" stroke-width="1" fill="none" shape-rendering="crispEdges"/>
<circle cx="500.5" cy="654.5" r="4.0" fill="none" stroke="#f8c400" stroke-width="1.2"/><path d="M498.0 654.5h5.0" stroke="#f8c400" stroke-width="1" fill="none" shape-rendering="crispEdges"/>
<circle cx="517.5" cy="655.5" r="4.0" fill="none" stroke="#f0a000" stroke-width="1.2"/><path d="M515.0 655.5h5.0M517.5 653.0v5.0" stroke="#f0a000" stroke-width="1" fill="none" shape-rendering="crispEdges"/>
<circle cx="483.5" cy="664.5" r="4.0" fill="none" stroke="#f8c400" stroke-width="1.2"/><path d="M481.0 664.5h5.0M483.5 662.0v5.0" stroke="#f8c400" stroke-width="1" fill="none" shape-rendering="crispEdges"/>
<circle cx="478.5" cy="668.5" r="4.0" fill="none" stroke="#f0a000" stroke-width="1.2"/><path d="M476.0 668.5h5.0" stroke="#f0a000" stroke-width="1" fill="none" shape-rendering="crispEdges"/>
<circle cx="490.5" cy="671.5" r="4.0" fill="none" stroke="#f8c400" stroke-width="1.2"/><path d="M488.0 671.5h5.0M490.5 669.0v5.0" stroke="#f8c400" stroke-width="1" fill="none" shape-rendering="crispEdges"/>
<circle cx="488.5" cy="679.5" r="4.0" fill="none" stroke="#ffff00" stroke-width="1.2"/><path d="M486.0 679.5h5.0" stroke="#ffff00" stroke-width="1" fill="none" shape-rendering="crispEdges"/>
<circle cx="495.5" cy="679.5" r="4.0" fill="none" stroke="#e46410" stroke-width="1.2"/><path d="M493.0 679.5h5.0M495.5 677.0v5.0" stroke="#e46410" stroke-width="1" fill="none" shape-rendering="crispEdges"/>
<circle cx="496.5" cy="688.5" r="4.0" fill="none" stroke="#f8c400" stroke-width="1.2"/><path d="M494.0 688.5h5.0" stroke="#f8c400" stroke-width="1" fill="none" shape-rendering="crispEdges"/>
<circle cx="526.5" cy="686.5" r="4.0" fill="none" stroke="#f0a000" stroke-width="1.2"/><path d="M524.0 686.5h5.0" stroke="#f0a000" stroke-width="1" fill="none" shape-rendering="crispEdges"/>
<circle cx="518.5" cy="696.5" r="4.0" fill="none" stroke="#f0a000" stroke-width="1.2"/><path d="M516.0 696.5h5.0M518.5 694.0v5.0" stroke="#f0a000" stroke-width="1" fill="none" shape-rendering="crispEdges"/>
<circle cx="480.5" cy="687.5" r="4.0" fill="none" stroke="#ffff00" stroke-width="1.2"/><path d="M478.0 687.5h5.0M480.5 685.0v5.0" stroke="#ffff00" stroke-width="1" fill="none" shape-rendering="crispEdges"/>
<circle cx="473.5" cy="687.5" r="4.0" fill="none" stroke="#f8c400" stroke-width="1.2"/><path d="M471.0 687.5h5.0" stroke="#f8c400" stroke-width="1" fill="none" shape-rendering="crispEdges"/>
<circle cx="461.5" cy="692.5" r="4.0" fill="none" stroke="#f0a000" stroke-width="1.2"/><path d="M459.0 692.5h5.0M461.5 690.0v5.0" stroke="#f0a000" stroke-width="1" fill="none" shape-rendering="crispEdges"/>
<circle cx="459.5" cy="694.5" r="4.0" fill="none" stroke="#f8c400" stroke-width="1.2"/><path d="M457.0 694.5h5.0" stroke="#f8c400" stroke-width="1" fill="none" shape-rendering="crispEdges"/>
<circle cx="467.5" cy="693.5" r="4.0" fill="none" stroke="#f8c400" stroke-width="1.2"/><path d="M465.0 693.5h5.0" stroke="#f8c400" stroke-width="1" fill="none" shape-rendering="crispEdges"/>
<circle cx="468.5" cy="699.5" r="4.0" fill="none" stroke="#ffff00" stroke-width="1.2"/><path d="M466.0 699.5h5.0M468.5 697.0v5.0" stroke="#ffff00" stroke-width="1" fill="none" shape-rendering="crispEdges"/>
<circle cx="443.5" cy="690.5" r="4.0" fill="none" stroke="#f8c400" stroke-width="1.2"/><path d="M441.0 690.5h5.0" stroke="#f8c400" stroke-width="1" fill="none" shape-rendering="crispEdges"/>
<circle cx="445.5" cy="692.5" r="4.0" fill="none" stroke="#f8c400" stroke-width="1.2"/><path d="M443.0 692.5h5.0" stroke="#f8c400" stroke-width="1" fill="none" shape-rendering="crispEdges"/>
<circle cx="439.5" cy="704.5" r="4.0" fill="none" stroke="#f8c400" stroke-width="1.2"/><path d="M437.0 704.5h5.0" stroke="#f8c400" stroke-width="1" fill="none" shape-rendering="crispEdges"/>
<circle cx="467.5" cy="711.5" r="4.0" fill="none" stroke="#ffff00" stroke-width="1.2"/><path d="M465.0 711.5h5.0M467.5 709.0v5.0" stroke="#ffff00" stroke-width="1" fill="none" shape-rendering="crispEdges"/>
<circle cx="478.5" cy="711.5" r="4.0" fill="none" stroke="#f0a000" stroke-width="1.2"/><path d="M476.0 711.5h5.0M478.5 709.0v5.0" stroke="#f0a000" stroke-width="1" fill="none" shape-rendering="crispEdges"/>
<circle cx="481.5" cy="712.5" r="4.0" fill="none" stroke="#ffff00" stroke-width="1.2"/><path d="M479.0 712.5h5.0M481.5 710.0v5.0" stroke="#ffff00" stroke-width="1" fill="none" shape-rendering="crispEdges"/>
<circle cx="488.5" cy="705.5" r="4.0" fill="none" stroke="#ffff00" stroke-width="1.2"/><path d="M486.0 705.5h5.0M488.5 703.0v5.0" stroke="#ffff00" stroke-width="1" fill="none" shape-rendering="crispEdges"/>
<circle cx="494.5" cy="711.5" r="4.0" fill="none" stroke="#ffff00" stroke-width="1.2"/><path d="M492.0 711.5h5.0" stroke="#ffff00" stroke-width="1" fill="none" shape-rendering="crispEdges"/>
<circle cx="445.5" cy="731.5" r="4.0" fill="none" stroke="#f0a000" stroke-width="1.2"/><path d="M443.0 731.5h5.0" stroke="#f0a000" stroke-width="1" fill="none" shape-rendering="crispEdges"/>
<circle cx="442.5" cy="738.5" r="4.0" fill="none" stroke="#f0a000" stroke-width="1.2"/><path d="M440.0 738.5h5.0" stroke="#f0a000" stroke-width="1" fill="none" shape-rendering="crispEdges"/>
<path d="M456.0 736.5h7.0" stroke="#ffff00" stroke-width="1" fill="none" shape-rendering="crispEdges"/>
<circle cx="471.5" cy="752.5" r="4.0" fill="none" stroke="#f0a000" stroke-width="1.2"/><path d="M469.0 752.5h5.0" stroke="#f0a000" stroke-width="1" fill="none" shape-rendering="crispEdges"/>
<circle cx="434.5" cy="757.5" r="4.0" fill="none" stroke="#f0a000" stroke-width="1.2"/><path d="M432.0 757.5h5.0" stroke="#f0a000" stroke-width="1" fill="none" shape-rendering="crispEdges"/>
<circle cx="457.5" cy="757.5" r="4.0" fill="none" stroke="#f0a000" stroke-width="1.2"/><path d="M455.0 757.5h5.0" stroke="#f0a000" stroke-width="1" fill="none" shape-rendering="crispEdges"/>
<circle cx="512.5" cy="754.5" r="4.0" fill="none" stroke="#f0a000" stroke-width="1.2"/><path d="M510.0 754.5h5.0" stroke="#f0a000" stroke-width="1" fill="none" shape-rendering="crispEdges"/>
<circle cx="455.5" cy="153.5" r="4.0" fill="none" stroke="#f8c400" stroke-width="1.2"/><path d="M453.0 153.5h5.0" stroke="#f8c400" stroke-width="1" fill="none" shape-rendering="crispEdges"/>
<circle cx="480.5" cy="166.5" r="4.0" fill="none" stroke="#f0a000" stroke-width="1.2"/><path d="M478.0 166.5h5.0" stroke="#f0a000" stroke-width="1" fill="none" shape-rendering="crispEdges"/>
<circle cx="482.5" cy="168.5" r="4.0" fill="none" stroke="#f0a000" stroke-width="1.2"/><path d="M480.0 168.5h5.0" stroke="#f0a000" stroke-width="1" fill="none" shape-rendering="crispEdges"/>
<circle cx="488.5" cy="163.5" r="4.0" fill="none" stroke="#f0a000" stroke-width="1.2"/><path d="M486.0 163.5h5.0M488.5 161.0v5.0" stroke="#f0a000" stroke-width="1" fill="none" shape-rendering="crispEdges"/>
<circle cx="490.5" cy="168.5" r="4.0" fill="none" stroke="#f0a000" stroke-width="1.2"/><path d="M488.0 168.5h5.0" stroke="#f0a000" stroke-width="1" fill="none" shape-rendering="crispEdges"/>
<circle cx="498.5" cy="165.5" r="4.0" fill="none" stroke="#f0a000" stroke-width="1.2"/><path d="M496.0 165.5h5.0" stroke="#f0a000" stroke-width="1" fill="none" shape-rendering="crispEdges"/>
<circle cx="491.5" cy="176.5" r="4.0" fill="none" stroke="#f0a000" stroke-width="1.2"/><path d="M489.0 176.5h5.0" stroke="#f0a000" stroke-width="1" fill="none" shape-rendering="crispEdges"/>
<circle cx="504.5" cy="177.5" r="4.0" fill="none" stroke="#f0a000" stroke-width="1.2"/><path d="M502.0 177.5h5.0M504.5 175.0v5.0" stroke="#f0a000" stroke-width="1" fill="none" shape-rendering="crispEdges"/>
<circle cx="515.5" cy="177.5" r="4.0" fill="none" stroke="#f0a000" stroke-width="1.2"/><path d="M513.0 177.5h5.0M515.5 175.0v5.0" stroke="#f0a000" stroke-width="1" fill="none" shape-rendering="crispEdges"/>
<circle cx="520.5" cy="177.5" r="4.0" fill="none" stroke="#f0a000" stroke-width="1.2"/><path d="M518.0 177.5h5.0M520.5 175.0v5.0" stroke="#f0a000" stroke-width="1" fill="none" shape-rendering="crispEdges"/>
<circle cx="519.5" cy="179.5" r="4.0" fill="none" stroke="#f0a000" stroke-width="1.2"/><path d="M517.0 179.5h5.0" stroke="#f0a000" stroke-width="1" fill="none" shape-rendering="crispEdges"/>
<circle cx="519.5" cy="172.5" r="4.0" fill="none" stroke="#ffff00" stroke-width="1.2"/><path d="M517.0 172.5h5.0M519.5 170.0v5.0" stroke="#ffff00" stroke-width="1" fill="none" shape-rendering="crispEdges"/>
<circle cx="525.5" cy="187.5" r="4.0" fill="none" stroke="#ffff00" stroke-width="1.2"/><path d="M523.0 187.5h5.0" stroke="#ffff00" stroke-width="1" fill="none" shape-rendering="crispEdges"/>
<circle cx="482.5" cy="182.5" r="4.0" fill="none" stroke="#f8c400" stroke-width="1.2"/><path d="M480.0 182.5h5.0M482.5 180.0v5.0" stroke="#f8c400" stroke-width="1" fill="none" shape-rendering="crispEdges"/>
<circle cx="490.5" cy="183.5" r="4.0" fill="none" stroke="#f0a000" stroke-width="1.2"/><path d="M488.0 183.5h5.0M490.5 181.0v5.0" stroke="#f0a000" stroke-width="1" fill="none" shape-rendering="crispEdges"/>
<circle cx="501.5" cy="186.5" r="4.0" fill="none" stroke="#f0a000" stroke-width="1.2"/><path d="M499.0 186.5h5.0M501.5 184.0v5.0" stroke="#f0a000" stroke-width="1" fill="none" shape-rendering="crispEdges"/>
<circle cx="473.5" cy="187.5" r="4.0" fill="none" stroke="#f8c400" stroke-width="1.2"/><path d="M471.0 187.5h5.0M473.5 185.0v5.0" stroke="#f8c400" stroke-width="1" fill="none" shape-rendering="crispEdges"/>
<circle cx="488.5" cy="190.5" r="4.0" fill="none" stroke="#f8c400" stroke-width="1.2"/><path d="M486.0 190.5h5.0" stroke="#f8c400" stroke-width="1" fill="none" shape-rendering="crispEdges"/>
<circle cx="497.5" cy="194.5" r="4.0" fill="none" stroke="#f0a000" stroke-width="1.2"/><path d="M495.0 194.5h5.0M497.5 192.0v5.0" stroke="#f0a000" stroke-width="1" fill="none" shape-rendering="crispEdges"/>
<circle cx="503.5" cy="197.5" r="4.0" fill="none" stroke="#f0a000" stroke-width="1.2"/><path d="M501.0 197.5h5.0M503.5 195.0v5.0" stroke="#f0a000" stroke-width="1" fill="none" shape-rendering="crispEdges"/>
<circle cx="508.5" cy="197.5" r="4.0" fill="none" stroke="#f0a000" stroke-width="1.2"/><path d="M506.0 197.5h5.0" stroke="#f0a000" stroke-width="1" fill="none" shape-rendering="crispEdges"/>
<circle cx="508.5" cy="202.5" r="4.0" fill="none" stroke="#f0a000" stroke-width="1.2"/><path d="M506.0 202.5h5.0M508.5 200.0v5.0" stroke="#f0a000" stroke-width="1" fill="none" shape-rendering="crispEdges"/>
<circle cx="473.5" cy="194.5" r="4.0" fill="none" stroke="#f0a000" stroke-width="1.2"/><path d="M471.0 194.5h5.0M473.5 192.0v5.0" stroke="#f0a000" stroke-width="1" fill="none" shape-rendering="crispEdges"/>
<circle cx="477.5" cy="195.5" r="4.0" fill="none" stroke="#f0a000" stroke-width="1.2"/><path d="M475.0 195.5h5.0" stroke="#f0a000" stroke-width="1" fill="none" shape-rendering="crispEdges"/>
<circle cx="470.5" cy="194.5" r="4.0" fill="none" stroke="#f0a000" stroke-width="1.2"/><path d="M468.0 194.5h5.0M470.5 192.0v5.0" stroke="#f0a000" stroke-width="1" fill="none" shape-rendering="crispEdges"/>
<circle cx="466.5" cy="200.5" r="4.0" fill="none" stroke="#f8c400" stroke-width="1.2"/><path d="M464.0 200.5h5.0" stroke="#f8c400" stroke-width="1" fill="none" shape-rendering="crispEdges"/>
<circle cx="471.5" cy="200.5" r="4.0" fill="none" stroke="#ffff00" stroke-width="1.2"/><path d="M469.0 200.5h5.0" stroke="#ffff00" stroke-width="1" fill="none" shape-rendering="crispEdges"/>
<circle cx="483.5" cy="198.5" r="4.0" fill="none" stroke="#f8c400" stroke-width="1.2"/><path d="M481.0 198.5h5.0" stroke="#f8c400" stroke-width="1" fill="none" shape-rendering="crispEdges"/>
<circle cx="488.5" cy="202.5" r="4.0" fill="none" stroke="#f8c400" stroke-width="1.2"/><path d="M486.0 202.5h5.0" stroke="#f8c400" stroke-width="1" fill="none" shape-rendering="crispEdges"/>
<circle cx="484.5" cy="205.5" r="4.0" fill="none" stroke="#f8c400" stroke-width="1.2"/><path d="M482.0 205.5h5.0M484.5 203.0v5.0" stroke="#f8c400" stroke-width="1" fill="none" shape-rendering="crispEdges"/>
<circle cx="483.5" cy="208.5" r="4.0" fill="none" stroke="#f8c400" stroke-width="1.2"/><path d="M481.0 208.5h5.0" stroke="#f8c400" stroke-width="1" fill="none" shape-rendering="crispEdges"/>
<circle cx="489.5" cy="212.5" r="4.0" fill="none" stroke="#f8c400" stroke-width="1.2"/><path d="M487.0 212.5h5.0" stroke="#f8c400" stroke-width="1" fill="none" shape-rendering="crispEdges"/>
<circle cx="464.5" cy="207.5" r="4.0" fill="none" stroke="#f8c400" stroke-width="1.2"/><path d="M462.0 207.5h5.0" stroke="#f8c400" stroke-width="1" fill="none" shape-rendering="crispEdges"/>
<circle cx="471.5" cy="208.5" r="4.0" fill="none" stroke="#f8c400" stroke-width="1.2"/><path d="M469.0 208.5h5.0" stroke="#f8c400" stroke-width="1" fill="none" shape-rendering="crispEdges"/>
<circle cx="468.5" cy="212.5" r="4.0" fill="none" stroke="#f0a000" stroke-width="1.2"/><path d="M466.0 212.5h5.0" stroke="#f0a000" stroke-width="1" fill="none" shape-rendering="crispEdges"/>
<circle cx="472.5" cy="214.5" r="4.0" fill="none" stroke="#f8c400" stroke-width="1.2"/><path d="M470.0 214.5h5.0" stroke="#f8c400" stroke-width="1" fill="none" shape-rendering="crispEdges"/>
<circle cx="470.5" cy="217.5" r="4.0" fill="none" stroke="#f8c400" stroke-width="1.2"/><path d="M468.0 217.5h5.0" stroke="#f8c400" stroke-width="1" fill="none" shape-rendering="crispEdges"/>
<circle cx="472.5" cy="219.5" r="4.0" fill="none" stroke="#f8c400" stroke-width="1.2"/><path d="M470.0 219.5h5.0" stroke="#f8c400" stroke-width="1" fill="none" shape-rendering="crispEdges"/>
<circle cx="476.5" cy="229.5" r="4.0" fill="none" stroke="#f8c400" stroke-width="1.2"/><path d="M474.0 229.5h5.0M476.5 227.0v5.0" stroke="#f8c400" stroke-width="1" fill="none" shape-rendering="crispEdges"/>
<path d="M508.0 221.5h7.0M511.5 218.0v7.0" stroke="#f0a000" stroke-width="1" fill="none" shape-rendering="crispEdges"/>
<circle cx="529.5" cy="223.5" r="4.0" fill="none" stroke="#ffff00" stroke-width="1.2"/><path d="M527.0 223.5h5.0" stroke="#ffff00" stroke-width="1" fill="none" shape-rendering="crispEdges"/>
<circle cx="466.5" cy="561.5" r="4.0" fill="none" stroke="#f0a000" stroke-width="1.2"/><path d="M464.0 561.5h5.0M466.5 559.0v5.0" stroke="#f0a000" stroke-width="1" fill="none" shape-rendering="crispEdges"/>
<circle cx="463.5" cy="563.5" r="4.0" fill="none" stroke="#f8c400" stroke-width="1.2"/><path d="M461.0 563.5h5.0" stroke="#f8c400" stroke-width="1" fill="none" shape-rendering="crispEdges"/>
<circle cx="431.5" cy="575.5" r="4.0" fill="none" stroke="#f0a000" stroke-width="1.2"/><path d="M429.0 575.5h5.0M431.5 573.0v5.0" stroke="#f0a000" stroke-width="1" fill="none" shape-rendering="crispEdges"/>
<circle cx="466.5" cy="603.5" r="4.0" fill="none" stroke="#f0a000" stroke-width="1.2"/><path d="M464.0 603.5h5.0M466.5 601.0v5.0" stroke="#f0a000" stroke-width="1" fill="none" shape-rendering="crispEdges"/>
<circle cx="473.5" cy="615.5" r="4.0" fill="none" stroke="#f0a000" stroke-width="1.2"/><path d="M471.0 615.5h5.0" stroke="#f0a000" stroke-width="1" fill="none" shape-rendering="crispEdges"/>
<circle cx="437.5" cy="623.5" r="4.0" fill="none" stroke="#f0a000" stroke-width="1.2"/><path d="M435.0 623.5h5.0" stroke="#f0a000" stroke-width="1" fill="none" shape-rendering="crispEdges"/>
<circle cx="467.5" cy="625.5" r="4.0" fill="none" stroke="#f8c400" stroke-width="1.2"/><path d="M465.0 625.5h5.0" stroke="#f8c400" stroke-width="1" fill="none" shape-rendering="crispEdges"/>
<circle cx="467.5" cy="617.5" r="4.0" fill="none" stroke="#f8c400" stroke-width="1.2"/><path d="M465.0 617.5h5.0M467.5 615.0v5.0" stroke="#f8c400" stroke-width="1" fill="none" shape-rendering="crispEdges"/>
<circle cx="458.5" cy="609.5" r="4.0" fill="none" stroke="#f8c400" stroke-width="1.2"/><path d="M456.0 609.5h5.0" stroke="#f8c400" stroke-width="1" fill="none" shape-rendering="crispEdges"/>
<path d="M441.0 628.5h7.0M444.5 625.0v7.0" stroke="#f8c400" stroke-width="1" fill="none" shape-rendering="crispEdges"/>
<circle cx="433.5" cy="560.5" r="4.0" fill="none" stroke="#ffff00" stroke-width="1.2"/><path d="M431.0 560.5h5.0M433.5 558.0v5.0" stroke="#ffff00" stroke-width="1" fill="none" shape-rendering="crispEdges"/>
<circle cx="445.5" cy="560.5" r="4.0" fill="none" stroke="#ffff00" stroke-width="1.2"/><path d="M443.0 560.5h5.0" stroke="#ffff00" stroke-width="1" fill="none" shape-rendering="crispEdges"/>
<circle cx="451.5" cy="556.5" r="4.0" fill="none" stroke="#ffff00" stroke-width="1.2"/><path d="M449.0 556.5h5.0" stroke="#ffff00" stroke-width="1" fill="none" shape-rendering="crispEdges"/>
<circle cx="458.5" cy="558.5" r="4.0" fill="none" stroke="#ffff00" stroke-width="1.2"/><path d="M456.0 558.5h5.0" stroke="#ffff00" stroke-width="1" fill="none" shape-rendering="crispEdges"/>
<circle cx="453.5" cy="564.5" r="4.0" fill="none" stroke="#ffff00" stroke-width="1.2"/><path d="M451.0 564.5h5.0M453.5 562.0v5.0" stroke="#ffff00" stroke-width="1" fill="none" shape-rendering="crispEdges"/>
<circle cx="456.5" cy="566.5" r="4.0" fill="none" stroke="#ffff00" stroke-width="1.2"/><path d="M454.0 566.5h5.0" stroke="#ffff00" stroke-width="1" fill="none" shape-rendering="crispEdges"/>
<circle cx="432.5" cy="566.5" r="4.0" fill="none" stroke="#ffff00" stroke-width="1.2"/><path d="M430.0 566.5h5.0M432.5 564.0v5.0" stroke="#ffff00" stroke-width="1" fill="none" shape-rendering="crispEdges"/>
<circle cx="436.5" cy="568.5" r="4.0" fill="none" stroke="#ffff00" stroke-width="1.2"/><path d="M434.0 568.5h5.0" stroke="#ffff00" stroke-width="1" fill="none" shape-rendering="crispEdges"/>
<circle cx="439.5" cy="567.5" r="4.0" fill="none" stroke="#ffff00" stroke-width="1.2"/><path d="M437.0 567.5h5.0M439.5 565.0v5.0" stroke="#ffff00" stroke-width="1" fill="none" shape-rendering="crispEdges"/>
<circle cx="441.5" cy="570.5" r="4.0" fill="none" stroke="#ffff00" stroke-width="1.2"/><path d="M439.0 570.5h5.0" stroke="#ffff00" stroke-width="1" fill="none" shape-rendering="crispEdges"/>
<circle cx="437.5" cy="572.5" r="4.0" fill="none" stroke="#ffff00" stroke-width="1.2"/><path d="M435.0 572.5h5.0M437.5 570.0v5.0" stroke="#ffff00" stroke-width="1" fill="none" shape-rendering="crispEdges"/>
<circle cx="433.5" cy="573.5" r="4.0" fill="none" stroke="#ffff00" stroke-width="1.2"/><path d="M431.0 573.5h5.0" stroke="#ffff00" stroke-width="1" fill="none" shape-rendering="crispEdges"/>
<circle cx="426.5" cy="574.5" r="4.0" fill="none" stroke="#ffff00" stroke-width="1.2"/><path d="M424.0 574.5h5.0M426.5 572.0v5.0" stroke="#ffff00" stroke-width="1" fill="none" shape-rendering="crispEdges"/>
<circle cx="428.5" cy="583.5" r="4.0" fill="none" stroke="#ffff00" stroke-width="1.2"/><path d="M426.0 583.5h5.0" stroke="#ffff00" stroke-width="1" fill="none" shape-rendering="crispEdges"/>
<circle cx="447.5" cy="576.5" r="4.0" fill="none" stroke="#ffff00" stroke-width="1.2"/><path d="M445.0 576.5h5.0" stroke="#ffff00" stroke-width="1" fill="none" shape-rendering="crispEdges"/>
<circle cx="443.5" cy="581.5" r="4.0" fill="none" stroke="#ffff00" stroke-width="1.2"/><path d="M441.0 581.5h5.0M443.5 579.0v5.0" stroke="#ffff00" stroke-width="1" fill="none" shape-rendering="crispEdges"/>
<circle cx="447.5" cy="582.5" r="4.0" fill="none" stroke="#ffff00" stroke-width="1.2"/><path d="M445.0 582.5h5.0" stroke="#ffff00" stroke-width="1" fill="none" shape-rendering="crispEdges"/>
<circle cx="441.5" cy="584.5" r="4.0" fill="none" stroke="#ffff00" stroke-width="1.2"/><path d="M439.0 584.5h5.0M441.5 582.0v5.0" stroke="#ffff00" stroke-width="1" fill="none" shape-rendering="crispEdges"/>
<circle cx="445.5" cy="586.5" r="4.0" fill="none" stroke="#ffff00" stroke-width="1.2"/><path d="M443.0 586.5h5.0" stroke="#ffff00" stroke-width="1" fill="none" shape-rendering="crispEdges"/>
<circle cx="449.5" cy="579.5" r="4.0" fill="none" stroke="#ffff00" stroke-width="1.2"/><path d="M447.0 579.5h5.0M449.5 577.0v5.0" stroke="#ffff00" stroke-width="1" fill="none" shape-rendering="crispEdges"/>
<circle cx="451.5" cy="583.5" r="4.0" fill="none" stroke="#ffff00" stroke-width="1.2"/><path d="M449.0 583.5h5.0" stroke="#ffff00" stroke-width="1" fill="none" shape-rendering="crispEdges"/>
<circle cx="442.5" cy="587.5" r="4.0" fill="none" stroke="#ffff00" stroke-width="1.2"/><path d="M440.0 587.5h5.0" stroke="#ffff00" stroke-width="1" fill="none" shape-rendering="crispEdges"/>
<circle cx="458.5" cy="577.5" r="4.0" fill="none" stroke="#ffff00" stroke-width="1.2"/><path d="M456.0 577.5h5.0" stroke="#ffff00" stroke-width="1" fill="none" shape-rendering="crispEdges"/>
<circle cx="461.5" cy="576.5" r="4.0" fill="none" stroke="#ffff00" stroke-width="1.2"/><path d="M459.0 576.5h5.0M461.5 574.0v5.0" stroke="#ffff00" stroke-width="1" fill="none" shape-rendering="crispEdges"/>
<path d="M453.0 584.5h7.0M456.5 581.0v7.0" stroke="#ffff00" stroke-width="1" fill="none" shape-rendering="crispEdges"/>
<path d="M455.0 581.5h7.0M458.5 578.0v7.0" stroke="#ffff00" stroke-width="1" fill="none" shape-rendering="crispEdges"/>
<path d="M431.0 592.5h7.0M434.5 589.0v7.0" stroke="#ffff00" stroke-width="1" fill="none" shape-rendering="crispEdges"/>
<path d="M438.0 594.5h7.0M441.5 591.0v7.0" stroke="#ffff00" stroke-width="1" fill="none" shape-rendering="crispEdges"/>
<circle cx="461.5" cy="593.5" r="4.0" fill="none" stroke="#ffff00" stroke-width="1.2"/><path d="M459.0 593.5h5.0M461.5 591.0v5.0" stroke="#ffff00" stroke-width="1" fill="none" shape-rendering="crispEdges"/>
<circle cx="447.5" cy="597.5" r="4.0" fill="none" stroke="#ffff00" stroke-width="1.2"/><path d="M445.0 597.5h5.0M447.5 595.0v5.0" stroke="#ffff00" stroke-width="1" fill="none" shape-rendering="crispEdges"/>
<circle cx="457.5" cy="599.5" r="4.0" fill="none" stroke="#ffff00" stroke-width="1.2"/><path d="M455.0 599.5h5.0M457.5 597.0v5.0" stroke="#ffff00" stroke-width="1" fill="none" shape-rendering="crispEdges"/>
<circle cx="459.5" cy="602.5" r="4.0" fill="none" stroke="#ffff00" stroke-width="1.2"/><path d="M457.0 602.5h5.0" stroke="#ffff00" stroke-width="1" fill="none" shape-rendering="crispEdges"/>
<circle cx="456.5" cy="604.5" r="4.0" fill="none" stroke="#ffff00" stroke-width="1.2"/><path d="M454.0 604.5h5.0M456.5 602.0v5.0" stroke="#ffff00" stroke-width="1" fill="none" shape-rendering="crispEdges"/>
<circle cx="460.5" cy="605.5" r="4.0" fill="none" stroke="#ffff00" stroke-width="1.2"/><path d="M458.0 605.5h5.0" stroke="#ffff00" stroke-width="1" fill="none" shape-rendering="crispEdges"/>
<circle cx="452.5" cy="603.5" r="4.0" fill="none" stroke="#ffff00" stroke-width="1.2"/><path d="M450.0 603.5h5.0" stroke="#ffff00" stroke-width="1" fill="none" shape-rendering="crispEdges"/>
<circle cx="467.5" cy="603.5" r="4.0" fill="none" stroke="#ffff00" stroke-width="1.2"/><path d="M465.0 603.5h5.0" stroke="#ffff00" stroke-width="1" fill="none" shape-rendering="crispEdges"/>
<circle cx="434.5" cy="608.5" r="4.0" fill="none" stroke="#ffff00" stroke-width="1.2"/><path d="M432.0 608.5h5.0" stroke="#ffff00" stroke-width="1" fill="none" shape-rendering="crispEdges"/>
<path d="M425.0 608.5h7.0" stroke="#ffff00" stroke-width="1" fill="none" shape-rendering="crispEdges"/>
<circle cx="446.5" cy="616.5" r="4.0" fill="none" stroke="#ffff00" stroke-width="1.2"/><path d="M444.0 616.5h5.0" stroke="#ffff00" stroke-width="1" fill="none" shape-rendering="crispEdges"/>
<circle cx="434.5" cy="566.5" r="4.0" fill="none" stroke="#ffff00" stroke-width="1.2"/><path d="M432.0 566.5h5.0M434.5 564.0v5.0" stroke="#ffff00" stroke-width="1" fill="none" shape-rendering="crispEdges"/>
<circle cx="437.5" cy="567.5" r="4.0" fill="none" stroke="#ffff00" stroke-width="1.2"/><path d="M435.0 567.5h5.0" stroke="#ffff00" stroke-width="1" fill="none" shape-rendering="crispEdges"/>
<circle cx="435.5" cy="571.5" r="4.0" fill="none" stroke="#ffff00" stroke-width="1.2"/><path d="M433.0 571.5h5.0" stroke="#ffff00" stroke-width="1" fill="none" shape-rendering="crispEdges"/>
<circle cx="438.5" cy="573.5" r="4.0" fill="none" stroke="#ffff00" stroke-width="1.2"/><path d="M436.0 573.5h5.0" stroke="#ffff00" stroke-width="1" fill="none" shape-rendering="crispEdges"/>
<circle cx="444.5" cy="577.5" r="4.0" fill="none" stroke="#ffff00" stroke-width="1.2"/><path d="M442.0 577.5h5.0M444.5 575.0v5.0" stroke="#ffff00" stroke-width="1" fill="none" shape-rendering="crispEdges"/>
<circle cx="448.5" cy="583.5" r="4.0" fill="none" stroke="#ffff00" stroke-width="1.2"/><path d="M446.0 583.5h5.0M448.5 581.0v5.0" stroke="#ffff00" stroke-width="1" fill="none" shape-rendering="crispEdges"/>
<circle cx="443.5" cy="583.5" r="4.0" fill="none" stroke="#ffff00" stroke-width="1.2"/><path d="M441.0 583.5h5.0" stroke="#ffff00" stroke-width="1" fill="none" shape-rendering="crispEdges"/>
<circle cx="448.5" cy="577.5" r="4.0" fill="none" stroke="#ffff00" stroke-width="1.2"/><path d="M446.0 577.5h5.0" stroke="#ffff00" stroke-width="1" fill="none" shape-rendering="crispEdges"/>
<circle cx="443.5" cy="586.5" r="4.0" fill="none" stroke="#ffff00" stroke-width="1.2"/><path d="M441.0 586.5h5.0M443.5 584.0v5.0" stroke="#ffff00" stroke-width="1" fill="none" shape-rendering="crispEdges"/>
<circle cx="450.5" cy="576.5" r="4.0" fill="none" stroke="#ffff00" stroke-width="1.2"/><path d="M448.0 576.5h5.0M450.5 574.0v5.0" stroke="#ffff00" stroke-width="1" fill="none" shape-rendering="crispEdges"/>
<circle cx="445.5" cy="581.5" r="4.0" fill="none" stroke="#ffff00" stroke-width="1.2"/><path d="M443.0 581.5h5.0" stroke="#ffff00" stroke-width="1" fill="none" shape-rendering="crispEdges"/>
<circle cx="457.5" cy="601.5" r="4.0" fill="none" stroke="#ffff00" stroke-width="1.2"/><path d="M455.0 601.5h5.0" stroke="#ffff00" stroke-width="1" fill="none" shape-rendering="crispEdges"/>
<circle cx="458.5" cy="600.5" r="4.0" fill="none" stroke="#ffff00" stroke-width="1.2"/><path d="M456.0 600.5h5.0M458.5 598.0v5.0" stroke="#ffff00" stroke-width="1" fill="none" shape-rendering="crispEdges"/>
<circle cx="459.5" cy="606.5" r="4.0" fill="none" stroke="#ffff00" stroke-width="1.2"/><path d="M457.0 606.5h5.0M459.5 604.0v5.0" stroke="#ffff00" stroke-width="1" fill="none" shape-rendering="crispEdges"/>
<circle cx="465.5" cy="580.5" r="4.0" fill="none" stroke="#00e8e8" stroke-width="1.2"/><path d="M463.0 580.5h5.0" stroke="#00e8e8" stroke-width="1" fill="none" shape-rendering="crispEdges"/>
<polygon points="452.8,590.5 471.5,609.3 452.8,628 434,609.3" fill="none" stroke="#10e010" stroke-width="1.1" stroke-dasharray="3.2 4.4"/>
<text x="382.7" y="547.1" font-family="Liberation Mono, monospace" font-size="11" fill="#f4f4ee" textLength="48.8" lengthAdjust="spacingAndGlyphs">I-1203-3</text>
<polyline points="432,544 435.5,538.9 439,544" fill="none" stroke="#f0f040" stroke-width="0.9"/>
<text x="405.8" y="371.2" text-anchor="middle" font-family="Liberation Mono, monospace" font-size="11" fill="#f2f2a8" textLength="13.2" lengthAdjust="spacingAndGlyphs">31</text>
<text x="405.8" y="251.1" text-anchor="middle" font-family="Liberation Mono, monospace" font-size="11" fill="#f2f2a8" textLength="19.8" lengthAdjust="spacingAndGlyphs">125</text>
<text x="405.8" y="130.9" text-anchor="middle" font-family="Liberation Mono, monospace" font-size="11" fill="#f2f2a8" textLength="19.8" lengthAdjust="spacingAndGlyphs">219</text>
<text x="405.8" y="11.0" text-anchor="middle" font-family="Liberation Mono, monospace" font-size="11" fill="#f2f2a8" textLength="19.8" lengthAdjust="spacingAndGlyphs">313</text>
</svg>
<rect x="8.5" y="758.5" width="244" height="45" fill="#000" stroke="#8c8c8c" stroke-width="1"/>
<rect x="685" y="792" width="121" height="14" fill="#000"/>
<rect x="812.5" y="8.5" width="319" height="319.0" rx="4.5" ry="4.5" fill="#000" stroke="#c4c4c4" stroke-width="1"/>
<rect x="812.5" y="333.5" width="319" height="114.0" rx="4.5" ry="4.5" fill="#000" stroke="#c4c4c4" stroke-width="1"/>
<rect x="812.5" y="453.5" width="319" height="348.0" rx="4.5" ry="4.5" fill="#000" stroke="#c4c4c4" stroke-width="1"/>
<rect x="819" y="16" width="58" height="18" fill="#5c0000" shape-rendering="crispEdges"/>
<path d="M819 33.5H876.5V16" fill="none" stroke="#9c9c9c" stroke-width="1" shape-rendering="crispEdges"/>
<path d="M819.5 34V16.5H877" fill="none" stroke="#ececec" stroke-width="1" shape-rendering="crispEdges"/>
<rect x="883" y="16" width="58" height="18" fill="#333333" shape-rendering="crispEdges"/>
<path d="M883 33.5H940.5V16" fill="none" stroke="#9c9c9c" stroke-width="1" shape-rendering="crispEdges"/>
<path d="M883.5 34V16.5H941" fill="none" stroke="#ececec" stroke-width="1" shape-rendering="crispEdges"/>
<rect x="994" y="16" width="128" height="18" fill="#333333" shape-rendering="crispEdges"/>
<path d="M994 33.5H1121.5V16" fill="none" stroke="#9c9c9c" stroke-width="1" shape-rendering="crispEdges"/>
<path d="M994.5 34V16.5H1122" fill="none" stroke="#ececec" stroke-width="1" shape-rendering="crispEdges"/>
<rect x="821" y="64" width="82" height="16" fill="#5e5e5e" shape-rendering="crispEdges"/>
<path d="M821 79.5H902.5V64" fill="none" stroke="#9c9c9c" stroke-width="1" shape-rendering="crispEdges"/>
<path d="M821.5 80V64.5H903" fill="none" stroke="#ececec" stroke-width="1" shape-rendering="crispEdges"/>
<rect x="931" y="64" width="82" height="16" fill="#5e5e5e" shape-rendering="crispEdges"/>
<path d="M931 79.5H1012.5V64" fill="none" stroke="#9c9c9c" stroke-width="1" shape-rendering="crispEdges"/>
<path d="M931.5 80V64.5H1013" fill="none" stroke="#ececec" stroke-width="1" shape-rendering="crispEdges"/>
<rect x="1041" y="64" width="82" height="16" fill="#5e5e5e" shape-rendering="crispEdges"/>
<path d="M1041 79.5H1122.5V64" fill="none" stroke="#9c9c9c" stroke-width="1" shape-rendering="crispEdges"/>
<path d="M1041.5 80V64.5H1123" fill="none" stroke="#ececec" stroke-width="1" shape-rendering="crispEdges"/>
<rect x="821" y="217" width="302" height="1" fill="#7c7c7c"/>
<rect x="925.5" y="227.5" width="50" height="10" rx="1" fill="#000" stroke="#8e8e8e" stroke-width="1"/>
<rect x="926" y="228" width="16" height="9" fill="#ff0000" shape-rendering="crispEdges"/>
<rect x="1028.5" y="227.5" width="50" height="10" rx="1" fill="#000" stroke="#8e8e8e" stroke-width="1"/>
<rect x="1029" y="228" width="28" height="9" fill="#8ccaf8" shape-rendering="crispEdges"/>
<rect x="925.5" y="281.5" width="50" height="10" rx="1" fill="#000" stroke="#8e8e8e" stroke-width="1"/>
<rect x="926" y="282" width="2" height="9" fill="#ff69b4" shape-rendering="crispEdges"/>
<rect x="1028.5" y="281.5" width="50" height="10" rx="1" fill="#000" stroke="#8e8e8e" stroke-width="1"/>
<rect x="1029" y="282" width="2" height="9" fill="#10e010" shape-rendering="crispEdges"/>
<rect x="821" y="358" width="302" height="1" fill="#7c7c7c"/>
<g>
<polyline points="822.2,777.5 822.7,718.3 823.2,714.6 824.2,726.9 824.8,749.1 826,761.4 827.2,768.7 828.8,763.8 830.3,732.4 831.5,718.3 833,709.7 834.4,706 835,730.6 836.5,758.9 838.3,768.7 839.9,758.9 841.4,746.6 843.2,754 844.4,761.4 846.9,774.9 847.9,758.9 848.8,734.3 850,722 852.4,714.6 853.7,739.2 854.9,765 856.4,768.7 858,756.4 861.1,746.6 862.5,758.9 863.5,767.5 865.4,754 867.2,760.1 868.4,763.8 870.9,776.1 871.9,758.9 872.7,746.6 873.6,733.1 874.6,722.4 875.8,729.4 877.7,722.4 878.5,728.1 880.1,730.6 881.4,736.7 882.6,751.5 883.2,757.7 883.8,746.6 886.3,746.6 886.9,738.6 888.7,744.1 890,736.7 891.4,730.2 892.3,739.2 893,744.1 894.9,751.5 896.7,746.6 898.6,758.9 900.4,768.7 902.9,761.4 904.7,765 906.6,776.1 909,769.3 912.1,769.3 914,776.1 916.4,774.9 917.4,751.5 918.3,722.4 920.4,722.4 921.6,734.3 922.6,740.4 923.8,754 925,768.7 926.3,751.5 927.5,732.4 929.3,714.6 930.6,724.4 931.8,730.6 932.7,744.1 933.6,754 935.5,746.6 937.9,746.6 939.8,758.9 941,768.7 942.9,746.6 944.7,751.5 945.9,732.4 947.4,714.6 948.2,730.6 949,738 950.2,730.6 951.1,744.1 952.1,754 953.3,754 953.5,754 955.1,774.9 957.5,761.4 959.4,751.5 960.9,739.2 962.5,723.2 963.7,704.8 965.3,699.8 966.5,714.6 968,739.2 969,751.5 969.8,761.4 971.1,749.1 971.7,739.2 972.9,719.5 974.8,714.6 976.2,723.2 977.2,746.6 978.4,754 980.3,746.6 982.1,754 984,754 985.2,769.3 986.4,769.3 987.7,739.2 988.9,720.8 990.8,706.6 992,719.5 993.8,706.6 995.1,720.8 996.3,691.2 997.8,702.3 998.7,730.6 1000.6,754 1002.4,768.7 1003.7,730.6 1005.5,706.6 1007.4,706.6 1008.6,739.2 1010.4,751.5 1012.3,746.6 1014.1,722.6 1016,722.6 1017.2,730.6 1019,758.9 1020.3,776.1 1022.1,741.7 1024,714.6 1025.6,722.6 1027,722.6 1028.9,730.6 1030.7,723.2 1032.6,706 1034.7,691.2 1036.3,698.6 1037.5,730.6 1039.3,768.7 1040.6,739.2 1042.4,714.6 1044,730.6 1045.5,726.9 1047.3,719.5 1049.2,699.2 1051,719.5 1052.3,739.2 1054.1,746.6 1056,754 1057.6,761.4 1058.8,739.2 1060.3,746.6 1062.1,712.1 1063.3,687.5 1064.9,683.2 1066.4,687.5 1068.3,704.8 1069.5,730.6 1070.7,730.6 1072.3,722.6 1075,722.6 1076.3,730.6 1077.5,739.2 1079.9,754 1081.8,754 1083,769.3 1084.6,730.6 1086.1,722.6 1087.9,722.6 1088.6,730.6" fill="none" stroke="#ffffff" stroke-width="1.0" stroke-linejoin="miter"/>
<polyline points="822.4,777.5 823.2,730.6 823.9,730.6 824.8,751.5 826.6,768.7 828.5,773.7 830.3,751.5 831.5,732.4 833.4,730.2 835.2,730.6 835.8,745.4 836.5,758.9 838.3,770 840.1,763.8 841.4,754 842.6,758.9 844.4,768.7 846.9,776.1 848.1,758.9 849.4,746.6 852.4,746.6 853.7,763.8 854.9,768.7 856.8,768.7 858.6,761.4 861.1,754 863.5,768.7 866,763.8 868.4,770 870.9,776.1 872.7,763.8 874,754 875.8,744.1 877.7,738.6 879.5,749.1 881.4,758.9 883.2,768.7 883.8,751.5 886.9,744.1 888.7,751.5 891.4,739.2 893,751.5 894.9,761.4 896.7,751.5 898.6,763.8 900.4,774.9 902.9,777.5 916.4,777.5 917,776.1 917.9,763.8 918.9,753.6 921.3,753.6 922.6,768.7 925,770 926.3,758.9 927.5,746.6 930,738.6 931.8,746.6 933.6,761.4 935.5,761.4 937.9,761.4 939.8,763.8 941.6,771.2 943.5,763.8 945.9,751.5 948.4,739.2 950.9,742.9 952.1,754 953.9,763.8 955.1,776.1 958.2,758.9 961.8,739.2 963.7,725.7 965.3,722.6 966.8,739.2 968.6,758.9 970.5,769.3 971.7,761.4 973.5,761.4 976.6,761.4 977.8,754 982.8,758.9 986.4,758.9 987.7,754 988.9,730.6 990.8,722.6 992,730.6 995.1,746.6 996.3,726.9 997.8,722.6 999.4,739.2 1001.2,761.4 1002.4,768.7 1004.3,730.6 1006.1,715.8 1008,730.6 1009.2,746.6 1011.1,754 1012.3,768.7 1014.1,761.4 1017.2,761.4 1019,769.3 1020.9,769.3 1022.7,754 1024.6,741.7 1025.8,738.6 1028.3,738.6 1030.1,730.6 1031.7,736.7 1033.2,714.6 1034.7,719.5 1036.3,722.6 1038.1,746.6 1039.6,768.7 1041.2,746.6 1042.4,726.9 1044.3,746.6 1046.1,754 1047.3,746.6 1049.8,739.2 1051.4,754 1054.1,754 1056,754 1057.6,761.4 1059,746.6 1060.9,761.4 1062.7,754 1064.6,738.6 1067.6,738.6 1068.9,746.6 1070.7,754 1071.9,746.6 1075,746.6 1076.3,761.4 1078.1,769.3 1081.2,769.3 1083,761.4 1084.9,754 1086.7,761.4 1087.9,769.3" fill="none" stroke="#a8d8ff" stroke-width="1.0" stroke-linejoin="miter"/>
<polyline points="823.2,777.5 824.8,770 827.8,770 830.3,776.1 831.5,770 834,761.4 835.8,768.7 837.7,776.1 839.5,770 843.2,770 845.1,776.1 847.5,777.5 849.4,770 852.4,761.4 854.9,768.7 856.1,776.1 858,770 861.1,770 863.5,776.1 866,770 868.4,770 870.9,776.1 872.1,758.9 872.7,754 874.6,746.6 876.4,761.4 878.9,754 881.4,756.4 883.2,770 883.8,777.5 917.6,777.5 918.9,746.6 920.7,746.6 922,758.9 923.2,768.7 924.4,776.1 926.3,770 928.7,770 930.6,776.1 933.6,770 934.9,776.1 936.1,762.6 937.9,763.8 941,776.1 948.4,777.5 950.9,770 953.9,770 953.8,769.3 955.7,776.1 957.5,769.3 960,769.3 962.5,761.4 964.9,754 966.8,761.4 968,754 969.2,763.8 970.5,769.3 971.7,746.6 973.5,739.2 974.8,730.6 976.6,739.2 977.8,761.4 978.4,777.5 986.4,777.5 987.7,768.7 988.9,761.4 992,761.4 993.8,746.6 995.7,750.3 996.9,761.4 998.7,769.3 1001.2,770 1002.4,769.3 1004.9,761.4 1006.7,769.3 1008.6,774.9 1009.8,777.5 1011.7,769.3 1012.9,754 1014.7,746.6 1016.6,746.6 1018.4,758.9 1019.7,769.3 1020.9,777.5 1022.7,761.4 1024.6,754 1025.8,769.3 1027.7,777.5 1029.5,769.3 1032,761.4 1034.7,761.4 1036.3,769.3 1038.1,769.3 1040,777.5 1045.5,777.5 1047.3,769.3 1049.2,754 1051,746.6 1052.3,761.4 1054.1,769.3 1056,777.5 1057.8,769.3 1060.3,761.4 1062.7,754 1064.6,746.6 1065.8,746.6 1067.4,730.6 1068.3,746.6 1069.5,761.4 1073.2,761.4 1075,754 1078.1,754 1079.9,761.4 1081.8,763.8 1082.4,777.5 1084.2,754 1085.5,739.2 1087.3,730.6 1088.3,722.6" fill="none" stroke="#f00808" stroke-width="1.0" stroke-linejoin="miter"/>
<polyline points="822.4,777.5 823.2,761.4 824.2,770 825.4,777.5 826.6,777.5 827.8,770 829.3,777.5" fill="none" stroke="#ff69b4" stroke-width="1.0" stroke-linejoin="miter"/>
<polyline points="830.3,777.5 831.5,769.3 834.6,769.3 835.8,777.5" fill="none" stroke="#ff69b4" stroke-width="1.0" stroke-linejoin="miter"/>
<polyline points="885.7,777.5 886.9,769.3 896.1,769.3 897.7,777.5" fill="none" stroke="#ff69b4" stroke-width="1.0" stroke-linejoin="miter"/>
<polyline points="925,777.5 926.3,768.7 929.3,761.4 931.8,768.7 934.9,777.5" fill="none" stroke="#ff69b4" stroke-width="1.0" stroke-linejoin="miter"/>
<polyline points="954.6,777.5 955.2,770 958,770" fill="none" stroke="#ff69b4" stroke-width="1.0" stroke-linejoin="miter"/>
<polyline points="952,777.5 954.5,769.3 956.3,777.5 958.2,769.3 964.3,769.3 966.8,777.5" fill="none" stroke="#ff69b4" stroke-width="1.0" stroke-linejoin="miter"/>
<polyline points="995.1,777.5 996.9,769.3 999.4,769.3 1001.2,777.5" fill="none" stroke="#ff69b4" stroke-width="1.0" stroke-linejoin="miter"/>
<polyline points="1013.5,777.5 1014.1,770 1018.4,770 1019,777.5" fill="none" stroke="#ff69b4" stroke-width="1.0" stroke-linejoin="miter"/>
<polyline points="1022.1,777.5 1024.6,769.3 1027,769.3 1028.9,777.5" fill="none" stroke="#ff69b4" stroke-width="1.0" stroke-linejoin="miter"/>
<polyline points="1060.9,777.5 1061.5,768.7 1063.3,761.4 1066.4,761.4 1067.6,777.5" fill="none" stroke="#ff69b4" stroke-width="1.0" stroke-linejoin="miter"/>
<polyline points="1069.5,777.5 1070.7,769.3 1073.2,769.3 1075,777.5" fill="none" stroke="#ff69b4" stroke-width="1.0" stroke-linejoin="miter"/>
<polyline points="847.5,777.5 849.4,770 852.4,770 853.7,777.5" fill="none" stroke="#10f010" stroke-width="1.0" stroke-linejoin="miter"/>
<polyline points="1008.6,777.5 1010.4,770 1012.9,770 1014.7,777.5" fill="none" stroke="#10f010" stroke-width="1.0" stroke-linejoin="miter"/>
<polyline points="1033.2,777.5 1034.7,770 1036.9,770 1039.3,777.5 1042.4,770 1049.2,770 1051.6,777.5" fill="none" stroke="#10f010" stroke-width="1.0" stroke-linejoin="miter"/>
<polyline points="1060.3,777.5 1061.5,770 1064.6,770 1066.4,777.5" fill="none" stroke="#10f010" stroke-width="1.0" stroke-linejoin="miter"/>
<rect x="822" y="777" width="267" height="1" fill="#c0c0c0"/>
<rect x="1088" y="542" width="1" height="236" fill="#c0c0c0"/>
<rect x="1085" y="738" width="3" height="1" fill="#c0c0c0"/>
<rect x="1083" y="699" width="5" height="1" fill="#c0c0c0"/>
<rect x="1085" y="659" width="3" height="1" fill="#c0c0c0"/>
<rect x="1083" y="620" width="5" height="1" fill="#c0c0c0"/>
<rect x="1085" y="581" width="3" height="1" fill="#c0c0c0"/>
<rect x="1083" y="542" width="5" height="1" fill="#c0c0c0"/>
<rect x="822" y="777" width="1" height="3" fill="#c0c0c0"/>
<rect x="866" y="777" width="1" height="3" fill="#c0c0c0"/>
<rect x="911" y="777" width="1" height="3" fill="#c0c0c0"/>
<rect x="955" y="777" width="1" height="3" fill="#c0c0c0"/>
<rect x="1000" y="777" width="1" height="3" fill="#c0c0c0"/>
<rect x="1044" y="777" width="1" height="3" fill="#c0c0c0"/>
<rect x="1088" y="777" width="1" height="3" fill="#c0c0c0"/>
</g>
<circle cx="60.5" cy="780.5" r="3.5" fill="none" stroke="#00e8e8" stroke-width="1"/><path d="M58.0 780.5h5.0" stroke="#00e8e8" stroke-width="1" fill="none" shape-rendering="crispEdges"/>
<path d="M81.0 780.5h7.0" stroke="#00e8e8" stroke-width="1" fill="none" shape-rendering="crispEdges"/>
<circle cx="109.5" cy="780.5" r="3.5" fill="none" stroke="#00e8e8" stroke-width="1"/><path d="M107.0 780.5h5.0M109.5 778.0v5.0" stroke="#00e8e8" stroke-width="1" fill="none" shape-rendering="crispEdges"/>
<path d="M131.0 780.5h7.0M134.5 777.0v7.0" stroke="#00e8e8" stroke-width="1" fill="none" shape-rendering="crispEdges"/>
<circle cx="60.5" cy="793.5" r="3.5" fill="none" stroke="#ffff00" stroke-width="1"/><path d="M58.0 793.5h5.0" stroke="#ffff00" stroke-width="1" fill="none" shape-rendering="crispEdges"/>
<path d="M81.0 793.5h7.0" stroke="#ffff00" stroke-width="1" fill="none" shape-rendering="crispEdges"/>
<circle cx="109.5" cy="793.5" r="3.5" fill="none" stroke="#ffff00" stroke-width="1"/><path d="M107.0 793.5h5.0M109.5 791.0v5.0" stroke="#ffff00" stroke-width="1" fill="none" shape-rendering="crispEdges"/>
<path d="M131.0 793.5h7.0M134.5 790.0v7.0" stroke="#ffff00" stroke-width="1" fill="none" shape-rendering="crispEdges"/>
</svg>
<div class="t" style="top:20.17px;font-size:12.2px;color:#d8c8c8;font-weight:bold;left:824.30px;transform:scaleX(1.0774);transform-origin:left center;">STRIKE</div>
<div class="t" style="top:20.17px;font-size:12.2px;color:#bcbcbc;font-weight:bold;left:890.80px;transform:scaleX(1.1247);transform-origin:left center;">NOISE</div>
<div class="t" style="top:19.29px;font-size:13.6px;color:#fff;font-weight:bold;left:998.20px;transform:scaleX(1.0542);transform-origin:left center;">Bng 161°</div>
<div class="t" style="top:19.29px;font-size:13.6px;color:#00f400;font-weight:bold;left:1076.30px;transform:scaleX(1.0711);transform-origin:left center;">143mi</div>
<div class="t" style="top:66.10px;font-size:12.4px;color:#fff;left:829.50px;transform:scaleX(1.0600);transform-origin:left center;">Strikes/min</div>
<div class="t" style="top:66.10px;font-size:12.4px;color:#fff;left:943.50px;transform:scaleX(1.0431);transform-origin:left center;">Close/min</div>
<div class="t" style="top:66.10px;font-size:12.4px;color:#fff;left:1050.50px;transform:scaleX(1.0191);transform-origin:left center;">Noises/min</div>
<div class="t" style="top:87.42px;font-size:28.8px;color:#fff;font-weight:bold;right:235.70px;transform:scaleX(1.1600);transform-origin:right center;">4</div>
<div class="t" style="top:87.42px;font-size:28.8px;color:#fff;font-weight:bold;right:125.40px;transform:scaleX(1.1600);transform-origin:right center;">0</div>
<div class="t" style="top:87.42px;font-size:28.8px;color:#b8b8b8;font-weight:bold;right:15.80px;transform:scaleX(1.1600);transform-origin:right center;">0</div>
<div class="t" style="top:132.00px;font-size:13px;color:#fff;left:826.00px;transform:scaleX(1.0805);transform-origin:left center;">Total Strikes</div>
<div class="t" style="top:150.00px;font-size:13px;color:#fff;right:235.40px;transform:scaleX(1.0547);transform-origin:right center;">1641</div>
<div class="t" style="top:132.00px;font-size:13px;color:#fff;left:944.50px;transform:scaleX(1.0575);transform-origin:left center;">Total Close</div>
<div class="t" style="top:150.00px;font-size:13px;color:#fff;right:125.30px;">0</div>
<div class="t" style="top:132.00px;font-size:13px;color:#d0d0d0;left:1047.20px;transform:scaleX(1.0592);transform-origin:left center;">Total Noises</div>
<div class="t" style="top:150.00px;font-size:13px;color:#fff;right:15.70px;transform:scaleX(0.9960);transform-origin:right center;">103</div>
<div class="t" style="top:204.00px;font-size:13px;color:#c0c0c0;left:821.00px;transform:scaleX(1.1159);transform-origin:left center;">Lightning type distribution</div>
<div class="t" style="top:226.70px;font-size:12.4px;color:#fff;font-weight:bold;left:821.00px;transform:scaleX(1.0312);transform-origin:left center;">Cloud-ground</div>
<div class="t" style="top:226.20px;font-size:13px;color:#fff;left:913.00px;">+</div>
<div class="t" style="top:226.53px;font-size:12.6px;color:#fff;font-weight:bold;left:979.40px;transform:scaleX(1.1500);transform-origin:left center;">34%</div>
<div class="t" style="top:226.20px;font-size:13px;color:#fff;font-weight:bold;left:1015.40px;">−</div>
<div class="t" style="top:226.53px;font-size:12.6px;color:#fff;font-weight:bold;left:1082.00px;transform:scaleX(1.1896);transform-origin:left center;">57%</div>
<div class="t" style="top:250.60px;font-size:12.4px;color:#c8c8c8;font-weight:bold;left:821.00px;transform:scaleX(1.0473);transform-origin:left center;">Count</div>
<div class="t" style="top:250.43px;font-size:12.6px;color:#fff;font-weight:bold;left:924.80px;transform:scaleX(1.1322);transform-origin:left center;">566</div>
<div class="t" style="top:250.43px;font-size:12.6px;color:#fff;font-weight:bold;left:1027.40px;transform:scaleX(1.1322);transform-origin:left center;">932</div>
<div class="t" style="top:280.70px;font-size:12.4px;color:#fff;font-weight:bold;left:821.00px;transform:scaleX(1.0479);transform-origin:left center;">Intracloud</div>
<div class="t" style="top:280.20px;font-size:13px;color:#fff;left:913.00px;">+</div>
<div class="t" style="top:280.53px;font-size:12.6px;color:#fff;font-weight:bold;left:979.40px;transform:scaleX(1.1422);transform-origin:left center;">4%</div>
<div class="t" style="top:280.20px;font-size:13px;color:#fff;font-weight:bold;left:1015.40px;">−</div>
<div class="t" style="top:280.53px;font-size:12.6px;color:#fff;font-weight:bold;left:1082.00px;transform:scaleX(1.1532);transform-origin:left center;">5%</div>
<div class="t" style="top:305.00px;font-size:12.4px;color:#c8c8c8;font-weight:bold;left:821.00px;transform:scaleX(1.0473);transform-origin:left center;">Count</div>
<div class="t" style="top:304.83px;font-size:12.6px;color:#fff;font-weight:bold;left:924.80px;transform:scaleX(1.1275);transform-origin:left center;">64</div>
<div class="t" style="top:304.83px;font-size:12.6px;color:#fff;font-weight:bold;left:1027.40px;transform:scaleX(1.1275);transform-origin:left center;">79</div>
<div class="t" style="top:338.92px;font-size:16.4px;color:#00f000;font-weight:bold;left:821.40px;transform:scaleX(1.2397);transform-origin:left center;">3/6/2026 1:25:19 PM</div>
<div class="t" style="top:377.00px;font-size:13px;color:#fff;left:821.40px;transform:scaleX(1.0303);transform-origin:left center;">Squelch</div>
<div class="t" style="top:377.00px;font-size:13px;color:#fff;left:909.50px;">0</div>
<div class="t" style="top:377.00px;font-size:13px;color:#fff;left:981.20px;transform:scaleX(1.0608);transform-origin:left center;">Upload</div>
<div class="t" style="top:377.00px;font-size:13px;color:#c0c0c0;left:1060.80px;transform:scaleX(1.0676);transform-origin:left center;">Disabled</div>
<div class="t" style="top:397.00px;font-size:13px;color:#fff;left:821.40px;transform:scaleX(1.0631);transform-origin:left center;">Persistence</div>
<div class="t" style="top:397.00px;font-size:13px;color:#fff;left:909.50px;transform:scaleX(1.0662);transform-origin:left center;">90 min</div>
<div class="t" style="top:397.00px;font-size:13px;color:#fff;left:981.20px;transform:scaleX(1.0920);transform-origin:left center;">Capture</div>
<div class="t" style="top:397.00px;font-size:13px;color:#00dc00;left:1060.80px;transform:scaleX(1.0395);transform-origin:left center;">Active</div>
<div class="t" style="top:417.00px;font-size:13px;color:#fff;left:821.40px;transform:scaleX(1.0312);transform-origin:left center;">Range</div>
<div class="t" style="top:417.00px;font-size:13px;color:#fff;left:909.50px;transform:scaleX(1.0662);transform-origin:left center;">313 mi</div>
<div class="t" style="top:417.00px;font-size:13px;color:#fff;left:981.20px;transform:scaleX(1.0255);transform-origin:left center;">Receiver</div>
<div class="t" style="top:417.00px;font-size:13px;color:#00dc00;left:1060.80px;transform:scaleX(1.0690);transform-origin:left center;">Enabled</div>
<div class="t" style="top:464.00px;font-size:13px;color:#c4c4c4;left:821.40px;transform:scaleX(1.0443);transform-origin:left center;">Uptime</div>
<div class="t" style="top:464.00px;font-size:13px;color:#fff;left:909.90px;transform:scaleX(1.1067);transform-origin:left center;">1273:10</div>
<div class="t" style="top:464.00px;font-size:13px;color:#c4c4c4;left:981.20px;transform:scaleX(1.0692);transform-origin:left center;">Peak time</div>
<div class="t" style="top:464.00px;font-size:13px;color:#c4c4c4;left:1060.80px;transform:scaleX(1.0714);transform-origin:left center;">Plot</div>
<div class="t" style="top:486.60px;font-size:13px;color:#c4c4c4;left:821.40px;transform:scaleX(1.0784);transform-origin:left center;">Peak rate</div>
<div class="t" style="top:486.60px;font-size:13px;color:#fff;left:909.90px;transform:scaleX(1.0662);transform-origin:left center;">14/min</div>
<div class="t" style="top:486.60px;font-size:13px;color:#fff;left:981.80px;transform:scaleX(1.0328);transform-origin:left center;">1:20 PM</div>
<div class="t" style="top:486.60px;font-size:13px;color:#fff;left:1060.80px;transform:scaleX(1.0834);transform-origin:left center;">Strike</div>
<div class="t" style="top:516.30px;font-size:13px;color:#c4c4c4;left:822.30px;transform:scaleX(1.0763);transform-origin:left center;">Trend graph</div>
<div class="t" style="top:516.30px;font-size:13px;color:#fff;left:908.40px;transform:scaleX(1.0662);transform-origin:left center;">60 min</div>
<div class="t" style="top:536.44px;font-size:12px;color:#d8d8d8;left:1091.80px;transform:scaleX(0.9591);transform-origin:left center;">30</div>
<div class="t" style="top:614.74px;font-size:12px;color:#d8d8d8;left:1091.80px;transform:scaleX(0.9591);transform-origin:left center;">20</div>
<div class="t" style="top:693.14px;font-size:12px;color:#d8d8d8;left:1091.80px;transform:scaleX(0.9591);transform-origin:left center;">10</div>
<div class="t" style="top:783.04px;font-size:12px;color:#d8d8d8;left:821.00px;transform:scaleX(0.9591);transform-origin:left center;">60</div>
<div class="t" style="top:783.04px;font-size:12px;color:#d8d8d8;left:865.00px;transform:scaleX(0.9591);transform-origin:left center;">50</div>
<div class="t" style="top:783.04px;font-size:12px;color:#d8d8d8;left:909.50px;transform:scaleX(0.9591);transform-origin:left center;">40</div>
<div class="t" style="top:783.04px;font-size:12px;color:#d8d8d8;left:953.50px;transform:scaleX(0.9591);transform-origin:left center;">30</div>
<div class="t" style="top:783.04px;font-size:12px;color:#d8d8d8;left:998.00px;transform:scaleX(0.9591);transform-origin:left center;">20</div>
<div class="t" style="top:783.04px;font-size:12px;color:#d8d8d8;left:1042.50px;transform:scaleX(0.9591);transform-origin:left center;">10</div>
<div class="t" style="top:783.04px;font-size:12px;color:#d8d8d8;left:1087.00px;">0</div>
<div class="t" style="top:783.04px;font-size:12px;color:#d8d8d8;left:1101.00px;transform:scaleX(0.9051);transform-origin:left center;">min</div>
<div class="t" style="top:763.20px;font-size:10.4px;color:#e0e0e0;left:13.50px;transform:scaleX(0.8777);transform-origin:left center;">Symbols</div>
<div class="t" style="top:763.20px;font-size:10.4px;color:#fff;left:52.50px;transform:scaleX(0.9180);transform-origin:left center;">-CG</div>
<div class="t" style="top:763.20px;font-size:10.4px;color:#fff;left:77.50px;transform:scaleX(1.0460);transform-origin:left center;">-IC</div>
<div class="t" style="top:763.20px;font-size:10.4px;color:#fff;left:98.50px;transform:scaleX(0.9458);transform-origin:left center;">+CG</div>
<div class="t" style="top:763.20px;font-size:10.4px;color:#fff;left:124.00px;transform:scaleX(1.0623);transform-origin:left center;">+IC</div>
<div class="t" style="top:763.20px;font-size:10.4px;color:#e0e0e0;left:153.00px;transform:scaleX(0.8698);transform-origin:left center;">Strike age color codes</div>
<div class="t" style="top:776.20px;font-size:10.4px;color:#e0e0e0;left:13.50px;transform:scaleX(0.8498);transform-origin:left center;">Recent</div>
<div class="t" style="top:789.20px;font-size:10.4px;color:#e0e0e0;left:13.50px;transform:scaleX(0.8651);transform-origin:left center;">Old</div>
<div class="t" style="top:776.20px;font-size:10.4px;color:#f0c000;left:153.50px;transform:scaleX(0.9353);transform-origin:left center;">15+</div>
<div class="t" style="top:776.20px;font-size:10.4px;color:#e0a000;left:188.00px;transform:scaleX(0.9353);transform-origin:left center;">30+</div>
<div class="t" style="top:776.20px;font-size:10.4px;color:#e08c00;left:223.00px;transform:scaleX(0.9353);transform-origin:left center;">45+</div>
<div class="t" style="top:789.20px;font-size:10.4px;color:#d87800;left:153.50px;transform:scaleX(0.9353);transform-origin:left center;">60+</div>
<div class="t" style="top:789.20px;font-size:10.4px;color:#e06020;left:188.00px;transform:scaleX(0.9353);transform-origin:left center;">75+</div>
<div class="t" style="top:789.20px;font-size:10.4px;color:#e83c10;left:223.00px;transform:scaleX(0.9353);transform-origin:left center;">90+</div>
<div class="t" style="top:793.53px;font-size:10.6px;color:#f0f0f0;left:688.60px;transform:scaleX(0.8869);transform-origin:left center;">©2005 Astrogenic Systems</div>
</body></html>
